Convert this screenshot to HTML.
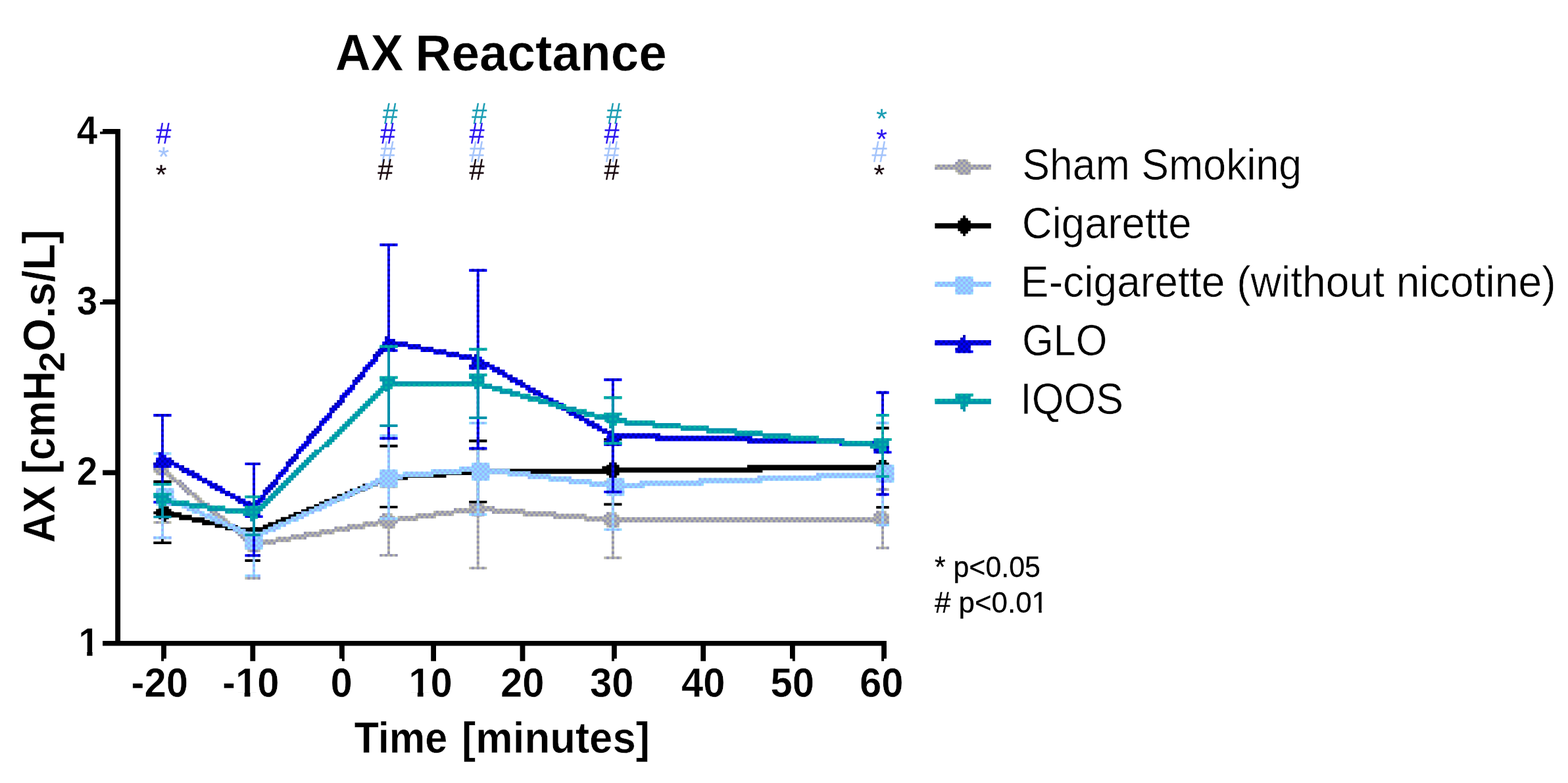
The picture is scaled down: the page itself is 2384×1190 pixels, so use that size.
<!DOCTYPE html>
<html lang="en">
<head>
<meta charset="utf-8">
<title>AX Reactance</title>
<style>
html,body{margin:0;padding:0;background:#fff;}
body{width:2384px;height:1190px;}
svg{display:block;}
text{white-space:pre;}
.r{stroke:#fff;stroke-width:0.6px;}
.b{stroke:#fff;stroke-width:0.5px;}
.p{stroke:#000;stroke-width:0.3px;}
</style>
</head>
<body>
<svg width="2384" height="1190" viewBox="0 0 2384 1190">
<rect width="2384" height="1190" fill="#fff"/>
<g id="plot">
<g>
<path fill="#b9b9a9" d="M248.89 709.61H252.78V713.8H248.89ZM245 713.5H256.67V717.69H245ZM248.89 717.39H260.56V721.58H248.89ZM252.78 721.28H264.45V725.47H252.78ZM256.67 725.17H268.34V729.36H256.67ZM260.56 729.06H276.12V733.25H260.56ZM268.34 732.95H280.01V737.14H268.34ZM272.23 736.84H283.9V741.03H272.23ZM276.12 740.73H287.79V744.92H276.12ZM280.01 744.62H291.68V748.81H280.01ZM283.9 748.51H299.46V752.7H283.9ZM291.68 752.4H303.35V756.59H291.68ZM295.57 756.29H307.24V760.48H295.57ZM299.46 760.18H311.13V764.37H299.46ZM303.35 764.07H318.91V768.26H303.35ZM311.13 767.96H322.8V772.15H311.13ZM315.02 771.85H326.69V776.04H315.02ZM318.91 775.74H330.58V779.93H318.91ZM322.8 779.63H334.47V783.82H322.8ZM326.69 783.52H342.25V787.71H326.69ZM334.47 787.41H346.14V791.6H334.47ZM338.36 791.3H350.03V795.49H338.36ZM342.25 795.19H353.92V799.38H342.25ZM346.14 799.08H361.7V803.27H346.14ZM353.92 802.97H365.59V807.16H353.92ZM357.81 806.86H369.48V811.05H357.81ZM361.7 810.75H373.37V814.94H361.7ZM365.59 814.64H377.26V818.83H365.59ZM369.48 818.53H385.04V822.72H369.48ZM377.26 822.42H385.04V826.61H377.26ZM381.15 826.31H385.04V830.2H381.15Z"/>
<path fill="#9292b3" d="M248.89 713.5h3.89v3.89h-3.89ZM252.78 717.39h3.89v3.89h-3.89ZM256.67 721.28h3.89v3.89h-3.89ZM260.56 725.17h3.89v3.89h-3.89ZM264.45 729.06h3.89v3.89h-3.89ZM272.23 729.06h3.89v3.89h-3.89ZM268.34 732.95h3.89v3.89h-3.89ZM276.12 732.95h3.89v3.89h-3.89ZM272.23 736.84h3.89v3.89h-3.89ZM280.01 736.84h3.89v3.89h-3.89ZM276.12 740.73h3.89v3.89h-3.89ZM283.9 740.73h3.89v3.89h-3.89ZM280.01 744.62h3.89v3.89h-3.89ZM287.79 744.62h3.89v3.89h-3.89ZM283.9 748.51h3.89v3.89h-3.89ZM291.68 748.51h3.89v3.89h-3.89ZM295.57 752.4h3.89v3.89h-3.89ZM299.46 756.29h3.89v3.89h-3.89ZM303.35 760.18h3.89v3.89h-3.89ZM307.24 764.07h3.89v3.89h-3.89ZM315.02 764.07h3.89v3.89h-3.89ZM311.13 767.96h3.89v3.89h-3.89ZM318.91 767.96h3.89v3.89h-3.89ZM315.02 771.85h3.89v3.89h-3.89ZM322.8 771.85h3.89v3.89h-3.89ZM318.91 775.74h3.89v3.89h-3.89ZM326.69 775.74h3.89v3.89h-3.89ZM322.8 779.63h3.89v3.89h-3.89ZM330.58 779.63h3.89v3.89h-3.89ZM326.69 783.52h3.89v3.89h-3.89ZM334.47 783.52h3.89v3.89h-3.89ZM338.36 787.41h3.89v3.89h-3.89ZM342.25 791.3h3.89v3.89h-3.89ZM346.14 795.19h3.89v3.89h-3.89ZM350.03 799.08h3.89v3.89h-3.89ZM357.81 799.08h3.89v3.89h-3.89ZM353.92 802.97h3.89v3.89h-3.89ZM361.7 802.97h3.89v3.89h-3.89ZM357.81 806.86h3.89v3.89h-3.89ZM365.59 806.86h3.89v3.89h-3.89ZM361.7 810.75h3.89v3.89h-3.89ZM369.48 810.75h3.89v3.89h-3.89ZM365.59 814.64h3.89v3.89h-3.89ZM373.37 814.64h3.89v3.89h-3.89ZM369.48 818.53h3.89v3.89h-3.89ZM377.26 818.53h3.89v3.89h-3.89ZM381.15 822.42h3.89v3.89h-3.89Z"/>
<path fill="#b9b9a9" d="M574.71 788.6H590.27V792.79H574.71ZM551.37 792.49H590.27V796.68H551.37ZM528.03 796.38H574.71V800.57H528.03ZM508.58 800.27H555.26V804.46H508.58ZM485.24 804.16H531.92V808.35H485.24ZM461.9 808.05H508.58V812.24H461.9ZM442.45 811.94H489.13V816.13H442.45ZM419.11 815.83H465.79V820.02H419.11ZM395.77 819.72H442.45V823.91H395.77ZM384.1 823.61H419.11V827.8H384.1ZM387.99 827.5H399.66V831.39H387.99Z"/>
<path fill="#9292b3" d="M574.71 788.6h3.89v3.89h-3.89ZM582.49 788.6h3.89v3.89h-3.89ZM555.26 792.49h3.89v3.89h-3.89ZM563.04 792.49h3.89v3.89h-3.89ZM570.82 792.49h3.89v3.89h-3.89ZM578.6 792.49h3.89v3.89h-3.89ZM586.38 792.49h3.89v3.89h-3.89ZM528.03 796.38h3.89v3.89h-3.89ZM535.81 796.38h3.89v3.89h-3.89ZM543.59 796.38h3.89v3.89h-3.89ZM551.37 796.38h3.89v3.89h-3.89ZM559.15 796.38h3.89v3.89h-3.89ZM566.93 796.38h3.89v3.89h-3.89ZM508.58 800.27h3.89v3.89h-3.89ZM516.36 800.27h3.89v3.89h-3.89ZM524.14 800.27h3.89v3.89h-3.89ZM531.92 800.27h3.89v3.89h-3.89ZM539.7 800.27h3.89v3.89h-3.89ZM547.48 800.27h3.89v3.89h-3.89ZM489.13 804.16h3.89v3.89h-3.89ZM496.91 804.16h3.89v3.89h-3.89ZM504.69 804.16h3.89v3.89h-3.89ZM512.47 804.16h3.89v3.89h-3.89ZM520.25 804.16h3.89v3.89h-3.89ZM528.03 804.16h3.89v3.89h-3.89ZM461.9 808.05h3.89v3.89h-3.89ZM469.68 808.05h3.89v3.89h-3.89ZM477.46 808.05h3.89v3.89h-3.89ZM485.24 808.05h3.89v3.89h-3.89ZM493.02 808.05h3.89v3.89h-3.89ZM500.8 808.05h3.89v3.89h-3.89ZM442.45 811.94h3.89v3.89h-3.89ZM450.23 811.94h3.89v3.89h-3.89ZM458.01 811.94h3.89v3.89h-3.89ZM465.79 811.94h3.89v3.89h-3.89ZM473.57 811.94h3.89v3.89h-3.89ZM481.35 811.94h3.89v3.89h-3.89ZM423 815.83h3.89v3.89h-3.89ZM430.78 815.83h3.89v3.89h-3.89ZM438.56 815.83h3.89v3.89h-3.89ZM446.34 815.83h3.89v3.89h-3.89ZM454.12 815.83h3.89v3.89h-3.89ZM461.9 815.83h3.89v3.89h-3.89ZM395.77 819.72h3.89v3.89h-3.89ZM403.55 819.72h3.89v3.89h-3.89ZM411.33 819.72h3.89v3.89h-3.89ZM419.11 819.72h3.89v3.89h-3.89ZM426.89 819.72h3.89v3.89h-3.89ZM434.67 819.72h3.89v3.89h-3.89ZM384.1 823.61h3.89v3.89h-3.89ZM391.88 823.61h3.89v3.89h-3.89ZM399.66 823.61h3.89v3.89h-3.89ZM407.44 823.61h3.89v3.89h-3.89ZM415.22 823.61h3.89v3.89h-3.89ZM387.99 827.5h3.89v3.89h-3.89ZM395.77 827.5h3.89v3.89h-3.89Z"/>
<path fill="#b9b9a9" d="M717.37 768.36H725.15V772.55H717.37ZM690.14 772.25H725.15V776.44H690.14ZM659.02 776.14H717.37V780.33H659.02ZM631.79 780.03H690.14V784.22H631.79ZM604.56 783.92H662.91V788.11H604.56ZM589 787.81H635.68V792H589ZM592.89 791.7H604.56V795.59H592.89Z"/>
<path fill="#9292b3" d="M717.37 768.36h3.89v3.89h-3.89ZM690.14 772.25h3.89v3.89h-3.89ZM697.92 772.25h3.89v3.89h-3.89ZM705.7 772.25h3.89v3.89h-3.89ZM713.48 772.25h3.89v3.89h-3.89ZM721.26 772.25h3.89v3.89h-3.89ZM662.91 776.14h3.89v3.89h-3.89ZM670.69 776.14h3.89v3.89h-3.89ZM678.47 776.14h3.89v3.89h-3.89ZM686.25 776.14h3.89v3.89h-3.89ZM694.03 776.14h3.89v3.89h-3.89ZM701.81 776.14h3.89v3.89h-3.89ZM709.59 776.14h3.89v3.89h-3.89ZM635.68 780.03h3.89v3.89h-3.89ZM643.46 780.03h3.89v3.89h-3.89ZM651.24 780.03h3.89v3.89h-3.89ZM659.02 780.03h3.89v3.89h-3.89ZM666.8 780.03h3.89v3.89h-3.89ZM674.58 780.03h3.89v3.89h-3.89ZM682.36 780.03h3.89v3.89h-3.89ZM608.45 783.92h3.89v3.89h-3.89ZM616.23 783.92h3.89v3.89h-3.89ZM624.01 783.92h3.89v3.89h-3.89ZM631.79 783.92h3.89v3.89h-3.89ZM639.57 783.92h3.89v3.89h-3.89ZM647.35 783.92h3.89v3.89h-3.89ZM655.13 783.92h3.89v3.89h-3.89ZM589 787.81h3.89v3.89h-3.89ZM596.78 787.81h3.89v3.89h-3.89ZM604.56 787.81h3.89v3.89h-3.89ZM612.34 787.81h3.89v3.89h-3.89ZM620.12 787.81h3.89v3.89h-3.89ZM627.9 787.81h3.89v3.89h-3.89ZM592.89 791.7h3.89v3.89h-3.89ZM600.67 791.7h3.89v3.89h-3.89Z"/>
<path fill="#b9b9a9" d="M728.69 769.11H752.03V773.3H728.69ZM724.8 773H798.71V777.19H724.8ZM748.14 776.89H845.39V781.08H748.14ZM794.82 780.78H892.07V784.97H794.82ZM841.5 784.67H930.97V788.86H841.5ZM888.18 788.56H930.97V792.45H888.18Z"/>
<path fill="#9292b3" d="M732.58 769.11h3.89v3.89h-3.89ZM740.36 769.11h3.89v3.89h-3.89ZM748.14 769.11h3.89v3.89h-3.89ZM728.69 773h3.89v3.89h-3.89ZM736.47 773h3.89v3.89h-3.89ZM744.25 773h3.89v3.89h-3.89ZM752.03 773h3.89v3.89h-3.89ZM759.81 773h3.89v3.89h-3.89ZM767.59 773h3.89v3.89h-3.89ZM775.37 773h3.89v3.89h-3.89ZM783.15 773h3.89v3.89h-3.89ZM790.93 773h3.89v3.89h-3.89ZM748.14 776.89h3.89v3.89h-3.89ZM755.92 776.89h3.89v3.89h-3.89ZM763.7 776.89h3.89v3.89h-3.89ZM771.48 776.89h3.89v3.89h-3.89ZM779.26 776.89h3.89v3.89h-3.89ZM787.04 776.89h3.89v3.89h-3.89ZM794.82 776.89h3.89v3.89h-3.89ZM802.6 776.89h3.89v3.89h-3.89ZM810.38 776.89h3.89v3.89h-3.89ZM818.16 776.89h3.89v3.89h-3.89ZM825.94 776.89h3.89v3.89h-3.89ZM833.72 776.89h3.89v3.89h-3.89ZM841.5 776.89h3.89v3.89h-3.89ZM798.71 780.78h3.89v3.89h-3.89ZM806.49 780.78h3.89v3.89h-3.89ZM814.27 780.78h3.89v3.89h-3.89ZM822.05 780.78h3.89v3.89h-3.89ZM829.83 780.78h3.89v3.89h-3.89ZM837.61 780.78h3.89v3.89h-3.89ZM845.39 780.78h3.89v3.89h-3.89ZM853.17 780.78h3.89v3.89h-3.89ZM860.95 780.78h3.89v3.89h-3.89ZM868.73 780.78h3.89v3.89h-3.89ZM876.51 780.78h3.89v3.89h-3.89ZM884.29 780.78h3.89v3.89h-3.89ZM841.5 784.67h3.89v3.89h-3.89ZM849.28 784.67h3.89v3.89h-3.89ZM857.06 784.67h3.89v3.89h-3.89ZM864.84 784.67h3.89v3.89h-3.89ZM872.62 784.67h3.89v3.89h-3.89ZM880.4 784.67h3.89v3.89h-3.89ZM888.18 784.67h3.89v3.89h-3.89ZM895.96 784.67h3.89v3.89h-3.89ZM903.74 784.67h3.89v3.89h-3.89ZM911.52 784.67h3.89v3.89h-3.89ZM919.3 784.67h3.89v3.89h-3.89ZM927.08 784.67h3.89v3.89h-3.89ZM892.07 788.56h3.89v3.89h-3.89ZM899.85 788.56h3.89v3.89h-3.89ZM907.63 788.56h3.89v3.89h-3.89ZM915.41 788.56h3.89v3.89h-3.89ZM923.19 788.56h3.89v3.89h-3.89Z"/>
<path fill="#b9b9a9" d="M929.9 786.11H1342.24V790.3H929.9ZM933.79 790H1342.24V793.89H933.79Z"/>
<path fill="#9292b3" d="M929.9 786.11h3.89v3.89h-3.89ZM937.68 786.11h3.89v3.89h-3.89ZM945.46 786.11h3.89v3.89h-3.89ZM953.24 786.11h3.89v3.89h-3.89ZM961.02 786.11h3.89v3.89h-3.89ZM968.8 786.11h3.89v3.89h-3.89ZM976.58 786.11h3.89v3.89h-3.89ZM984.36 786.11h3.89v3.89h-3.89ZM992.14 786.11h3.89v3.89h-3.89ZM999.92 786.11h3.89v3.89h-3.89ZM1007.7 786.11h3.89v3.89h-3.89ZM1015.48 786.11h3.89v3.89h-3.89ZM1023.26 786.11h3.89v3.89h-3.89ZM1031.04 786.11h3.89v3.89h-3.89ZM1038.82 786.11h3.89v3.89h-3.89ZM1046.6 786.11h3.89v3.89h-3.89ZM1054.38 786.11h3.89v3.89h-3.89ZM1062.16 786.11h3.89v3.89h-3.89ZM1069.94 786.11h3.89v3.89h-3.89ZM1077.72 786.11h3.89v3.89h-3.89ZM1085.5 786.11h3.89v3.89h-3.89ZM1093.28 786.11h3.89v3.89h-3.89ZM1101.06 786.11h3.89v3.89h-3.89ZM1108.84 786.11h3.89v3.89h-3.89ZM1116.62 786.11h3.89v3.89h-3.89ZM1124.4 786.11h3.89v3.89h-3.89ZM1132.18 786.11h3.89v3.89h-3.89ZM1139.96 786.11h3.89v3.89h-3.89ZM1147.74 786.11h3.89v3.89h-3.89ZM1155.52 786.11h3.89v3.89h-3.89ZM1163.3 786.11h3.89v3.89h-3.89ZM1171.08 786.11h3.89v3.89h-3.89ZM1178.86 786.11h3.89v3.89h-3.89ZM1186.64 786.11h3.89v3.89h-3.89ZM1194.42 786.11h3.89v3.89h-3.89ZM1202.2 786.11h3.89v3.89h-3.89ZM1209.98 786.11h3.89v3.89h-3.89ZM1217.76 786.11h3.89v3.89h-3.89ZM1225.54 786.11h3.89v3.89h-3.89ZM1233.32 786.11h3.89v3.89h-3.89ZM1241.1 786.11h3.89v3.89h-3.89ZM1248.88 786.11h3.89v3.89h-3.89ZM1256.66 786.11h3.89v3.89h-3.89ZM1264.44 786.11h3.89v3.89h-3.89ZM1272.22 786.11h3.89v3.89h-3.89ZM1280 786.11h3.89v3.89h-3.89ZM1287.78 786.11h3.89v3.89h-3.89ZM1295.56 786.11h3.89v3.89h-3.89ZM1303.34 786.11h3.89v3.89h-3.89ZM1311.12 786.11h3.89v3.89h-3.89ZM1318.9 786.11h3.89v3.89h-3.89ZM1326.68 786.11h3.89v3.89h-3.89ZM1334.46 786.11h3.89v3.89h-3.89ZM933.79 790h3.89v3.89h-3.89ZM941.57 790h3.89v3.89h-3.89ZM949.35 790h3.89v3.89h-3.89ZM957.13 790h3.89v3.89h-3.89ZM964.91 790h3.89v3.89h-3.89ZM972.69 790h3.89v3.89h-3.89ZM980.47 790h3.89v3.89h-3.89ZM988.25 790h3.89v3.89h-3.89ZM996.03 790h3.89v3.89h-3.89ZM1003.81 790h3.89v3.89h-3.89ZM1011.59 790h3.89v3.89h-3.89ZM1019.37 790h3.89v3.89h-3.89ZM1027.15 790h3.89v3.89h-3.89ZM1034.93 790h3.89v3.89h-3.89ZM1042.71 790h3.89v3.89h-3.89ZM1050.49 790h3.89v3.89h-3.89ZM1058.27 790h3.89v3.89h-3.89ZM1066.05 790h3.89v3.89h-3.89ZM1073.83 790h3.89v3.89h-3.89ZM1081.61 790h3.89v3.89h-3.89ZM1089.39 790h3.89v3.89h-3.89ZM1097.17 790h3.89v3.89h-3.89ZM1104.95 790h3.89v3.89h-3.89ZM1112.73 790h3.89v3.89h-3.89ZM1120.51 790h3.89v3.89h-3.89ZM1128.29 790h3.89v3.89h-3.89ZM1136.07 790h3.89v3.89h-3.89ZM1143.85 790h3.89v3.89h-3.89ZM1151.63 790h3.89v3.89h-3.89ZM1159.41 790h3.89v3.89h-3.89ZM1167.19 790h3.89v3.89h-3.89ZM1174.97 790h3.89v3.89h-3.89ZM1182.75 790h3.89v3.89h-3.89ZM1190.53 790h3.89v3.89h-3.89ZM1198.31 790h3.89v3.89h-3.89ZM1206.09 790h3.89v3.89h-3.89ZM1213.87 790h3.89v3.89h-3.89ZM1221.65 790h3.89v3.89h-3.89ZM1229.43 790h3.89v3.89h-3.89ZM1237.21 790h3.89v3.89h-3.89ZM1244.99 790h3.89v3.89h-3.89ZM1252.77 790h3.89v3.89h-3.89ZM1260.55 790h3.89v3.89h-3.89ZM1268.33 790h3.89v3.89h-3.89ZM1276.11 790h3.89v3.89h-3.89ZM1283.89 790h3.89v3.89h-3.89ZM1291.67 790h3.89v3.89h-3.89ZM1299.45 790h3.89v3.89h-3.89ZM1307.23 790h3.89v3.89h-3.89ZM1315.01 790h3.89v3.89h-3.89ZM1322.79 790h3.89v3.89h-3.89ZM1330.57 790h3.89v3.89h-3.89ZM1338.35 790h3.89v3.89h-3.89Z"/>
<path fill="#b9b9a9" d="M233.33 629.25H260.56V633.43H233.33ZM245 633.13H248.89V637.31H245ZM245 637.01H248.89V641.18H245ZM245 640.88H248.89V645.06H245ZM245 644.76H248.89V648.94H245ZM245 648.64H248.89V652.81H245ZM245 652.51H248.89V656.69H245ZM245 656.39H248.89V660.57H245ZM245 660.27H248.89V664.44H245ZM245 664.14H248.89V668.32H245ZM245 668.02H248.89V672.2H245ZM245 671.9H248.89V676.07H245ZM245 675.77H248.89V679.95H245ZM245 679.65H248.89V683.83H245ZM245 683.53H248.89V687.7H245ZM245 687.4H248.89V691.58H245ZM245 691.28H248.89V695.46H245ZM245 695.16H248.89V699.33H245ZM245 699.03H248.89V703.21H245ZM245 702.91H248.89V707.09H245ZM245 706.79H248.89V710.96H245ZM245 710.66H248.89V714.84H245ZM245 714.54H248.89V718.71H245ZM245 718.41H248.89V722.59H245ZM245 722.29H248.89V726.47H245ZM245 726.17H248.89V730.34H245ZM245 730.04H248.89V734.22H245ZM245 733.92H248.89V738.1H245ZM245 737.8H248.89V741.97H245ZM245 741.67H248.89V745.85H245ZM245 745.55H248.89V749.73H245ZM245 749.43H248.89V753.6H245ZM245 753.3H248.89V757.48H245ZM245 757.18H248.89V761.36H245ZM245 761.06H248.89V765.23H245ZM245 764.93H248.89V769.11H245ZM245 768.81H248.89V772.99H245ZM245 772.69H248.89V776.86H245ZM245 776.56H248.89V780.74H245ZM245 780.44H248.89V784.62H245ZM245 784.32H248.89V788.49H245ZM245 788.19H248.89V792.37H245ZM233.33 792.07H260.56V795.95H233.33Z"/>
<path fill="#9292b3" d="M237.22 629.25h3.89v3.88h-3.89ZM245 629.25h3.89v3.88h-3.89ZM252.78 629.25h3.89v3.88h-3.89ZM245 637.01h3.89v3.88h-3.89ZM245 644.76h3.89v3.88h-3.89ZM245 652.51h3.89v3.88h-3.89ZM245 660.27h3.89v3.88h-3.89ZM245 668.02h3.89v3.88h-3.89ZM245 675.77h3.89v3.88h-3.89ZM245 683.53h3.89v3.88h-3.89ZM245 691.28h3.89v3.88h-3.89ZM245 699.03h3.89v3.88h-3.89ZM245 706.79h3.89v3.88h-3.89ZM245 714.54h3.89v3.88h-3.89ZM245 722.29h3.89v3.88h-3.89ZM245 730.04h3.89v3.88h-3.89ZM245 737.8h3.89v3.88h-3.89ZM245 745.55h3.89v3.88h-3.89ZM245 753.3h3.89v3.88h-3.89ZM245 761.06h3.89v3.88h-3.89ZM245 768.81h3.89v3.88h-3.89ZM245 776.56h3.89v3.88h-3.89ZM245 784.32h3.89v3.88h-3.89ZM237.22 792.07h3.89v3.88h-3.89ZM245 792.07h3.89v3.88h-3.89ZM252.78 792.07h3.89v3.88h-3.89Z"/>
<path fill="#b9b9a9" d="M372.43 774.05H395.77V778.31H372.43ZM384.1 778.01H387.99V782.26H384.1ZM384.1 781.96H387.99V786.21H384.1ZM384.1 785.91H387.99V790.16H384.1ZM384.1 789.86H387.99V794.11H384.1ZM384.1 793.81H387.99V798.06H384.1ZM384.1 797.76H387.99V802.02H384.1ZM384.1 801.72H387.99V805.97H384.1ZM384.1 805.67H387.99V809.92H384.1ZM384.1 809.62H387.99V813.87H384.1ZM384.1 813.57H387.99V817.82H384.1ZM384.1 817.52H387.99V821.77H384.1ZM384.1 821.47H387.99V825.72H384.1ZM384.1 825.42H387.99V829.68H384.1ZM384.1 829.38H387.99V833.63H384.1ZM384.1 833.33H387.99V837.58H384.1ZM384.1 837.28H387.99V841.53H384.1ZM384.1 841.23H387.99V845.48H384.1ZM384.1 845.18H387.99V849.43H384.1ZM384.1 849.13H387.99V853.38H384.1ZM384.1 853.08H387.99V857.34H384.1ZM384.1 857.04H387.99V861.29H384.1ZM384.1 860.99H387.99V865.24H384.1ZM384.1 864.94H387.99V869.19H384.1ZM384.1 868.89H387.99V873.14H384.1ZM384.1 872.84H387.99V877.09H384.1ZM372.43 876.79H395.77V880.75H372.43Z"/>
<path fill="#9292b3" d="M376.32 774.05h3.89v3.95h-3.89ZM384.1 774.05h3.89v3.95h-3.89ZM391.88 774.05h3.89v3.95h-3.89ZM384.1 781.96h3.89v3.95h-3.89ZM384.1 789.86h3.89v3.95h-3.89ZM384.1 797.76h3.89v3.95h-3.89ZM384.1 805.67h3.89v3.95h-3.89ZM384.1 813.57h3.89v3.95h-3.89ZM384.1 821.47h3.89v3.95h-3.89ZM384.1 829.38h3.89v3.95h-3.89ZM384.1 837.28h3.89v3.95h-3.89ZM384.1 845.18h3.89v3.95h-3.89ZM384.1 853.08h3.89v3.95h-3.89ZM384.1 860.99h3.89v3.95h-3.89ZM384.1 868.89h3.89v3.95h-3.89ZM376.32 876.79h3.89v3.95h-3.89ZM384.1 876.79h3.89v3.95h-3.89ZM391.88 876.79h3.89v3.95h-3.89Z"/>
<path fill="#b9b9a9" d="M577.33 737.55H604.56V741.72H577.33ZM589 741.42H592.89V745.59H589ZM589 745.29H592.89V749.46H589ZM589 749.16H592.89V753.32H589ZM589 753.02H592.89V757.19H589ZM589 756.89H592.89V761.06H589ZM589 760.76H592.89V764.93H589ZM589 764.63H592.89V768.79H589ZM589 768.5H592.89V772.66H589ZM589 772.36H592.89V776.53H589ZM589 776.23H592.89V780.4H589ZM589 780.1H592.89V784.26H589ZM589 783.97H592.89V788.13H589ZM589 787.83H592.89V792H589ZM589 791.7H592.89V795.87H589ZM589 795.57H592.89V799.73H589ZM589 799.43H592.89V803.6H589ZM589 803.3H592.89V807.47H589ZM589 807.17H592.89V811.34H589ZM589 811.04H592.89V815.2H589ZM589 814.9H592.89V819.07H589ZM589 818.77H592.89V822.94H589ZM589 822.64H592.89V826.81H589ZM589 826.51H592.89V830.67H589ZM589 830.38H592.89V834.54H589ZM589 834.24H592.89V838.41H589ZM589 838.11H592.89V842.28H589ZM577.33 841.98H604.56V845.85H577.33Z"/>
<path fill="#9292b3" d="M581.22 737.55h3.89v3.87h-3.89ZM589 737.55h3.89v3.87h-3.89ZM596.78 737.55h3.89v3.87h-3.89ZM589 745.29h3.89v3.87h-3.89ZM589 753.02h3.89v3.87h-3.89ZM589 760.76h3.89v3.87h-3.89ZM589 768.5h3.89v3.87h-3.89ZM589 776.23h3.89v3.87h-3.89ZM589 783.97h3.89v3.87h-3.89ZM589 791.7h3.89v3.87h-3.89ZM589 799.43h3.89v3.87h-3.89ZM589 807.17h3.89v3.87h-3.89ZM589 814.9h3.89v3.87h-3.89ZM589 822.64h3.89v3.87h-3.89ZM589 830.38h3.89v3.87h-3.89ZM589 838.11h3.89v3.87h-3.89ZM577.33 841.98h3.89v3.87h-3.89ZM585.11 841.98h3.89v3.87h-3.89ZM592.89 841.98h3.89v3.87h-3.89ZM600.67 841.98h3.89v3.87h-3.89Z"/>
<path fill="#b9b9a9" d="M713.13 680.65H740.36V684.88H713.13ZM724.8 684.58H728.69V688.81H724.8ZM724.8 688.51H728.69V692.74H724.8ZM724.8 692.44H728.69V696.67H724.8ZM724.8 696.37H728.69V700.6H724.8ZM724.8 700.3H728.69V704.53H724.8ZM724.8 704.23H728.69V708.46H724.8ZM724.8 708.16H728.69V712.39H724.8ZM724.8 712.09H728.69V716.32H724.8ZM724.8 716.02H728.69V720.25H724.8ZM724.8 719.95H728.69V724.18H724.8ZM724.8 723.88H728.69V728.11H724.8ZM724.8 727.81H728.69V732.04H724.8ZM724.8 731.74H728.69V735.97H724.8ZM724.8 735.67H728.69V739.9H724.8ZM724.8 739.6H728.69V743.83H724.8ZM724.8 743.53H728.69V747.76H724.8ZM724.8 747.46H728.69V751.69H724.8ZM724.8 751.39H728.69V755.62H724.8ZM724.8 755.32H728.69V759.55H724.8ZM724.8 759.25H728.69V763.48H724.8ZM724.8 763.18H728.69V767.41H724.8ZM724.8 767.11H728.69V771.34H724.8ZM724.8 771.04H728.69V775.26H724.8ZM724.8 774.96H728.69V779.19H724.8ZM724.8 778.89H728.69V783.12H724.8ZM724.8 782.82H728.69V787.05H724.8ZM724.8 786.75H728.69V790.98H724.8ZM724.8 790.68H728.69V794.91H724.8ZM724.8 794.61H728.69V798.84H724.8ZM724.8 798.54H728.69V802.77H724.8ZM724.8 802.47H728.69V806.7H724.8ZM724.8 806.4H728.69V810.63H724.8ZM724.8 810.33H728.69V814.56H724.8ZM724.8 814.26H728.69V818.49H724.8ZM724.8 818.19H728.69V822.42H724.8ZM724.8 822.12H728.69V826.35H724.8ZM724.8 826.05H728.69V830.28H724.8ZM724.8 829.98H728.69V834.21H724.8ZM724.8 833.91H728.69V838.14H724.8ZM724.8 837.84H728.69V842.07H724.8ZM724.8 841.77H728.69V846H724.8ZM724.8 845.7H728.69V849.93H724.8ZM724.8 849.63H728.69V853.86H724.8ZM724.8 853.56H728.69V857.79H724.8ZM724.8 857.49H728.69V861.72H724.8ZM713.13 861.42H740.36V865.35H713.13Z"/>
<path fill="#9292b3" d="M717.02 680.65h3.89v3.93h-3.89ZM724.8 680.65h3.89v3.93h-3.89ZM732.58 680.65h3.89v3.93h-3.89ZM724.8 688.51h3.89v3.93h-3.89ZM724.8 696.37h3.89v3.93h-3.89ZM724.8 704.23h3.89v3.93h-3.89ZM724.8 712.09h3.89v3.93h-3.89ZM724.8 719.95h3.89v3.93h-3.89ZM724.8 727.81h3.89v3.93h-3.89ZM724.8 735.67h3.89v3.93h-3.89ZM724.8 743.53h3.89v3.93h-3.89ZM724.8 751.39h3.89v3.93h-3.89ZM724.8 759.25h3.89v3.93h-3.89ZM724.8 767.11h3.89v3.93h-3.89ZM724.8 774.96h3.89v3.93h-3.89ZM724.8 782.82h3.89v3.93h-3.89ZM724.8 790.68h3.89v3.93h-3.89ZM724.8 798.54h3.89v3.93h-3.89ZM724.8 806.4h3.89v3.93h-3.89ZM724.8 814.26h3.89v3.93h-3.89ZM724.8 822.12h3.89v3.93h-3.89ZM724.8 829.98h3.89v3.93h-3.89ZM724.8 837.84h3.89v3.93h-3.89ZM724.8 845.7h3.89v3.93h-3.89ZM724.8 853.56h3.89v3.93h-3.89ZM717.02 861.42h3.89v3.93h-3.89ZM724.8 861.42h3.89v3.93h-3.89ZM732.58 861.42h3.89v3.93h-3.89Z"/>
<path fill="#b9b9a9" d="M918.23 730.35H945.46V734.5H918.23ZM929.9 734.2H933.79V738.35H929.9ZM929.9 738.05H933.79V742.2H929.9ZM929.9 741.9H933.79V746.05H929.9ZM929.9 745.75H933.79V749.9H929.9ZM929.9 749.6H933.79V753.74H929.9ZM929.9 753.44H933.79V757.59H929.9ZM929.9 757.29H933.79V761.44H929.9ZM929.9 761.14H933.79V765.29H929.9ZM929.9 764.99H933.79V769.14H929.9ZM929.9 768.84H933.79V772.98H929.9ZM929.9 772.68H933.79V776.83H929.9ZM929.9 776.53H933.79V780.68H929.9ZM929.9 780.38H933.79V784.53H929.9ZM929.9 784.23H933.79V788.38H929.9ZM929.9 788.08H933.79V792.22H929.9ZM929.9 791.92H933.79V796.07H929.9ZM929.9 795.77H933.79V799.92H929.9ZM929.9 799.62H933.79V803.77H929.9ZM929.9 803.47H933.79V807.62H929.9ZM929.9 807.32H933.79V811.46H929.9ZM929.9 811.16H933.79V815.31H929.9ZM929.9 815.01H933.79V819.16H929.9ZM929.9 818.86H933.79V823.01H929.9ZM929.9 822.71H933.79V826.86H929.9ZM929.9 826.56H933.79V830.7H929.9ZM929.9 830.4H933.79V834.55H929.9ZM929.9 834.25H933.79V838.4H929.9ZM929.9 838.1H933.79V842.25H929.9ZM929.9 841.95H933.79V846.1H929.9ZM918.23 845.8H945.46V849.65H918.23Z"/>
<path fill="#9292b3" d="M922.12 730.35h3.89v3.85h-3.89ZM929.9 730.35h3.89v3.85h-3.89ZM937.68 730.35h3.89v3.85h-3.89ZM929.9 738.05h3.89v3.85h-3.89ZM929.9 745.75h3.89v3.85h-3.89ZM929.9 753.44h3.89v3.85h-3.89ZM929.9 761.14h3.89v3.85h-3.89ZM929.9 768.84h3.89v3.85h-3.89ZM929.9 776.53h3.89v3.85h-3.89ZM929.9 784.23h3.89v3.85h-3.89ZM929.9 791.92h3.89v3.85h-3.89ZM929.9 799.62h3.89v3.85h-3.89ZM929.9 807.32h3.89v3.85h-3.89ZM929.9 815.01h3.89v3.85h-3.89ZM929.9 822.71h3.89v3.85h-3.89ZM929.9 830.4h3.89v3.85h-3.89ZM929.9 838.1h3.89v3.85h-3.89ZM922.12 845.8h3.89v3.85h-3.89ZM929.9 845.8h3.89v3.85h-3.89ZM937.68 845.8h3.89v3.85h-3.89Z"/>
<path fill="#b9b9a9" d="M1332.22 741.75H1351.67V745.93H1332.22ZM1340 745.63H1343.89V749.8H1340ZM1340 749.5H1343.89V753.67H1340ZM1340 753.37H1343.89V757.54H1340ZM1340 757.24H1343.89V761.41H1340ZM1340 761.11H1343.89V765.28H1340ZM1340 764.98H1343.89V769.15H1340ZM1340 768.85H1343.89V773.02H1340ZM1340 772.72H1343.89V776.89H1340ZM1340 776.59H1343.89V780.76H1340ZM1340 780.46H1343.89V784.63H1340ZM1340 784.33H1343.89V788.5H1340ZM1340 788.2H1343.89V792.37H1340ZM1340 792.07H1343.89V796.24H1340ZM1340 795.94H1343.89V800.11H1340ZM1340 799.81H1343.89V803.98H1340ZM1340 803.68H1343.89V807.85H1340ZM1340 807.55H1343.89V811.72H1340ZM1340 811.42H1343.89V815.59H1340ZM1340 815.29H1343.89V819.46H1340ZM1340 819.16H1343.89V823.33H1340ZM1340 823.03H1343.89V827.2H1340ZM1340 826.9H1343.89V831.07H1340ZM1332.22 830.77H1351.67V834.65H1332.22Z"/>
<path fill="#9292b3" d="M1336.11 741.75h3.89v3.87h-3.89ZM1343.89 741.75h3.89v3.87h-3.89ZM1340 745.63h3.89v3.87h-3.89ZM1340 753.37h3.89v3.87h-3.89ZM1340 761.11h3.89v3.87h-3.89ZM1340 768.85h3.89v3.87h-3.89ZM1340 776.59h3.89v3.87h-3.89ZM1340 784.33h3.89v3.87h-3.89ZM1340 792.07h3.89v3.87h-3.89ZM1340 799.81h3.89v3.87h-3.89ZM1340 807.55h3.89v3.87h-3.89ZM1340 815.29h3.89v3.87h-3.89ZM1340 823.03h3.89v3.87h-3.89ZM1332.22 830.77h3.89v3.87h-3.89ZM1340 830.77h3.89v3.87h-3.89ZM1347.78 830.77h3.89v3.87h-3.89Z"/>
<path fill="#b9b9a9" d="M237.22 698.83H252.78V703.02H237.22ZM233.33 702.72H256.67V706.91H233.33ZM233.33 706.61H256.67V710.8H233.33ZM233.33 710.5H256.67V714.69H233.33ZM233.33 714.39H256.67V718.58H233.33ZM237.22 718.28H256.67V722.17H237.22Z"/>
<path fill="#9292b3" d="M237.22 698.83h3.89v3.89h-3.89ZM245 698.83h3.89v3.89h-3.89ZM233.33 702.72h3.89v3.89h-3.89ZM241.11 702.72h3.89v3.89h-3.89ZM248.89 702.72h3.89v3.89h-3.89ZM237.22 706.61h3.89v3.89h-3.89ZM245 706.61h3.89v3.89h-3.89ZM252.78 706.61h3.89v3.89h-3.89ZM233.33 710.5h3.89v3.89h-3.89ZM241.11 710.5h3.89v3.89h-3.89ZM248.89 710.5h3.89v3.89h-3.89ZM237.22 714.39h3.89v3.89h-3.89ZM245 714.39h3.89v3.89h-3.89ZM252.78 714.39h3.89v3.89h-3.89ZM241.11 718.28h3.89v3.89h-3.89ZM248.89 718.28h3.89v3.89h-3.89Z"/>
<path fill="#b9b9a9" d="M376.32 815.83H391.88V820.02H376.32ZM372.43 819.72H395.77V823.91H372.43ZM372.43 823.61H395.77V827.8H372.43ZM372.43 827.5H395.77V831.69H372.43ZM372.43 831.39H395.77V835.58H372.43ZM376.32 835.28H395.77V839.17H376.32Z"/>
<path fill="#9292b3" d="M376.32 815.83h3.89v3.89h-3.89ZM384.1 815.83h3.89v3.89h-3.89ZM372.43 819.72h3.89v3.89h-3.89ZM380.21 819.72h3.89v3.89h-3.89ZM387.99 819.72h3.89v3.89h-3.89ZM376.32 823.61h3.89v3.89h-3.89ZM384.1 823.61h3.89v3.89h-3.89ZM391.88 823.61h3.89v3.89h-3.89ZM372.43 827.5h3.89v3.89h-3.89ZM380.21 827.5h3.89v3.89h-3.89ZM387.99 827.5h3.89v3.89h-3.89ZM376.32 831.39h3.89v3.89h-3.89ZM384.1 831.39h3.89v3.89h-3.89ZM391.88 831.39h3.89v3.89h-3.89ZM380.21 835.28h3.89v3.89h-3.89ZM387.99 835.28h3.89v3.89h-3.89Z"/>
<path fill="#b9b9a9" d="M581.22 780.03H596.78V784.22H581.22ZM577.33 783.92H600.67V788.11H577.33ZM577.33 787.81H600.67V792H577.33ZM577.33 791.7H600.67V795.89H577.33ZM577.33 795.59H600.67V799.78H577.33ZM581.22 799.48H600.67V803.37H581.22Z"/>
<path fill="#9292b3" d="M581.22 780.03h3.89v3.89h-3.89ZM589 780.03h3.89v3.89h-3.89ZM577.33 783.92h3.89v3.89h-3.89ZM585.11 783.92h3.89v3.89h-3.89ZM592.89 783.92h3.89v3.89h-3.89ZM581.22 787.81h3.89v3.89h-3.89ZM589 787.81h3.89v3.89h-3.89ZM596.78 787.81h3.89v3.89h-3.89ZM577.33 791.7h3.89v3.89h-3.89ZM585.11 791.7h3.89v3.89h-3.89ZM592.89 791.7h3.89v3.89h-3.89ZM581.22 795.59h3.89v3.89h-3.89ZM589 795.59h3.89v3.89h-3.89ZM596.78 795.59h3.89v3.89h-3.89ZM585.11 799.48h3.89v3.89h-3.89ZM592.89 799.48h3.89v3.89h-3.89Z"/>
<path fill="#b9b9a9" d="M717.02 761.33H732.58V765.52H717.02ZM713.13 765.22H736.47V769.41H713.13ZM713.13 769.11H736.47V773.3H713.13ZM713.13 773H736.47V777.19H713.13ZM713.13 776.89H736.47V781.08H713.13ZM717.02 780.78H736.47V784.67H717.02Z"/>
<path fill="#9292b3" d="M717.02 761.33h3.89v3.89h-3.89ZM724.8 761.33h3.89v3.89h-3.89ZM713.13 765.22h3.89v3.89h-3.89ZM720.91 765.22h3.89v3.89h-3.89ZM728.69 765.22h3.89v3.89h-3.89ZM717.02 769.11h3.89v3.89h-3.89ZM724.8 769.11h3.89v3.89h-3.89ZM732.58 769.11h3.89v3.89h-3.89ZM713.13 773h3.89v3.89h-3.89ZM720.91 773h3.89v3.89h-3.89ZM728.69 773h3.89v3.89h-3.89ZM717.02 776.89h3.89v3.89h-3.89ZM724.8 776.89h3.89v3.89h-3.89ZM732.58 776.89h3.89v3.89h-3.89ZM720.91 780.78h3.89v3.89h-3.89ZM728.69 780.78h3.89v3.89h-3.89Z"/>
<path fill="#b9b9a9" d="M922.12 778.33H937.68V782.52H922.12ZM918.23 782.22H941.57V786.41H918.23ZM918.23 786.11H941.57V790.3H918.23ZM918.23 790H941.57V794.19H918.23ZM918.23 793.89H941.57V798.08H918.23ZM922.12 797.78H941.57V801.67H922.12Z"/>
<path fill="#9292b3" d="M922.12 778.33h3.89v3.89h-3.89ZM929.9 778.33h3.89v3.89h-3.89ZM918.23 782.22h3.89v3.89h-3.89ZM926.01 782.22h3.89v3.89h-3.89ZM933.79 782.22h3.89v3.89h-3.89ZM922.12 786.11h3.89v3.89h-3.89ZM929.9 786.11h3.89v3.89h-3.89ZM937.68 786.11h3.89v3.89h-3.89ZM918.23 790h3.89v3.89h-3.89ZM926.01 790h3.89v3.89h-3.89ZM933.79 790h3.89v3.89h-3.89ZM922.12 793.89h3.89v3.89h-3.89ZM929.9 793.89h3.89v3.89h-3.89ZM937.68 793.89h3.89v3.89h-3.89ZM926.01 797.78h3.89v3.89h-3.89ZM933.79 797.78h3.89v3.89h-3.89Z"/>
<path fill="#b9b9a9" d="M1332.22 776.53H1347.78V780.72H1332.22ZM1328.33 780.42H1351.67V784.61H1328.33ZM1328.33 784.31H1351.67V788.5H1328.33ZM1328.33 788.2H1351.67V792.39H1328.33ZM1328.33 792.09H1351.67V796.28H1328.33ZM1332.22 795.98H1351.67V799.87H1332.22Z"/>
<path fill="#9292b3" d="M1332.22 776.53h3.89v3.89h-3.89ZM1340 776.53h3.89v3.89h-3.89ZM1328.33 780.42h3.89v3.89h-3.89ZM1336.11 780.42h3.89v3.89h-3.89ZM1343.89 780.42h3.89v3.89h-3.89ZM1332.22 784.31h3.89v3.89h-3.89ZM1340 784.31h3.89v3.89h-3.89ZM1347.78 784.31h3.89v3.89h-3.89ZM1328.33 788.2h3.89v3.89h-3.89ZM1336.11 788.2h3.89v3.89h-3.89ZM1343.89 788.2h3.89v3.89h-3.89ZM1332.22 792.09h3.89v3.89h-3.89ZM1340 792.09h3.89v3.89h-3.89ZM1347.78 792.09h3.89v3.89h-3.89ZM1336.11 795.98h3.89v3.89h-3.89ZM1343.89 795.98h3.89v3.89h-3.89Z"/>
</g>
<g>
<path fill="#000000" d="M248.89 774.61H256.67V778.8H248.89ZM245 778.5H276.12V782.69H245ZM256.67 782.39H291.68V786.58H256.67ZM272.23 786.28H311.13V790.47H272.23ZM291.68 790.17H326.69V794.36H291.68ZM307.24 794.06H346.14V798.25H307.24ZM326.69 797.95H361.7V802.14H326.69ZM342.25 801.84H381.15V806.03H342.25ZM361.7 805.73H385.04V809.92H361.7ZM377.26 809.62H385.04V813.51H377.26Z"/>
<path fill="#000000" d="M582.49 723.42H590.27V727.61H582.49ZM570.82 727.31H590.27V731.5H570.82ZM563.04 731.2H582.49V735.39H563.04ZM551.37 735.09H574.71V739.28H551.37ZM543.59 738.98H563.04V743.17H543.59ZM531.92 742.87H555.26V747.06H531.92ZM524.14 746.76H543.59V750.95H524.14ZM512.47 750.65H535.81V754.84H512.47ZM504.69 754.54H524.14V758.73H504.69ZM493.02 758.43H516.36V762.62H493.02ZM485.24 762.32H504.69V766.51H485.24ZM477.46 766.21H496.91V770.4H477.46ZM465.79 770.1H489.13V774.29H465.79ZM458.01 773.99H477.46V778.18H458.01ZM446.34 777.88H469.68V782.07H446.34ZM438.56 781.77H458.01V785.96H438.56ZM426.89 785.66H450.23V789.85H426.89ZM419.11 789.55H438.56V793.74H419.11ZM407.44 793.44H430.78V797.63H407.44ZM399.66 797.33H419.11V801.52H399.66ZM387.99 801.22H411.33V805.41H387.99ZM384.1 805.11H399.66V809.3H384.1ZM387.99 809H391.88V812.89H387.99Z"/>
<path fill="#000000" d="M674.58 713.93H725.15V718.12H674.58ZM616.23 717.82H725.15V722.01H616.23ZM589 721.71H678.47V725.9H589ZM592.89 725.6H620.12V729.49H592.89Z"/>
<path fill="#000000" d="M915.41 708.62H930.97V712.81H915.41ZM724.8 712.51H930.97V716.7H724.8ZM728.69 716.4H930.97V720.29H728.69Z"/>
<path fill="#000000" d="M1136.07 706.62H1342.24V710.81H1136.07ZM929.9 710.51H1342.24V714.7H929.9ZM933.79 714.4H1159.41V718.29H933.79Z"/>
<path fill="#000000" d="M233.33 730.05H260.56V734.23H233.33ZM245 733.93H248.89V738.11H245ZM245 737.81H248.89V741.98H245ZM245 741.68H248.89V745.86H245ZM245 745.56H248.89V749.73H245ZM245 749.43H248.89V753.61H245ZM245 753.31H248.89V757.48H245ZM245 757.18H248.89V761.36H245ZM245 761.06H248.89V765.24H245ZM245 764.94H248.89V769.11H245ZM245 768.81H248.89V772.99H245ZM245 772.69H248.89V776.86H245ZM245 776.56H248.89V780.74H245ZM245 780.44H248.89V784.61H245ZM245 784.31H248.89V788.49H245ZM245 788.19H248.89V792.36H245ZM245 792.06H248.89V796.24H245ZM245 795.94H248.89V800.12H245ZM245 799.82H248.89V803.99H245ZM245 803.69H248.89V807.87H245ZM245 807.57H248.89V811.74H245ZM245 811.44H248.89V815.62H245ZM245 815.32H248.89V819.49H245ZM245 819.19H248.89V823.37H245ZM233.33 823.07H260.56V826.95H233.33Z"/>
<path fill="#000000" d="M372.43 769.05H395.77V773.21H372.43ZM384.1 772.91H387.99V777.07H384.1ZM384.1 776.77H387.99V780.93H384.1ZM384.1 780.63H387.99V784.79H384.1ZM384.1 784.49H387.99V788.65H384.1ZM384.1 788.35H387.99V792.51H384.1ZM384.1 792.21H387.99V796.37H384.1ZM384.1 796.07H387.99V800.22H384.1ZM384.1 799.92H387.99V804.08H384.1ZM384.1 803.78H387.99V807.94H384.1ZM384.1 807.64H387.99V811.8H384.1ZM384.1 811.5H387.99V815.66H384.1ZM384.1 815.36H387.99V819.52H384.1ZM384.1 819.22H387.99V823.38H384.1ZM384.1 823.08H387.99V827.23H384.1ZM384.1 826.93H387.99V831.09H384.1ZM384.1 830.79H387.99V834.95H384.1ZM384.1 834.65H387.99V838.81H384.1ZM384.1 838.51H387.99V842.67H384.1ZM384.1 842.37H387.99V846.53H384.1ZM384.1 846.23H387.99V850.39H384.1ZM372.43 850.09H395.77V853.95H372.43Z"/>
<path fill="#000000" d="M577.33 675.85H604.56V680.02H577.33ZM589 679.72H592.89V683.89H589ZM589 683.59H592.89V687.76H589ZM589 687.46H592.89V691.63H589ZM589 691.33H592.89V695.49H589ZM589 695.19H592.89V699.36H589ZM589 699.06H592.89V703.23H589ZM589 702.93H592.89V707.1H589ZM589 706.8H592.89V710.96H589ZM589 710.66H592.89V714.83H589ZM589 714.53H592.89V718.7H589ZM589 718.4H592.89V722.57H589ZM589 722.27H592.89V726.43H589ZM589 726.13H592.89V730.3H589ZM589 730H592.89V734.17H589ZM589 733.87H592.89V738.04H589ZM589 737.74H592.89V741.9H589ZM589 741.6H592.89V745.77H589ZM589 745.47H592.89V749.64H589ZM589 749.34H592.89V753.51H589ZM589 753.21H592.89V757.37H589ZM589 757.07H592.89V761.24H589ZM589 760.94H592.89V765.11H589ZM589 764.81H592.89V768.98H589ZM577.33 768.68H604.56V772.55H577.33Z"/>
<path fill="#000000" d="M713.13 667.95H740.36V672.13H713.13ZM724.8 671.83H728.69V676.01H724.8ZM724.8 675.71H728.69V679.88H724.8ZM724.8 679.58H728.69V683.76H724.8ZM724.8 683.46H728.69V687.63H724.8ZM724.8 687.33H728.69V691.51H724.8ZM724.8 691.21H728.69V695.38H724.8ZM724.8 695.08H728.69V699.26H724.8ZM724.8 698.96H728.69V703.14H724.8ZM724.8 702.84H728.69V707.01H724.8ZM724.8 706.71H728.69V710.89H724.8ZM724.8 710.59H728.69V714.76H724.8ZM724.8 714.46H728.69V718.64H724.8ZM724.8 718.34H728.69V722.51H724.8ZM724.8 722.21H728.69V726.39H724.8ZM724.8 726.09H728.69V730.26H724.8ZM724.8 729.96H728.69V734.14H724.8ZM724.8 733.84H728.69V738.02H724.8ZM724.8 737.72H728.69V741.89H724.8ZM724.8 741.59H728.69V745.77H724.8ZM724.8 745.47H728.69V749.64H724.8ZM724.8 749.34H728.69V753.52H724.8ZM724.8 753.22H728.69V757.39H724.8ZM724.8 757.09H728.69V761.27H724.8ZM713.13 760.97H740.36V764.85H713.13Z"/>
<path fill="#000000" d="M918.23 666.05H945.46V670.29H918.23ZM929.9 669.99H933.79V674.23H929.9ZM929.9 673.93H933.79V678.17H929.9ZM929.9 677.87H933.79V682.11H929.9ZM929.9 681.81H933.79V686.05H929.9ZM929.9 685.75H933.79V689.98H929.9ZM929.9 689.68H933.79V693.92H929.9ZM929.9 693.62H933.79V697.86H929.9ZM929.9 697.56H933.79V701.8H929.9ZM929.9 701.5H933.79V705.74H929.9ZM929.9 705.44H933.79V709.67H929.9ZM929.9 709.37H933.79V713.61H929.9ZM929.9 713.31H933.79V717.55H929.9ZM929.9 717.25H933.79V721.49H929.9ZM929.9 721.19H933.79V725.43H929.9ZM929.9 725.13H933.79V729.36H929.9ZM929.9 729.06H933.79V733.3H929.9ZM929.9 733H933.79V737.24H929.9ZM929.9 736.94H933.79V741.18H929.9ZM929.9 740.88H933.79V745.12H929.9ZM929.9 744.82H933.79V749.05H929.9ZM929.9 748.75H933.79V752.99H929.9ZM929.9 752.69H933.79V756.93H929.9ZM929.9 756.63H933.79V760.87H929.9ZM929.9 760.57H933.79V764.81H929.9ZM918.23 764.51H945.46V768.45H918.23Z"/>
<path fill="#000000" d="M1332.22 648.55H1351.67V652.74H1332.22ZM1340 652.44H1343.89V656.63H1340ZM1340 656.33H1343.89V660.52H1340ZM1340 660.22H1343.89V664.4H1340ZM1340 664.1H1343.89V668.29H1340ZM1340 667.99H1343.89V672.18H1340ZM1340 671.88H1343.89V676.07H1340ZM1340 675.77H1343.89V679.95H1340ZM1340 679.65H1343.89V683.84H1340ZM1340 683.54H1343.89V687.73H1340ZM1340 687.43H1343.89V691.61H1340ZM1340 691.31H1343.89V695.5H1340ZM1340 695.2H1343.89V699.39H1340ZM1340 699.09H1343.89V703.28H1340ZM1340 702.98H1343.89V707.16H1340ZM1340 706.86H1343.89V711.05H1340ZM1340 710.75H1343.89V714.94H1340ZM1340 714.64H1343.89V718.82H1340ZM1340 718.52H1343.89V722.71H1340ZM1340 722.41H1343.89V726.6H1340ZM1340 726.3H1343.89V730.49H1340ZM1340 730.19H1343.89V734.37H1340ZM1340 734.07H1343.89V738.26H1340ZM1340 737.96H1343.89V742.15H1340ZM1340 741.85H1343.89V746.03H1340ZM1340 745.73H1343.89V749.92H1340ZM1340 749.62H1343.89V753.81H1340ZM1340 753.51H1343.89V757.7H1340ZM1340 757.4H1343.89V761.58H1340ZM1340 761.28H1343.89V765.47H1340ZM1340 765.17H1343.89V769.36H1340ZM1332.22 769.06H1351.67V772.95H1332.22Z"/>
<path fill="#000000" d="M241.11 769.55H256.67V773.74H241.11ZM237.22 773.44H260.56V777.63H237.22ZM233.33 777.33H264.45V781.52H233.33ZM237.22 781.22H260.56V785.41H237.22ZM241.11 785.11H256.67V789.3H241.11ZM245 789H252.78V792.89H245Z"/>
<path fill="#000000" d="M384.1 797.33H387.99V801.52H384.1ZM380.21 801.22H391.88V805.41H380.21ZM376.32 805.11H395.77V809.3H376.32ZM376.32 809H395.77V813.19H376.32ZM380.21 812.89H391.88V817.08H380.21ZM384.1 816.78H387.99V820.67H384.1Z"/>
<path fill="#000000" d="M589 713.93H592.89V718.12H589ZM585.11 717.82H596.78V722.01H585.11ZM581.22 721.71H600.67V725.9H581.22ZM581.22 725.6H600.67V729.79H581.22ZM585.11 729.49H596.78V733.68H585.11ZM589 733.38H592.89V737.27H589Z"/>
<path fill="#000000" d="M724.8 704.73H728.69V708.92H724.8ZM720.91 708.62H732.58V712.81H720.91ZM717.02 712.51H736.47V716.7H717.02ZM717.02 716.4H736.47V720.59H717.02ZM720.91 720.29H732.58V724.48H720.91ZM724.8 724.18H728.69V728.07H724.8Z"/>
<path fill="#000000" d="M929.9 698.84H933.79V703.03H929.9ZM926.01 702.73H937.68V706.92H926.01ZM922.12 706.62H941.57V710.81H922.12ZM922.12 710.51H941.57V714.7H922.12ZM922.12 714.4H941.57V718.59H922.12ZM922.12 718.29H941.57V722.48H922.12ZM926.01 722.18H937.68V726.37H926.01ZM929.9 726.07H933.79V729.96H929.9Z"/>
<path fill="#000000" d="M1340 695.14H1343.89V699.33H1340ZM1336.11 699.03H1347.78V703.22H1336.11ZM1332.22 702.92H1351.67V707.11H1332.22ZM1332.22 706.81H1351.67V711H1332.22ZM1332.22 710.7H1351.67V714.89H1332.22ZM1332.22 714.59H1351.67V718.78H1332.22ZM1336.11 718.48H1347.78V722.67H1336.11ZM1340 722.37H1343.89V726.26H1340Z"/>
</g>
<g>
<path fill="#93dcff" d="M248.89 749.41H252.78V753.6H248.89ZM245 753.3H260.56V757.49H245ZM248.89 757.19H268.34V761.38H248.89ZM260.56 761.08H280.01V765.27H260.56ZM268.34 764.97H287.79V769.16H268.34ZM276.12 768.86H295.57V773.05H276.12ZM283.9 772.75H303.35V776.94H283.9ZM291.68 776.64H311.13V780.83H291.68ZM303.35 780.53H322.8V784.72H303.35ZM311.13 784.42H330.58V788.61H311.13ZM318.91 788.31H338.36V792.5H318.91ZM326.69 792.2H346.14V796.39H326.69ZM338.36 796.09H357.81V800.28H338.36ZM346.14 799.98H365.59V804.17H346.14ZM353.92 803.87H373.37V808.06H353.92ZM361.7 807.76H381.15V811.95H361.7ZM369.48 811.65H385.04V815.84H369.48ZM381.15 815.54H385.04V819.43H381.15Z"/>
<path fill="#95b3ff" d="M248.89 753.3h3.89v3.89h-3.89ZM256.67 753.3h3.89v3.89h-3.89ZM252.78 757.19h3.89v3.89h-3.89ZM260.56 757.19h3.89v3.89h-3.89ZM264.45 761.08h3.89v3.89h-3.89ZM272.23 761.08h3.89v3.89h-3.89ZM268.34 764.97h3.89v3.89h-3.89ZM276.12 764.97h3.89v3.89h-3.89ZM283.9 764.97h3.89v3.89h-3.89ZM280.01 768.86h3.89v3.89h-3.89ZM287.79 768.86h3.89v3.89h-3.89ZM283.9 772.75h3.89v3.89h-3.89ZM291.68 772.75h3.89v3.89h-3.89ZM299.46 772.75h3.89v3.89h-3.89ZM295.57 776.64h3.89v3.89h-3.89ZM303.35 776.64h3.89v3.89h-3.89ZM307.24 780.53h3.89v3.89h-3.89ZM315.02 780.53h3.89v3.89h-3.89ZM311.13 784.42h3.89v3.89h-3.89ZM318.91 784.42h3.89v3.89h-3.89ZM326.69 784.42h3.89v3.89h-3.89ZM322.8 788.31h3.89v3.89h-3.89ZM330.58 788.31h3.89v3.89h-3.89ZM326.69 792.2h3.89v3.89h-3.89ZM334.47 792.2h3.89v3.89h-3.89ZM342.25 792.2h3.89v3.89h-3.89ZM338.36 796.09h3.89v3.89h-3.89ZM346.14 796.09h3.89v3.89h-3.89ZM353.92 796.09h3.89v3.89h-3.89ZM350.03 799.98h3.89v3.89h-3.89ZM357.81 799.98h3.89v3.89h-3.89ZM353.92 803.87h3.89v3.89h-3.89ZM361.7 803.87h3.89v3.89h-3.89ZM369.48 803.87h3.89v3.89h-3.89ZM365.59 807.76h3.89v3.89h-3.89ZM373.37 807.76h3.89v3.89h-3.89ZM369.48 811.65h3.89v3.89h-3.89ZM377.26 811.65h3.89v3.89h-3.89ZM381.15 815.54h3.89v3.89h-3.89Z"/>
<path fill="#93dcff" d="M582.49 722.64H590.27V726.83H582.49ZM570.82 726.53H590.27V730.72H570.82ZM563.04 730.42H582.49V734.61H563.04ZM555.26 734.31H574.71V738.5H555.26ZM547.48 738.2H566.93V742.39H547.48ZM535.81 742.09H559.15V746.28H535.81ZM528.03 745.98H547.48V750.17H528.03ZM520.25 749.87H539.7V754.06H520.25ZM512.47 753.76H531.92V757.95H512.47ZM500.8 757.65H524.14V761.84H500.8ZM493.02 761.54H512.47V765.73H493.02ZM485.24 765.43H504.69V769.62H485.24ZM477.46 769.32H496.91V773.51H477.46ZM469.68 773.21H489.13V777.4H469.68ZM458.01 777.1H477.46V781.29H458.01ZM450.23 780.99H469.68V785.18H450.23ZM442.45 784.88H461.9V789.07H442.45ZM434.67 788.77H454.12V792.96H434.67ZM423 792.66H442.45V796.85H423ZM415.22 796.55H434.67V800.74H415.22ZM407.44 800.44H426.89V804.63H407.44ZM399.66 804.33H419.11V808.52H399.66ZM387.99 808.22H407.44V812.41H387.99ZM384.1 812.11H399.66V816.3H384.1ZM387.99 816H391.88V819.89H387.99Z"/>
<path fill="#95b3ff" d="M582.49 722.64h3.89v3.89h-3.89ZM570.82 726.53h3.89v3.89h-3.89ZM578.6 726.53h3.89v3.89h-3.89ZM586.38 726.53h3.89v3.89h-3.89ZM566.93 730.42h3.89v3.89h-3.89ZM574.71 730.42h3.89v3.89h-3.89ZM555.26 734.31h3.89v3.89h-3.89ZM563.04 734.31h3.89v3.89h-3.89ZM570.82 734.31h3.89v3.89h-3.89ZM551.37 738.2h3.89v3.89h-3.89ZM559.15 738.2h3.89v3.89h-3.89ZM539.7 742.09h3.89v3.89h-3.89ZM547.48 742.09h3.89v3.89h-3.89ZM555.26 742.09h3.89v3.89h-3.89ZM528.03 745.98h3.89v3.89h-3.89ZM535.81 745.98h3.89v3.89h-3.89ZM543.59 745.98h3.89v3.89h-3.89ZM524.14 749.87h3.89v3.89h-3.89ZM531.92 749.87h3.89v3.89h-3.89ZM512.47 753.76h3.89v3.89h-3.89ZM520.25 753.76h3.89v3.89h-3.89ZM528.03 753.76h3.89v3.89h-3.89ZM500.8 757.65h3.89v3.89h-3.89ZM508.58 757.65h3.89v3.89h-3.89ZM516.36 757.65h3.89v3.89h-3.89ZM496.91 761.54h3.89v3.89h-3.89ZM504.69 761.54h3.89v3.89h-3.89ZM485.24 765.43h3.89v3.89h-3.89ZM493.02 765.43h3.89v3.89h-3.89ZM500.8 765.43h3.89v3.89h-3.89ZM481.35 769.32h3.89v3.89h-3.89ZM489.13 769.32h3.89v3.89h-3.89ZM469.68 773.21h3.89v3.89h-3.89ZM477.46 773.21h3.89v3.89h-3.89ZM485.24 773.21h3.89v3.89h-3.89ZM458.01 777.1h3.89v3.89h-3.89ZM465.79 777.1h3.89v3.89h-3.89ZM473.57 777.1h3.89v3.89h-3.89ZM454.12 780.99h3.89v3.89h-3.89ZM461.9 780.99h3.89v3.89h-3.89ZM442.45 784.88h3.89v3.89h-3.89ZM450.23 784.88h3.89v3.89h-3.89ZM458.01 784.88h3.89v3.89h-3.89ZM438.56 788.77h3.89v3.89h-3.89ZM446.34 788.77h3.89v3.89h-3.89ZM426.89 792.66h3.89v3.89h-3.89ZM434.67 792.66h3.89v3.89h-3.89ZM415.22 796.55h3.89v3.89h-3.89ZM423 796.55h3.89v3.89h-3.89ZM430.78 796.55h3.89v3.89h-3.89ZM411.33 800.44h3.89v3.89h-3.89ZM419.11 800.44h3.89v3.89h-3.89ZM399.66 804.33h3.89v3.89h-3.89ZM407.44 804.33h3.89v3.89h-3.89ZM415.22 804.33h3.89v3.89h-3.89ZM387.99 808.22h3.89v3.89h-3.89ZM395.77 808.22h3.89v3.89h-3.89ZM403.55 808.22h3.89v3.89h-3.89ZM384.1 812.11h3.89v3.89h-3.89ZM391.88 812.11h3.89v3.89h-3.89ZM387.99 816h3.89v3.89h-3.89Z"/>
<path fill="#93dcff" d="M697.92 709.04H725.15V713.23H697.92ZM655.13 712.93H725.15V717.12H655.13ZM612.34 716.82H701.81V721.01H612.34ZM589 720.71H659.02V724.9H589ZM592.89 724.6H612.34V728.49H592.89Z"/>
<path fill="#95b3ff" d="M701.81 709.04h3.89v3.89h-3.89ZM709.59 709.04h3.89v3.89h-3.89ZM717.37 709.04h3.89v3.89h-3.89ZM659.02 712.93h3.89v3.89h-3.89ZM666.8 712.93h3.89v3.89h-3.89ZM674.58 712.93h3.89v3.89h-3.89ZM682.36 712.93h3.89v3.89h-3.89ZM690.14 712.93h3.89v3.89h-3.89ZM697.92 712.93h3.89v3.89h-3.89ZM705.7 712.93h3.89v3.89h-3.89ZM713.48 712.93h3.89v3.89h-3.89ZM721.26 712.93h3.89v3.89h-3.89ZM616.23 716.82h3.89v3.89h-3.89ZM624.01 716.82h3.89v3.89h-3.89ZM631.79 716.82h3.89v3.89h-3.89ZM639.57 716.82h3.89v3.89h-3.89ZM647.35 716.82h3.89v3.89h-3.89ZM655.13 716.82h3.89v3.89h-3.89ZM662.91 716.82h3.89v3.89h-3.89ZM670.69 716.82h3.89v3.89h-3.89ZM678.47 716.82h3.89v3.89h-3.89ZM686.25 716.82h3.89v3.89h-3.89ZM694.03 716.82h3.89v3.89h-3.89ZM589 720.71h3.89v3.89h-3.89ZM596.78 720.71h3.89v3.89h-3.89ZM604.56 720.71h3.89v3.89h-3.89ZM612.34 720.71h3.89v3.89h-3.89ZM620.12 720.71h3.89v3.89h-3.89ZM627.9 720.71h3.89v3.89h-3.89ZM635.68 720.71h3.89v3.89h-3.89ZM643.46 720.71h3.89v3.89h-3.89ZM651.24 720.71h3.89v3.89h-3.89ZM592.89 724.6h3.89v3.89h-3.89ZM600.67 724.6h3.89v3.89h-3.89ZM608.45 724.6h3.89v3.89h-3.89Z"/>
<path fill="#93dcff" d="M728.69 708.51H744.25V712.7H728.69ZM724.8 712.4H775.37V716.59H724.8ZM740.36 716.29H806.49V720.48H740.36ZM771.48 720.18H837.61V724.37H771.48ZM802.6 724.07H868.73V728.26H802.6ZM833.72 727.96H899.85V732.15H833.72ZM864.84 731.85H927.08V736.04H864.84ZM895.96 735.74H930.97V739.93H895.96ZM927.08 739.63H930.97V743.52H927.08Z"/>
<path fill="#95b3ff" d="M732.58 708.51h3.89v3.89h-3.89ZM740.36 708.51h3.89v3.89h-3.89ZM728.69 712.4h3.89v3.89h-3.89ZM736.47 712.4h3.89v3.89h-3.89ZM744.25 712.4h3.89v3.89h-3.89ZM752.03 712.4h3.89v3.89h-3.89ZM759.81 712.4h3.89v3.89h-3.89ZM767.59 712.4h3.89v3.89h-3.89ZM740.36 716.29h3.89v3.89h-3.89ZM748.14 716.29h3.89v3.89h-3.89ZM755.92 716.29h3.89v3.89h-3.89ZM763.7 716.29h3.89v3.89h-3.89ZM771.48 716.29h3.89v3.89h-3.89ZM779.26 716.29h3.89v3.89h-3.89ZM787.04 716.29h3.89v3.89h-3.89ZM794.82 716.29h3.89v3.89h-3.89ZM802.6 716.29h3.89v3.89h-3.89ZM775.37 720.18h3.89v3.89h-3.89ZM783.15 720.18h3.89v3.89h-3.89ZM790.93 720.18h3.89v3.89h-3.89ZM798.71 720.18h3.89v3.89h-3.89ZM806.49 720.18h3.89v3.89h-3.89ZM814.27 720.18h3.89v3.89h-3.89ZM822.05 720.18h3.89v3.89h-3.89ZM829.83 720.18h3.89v3.89h-3.89ZM802.6 724.07h3.89v3.89h-3.89ZM810.38 724.07h3.89v3.89h-3.89ZM818.16 724.07h3.89v3.89h-3.89ZM825.94 724.07h3.89v3.89h-3.89ZM833.72 724.07h3.89v3.89h-3.89ZM841.5 724.07h3.89v3.89h-3.89ZM849.28 724.07h3.89v3.89h-3.89ZM857.06 724.07h3.89v3.89h-3.89ZM864.84 724.07h3.89v3.89h-3.89ZM837.61 727.96h3.89v3.89h-3.89ZM845.39 727.96h3.89v3.89h-3.89ZM853.17 727.96h3.89v3.89h-3.89ZM860.95 727.96h3.89v3.89h-3.89ZM868.73 727.96h3.89v3.89h-3.89ZM876.51 727.96h3.89v3.89h-3.89ZM884.29 727.96h3.89v3.89h-3.89ZM892.07 727.96h3.89v3.89h-3.89ZM864.84 731.85h3.89v3.89h-3.89ZM872.62 731.85h3.89v3.89h-3.89ZM880.4 731.85h3.89v3.89h-3.89ZM888.18 731.85h3.89v3.89h-3.89ZM895.96 731.85h3.89v3.89h-3.89ZM903.74 731.85h3.89v3.89h-3.89ZM911.52 731.85h3.89v3.89h-3.89ZM919.3 731.85h3.89v3.89h-3.89ZM899.85 735.74h3.89v3.89h-3.89ZM907.63 735.74h3.89v3.89h-3.89ZM915.41 735.74h3.89v3.89h-3.89ZM923.19 735.74h3.89v3.89h-3.89ZM927.08 739.63h3.89v3.89h-3.89Z"/>
<path fill="#93dcff" d="M1330.57 714.86H1342.24V719.05H1330.57ZM1241.1 718.75H1342.24V722.94H1241.1ZM1151.63 722.64H1338.35V726.83H1151.63ZM1062.16 726.53H1248.88V730.72H1062.16ZM972.69 730.42H1159.41V734.61H972.69ZM929.9 734.31H1069.94V738.5H929.9ZM933.79 738.2H980.47V742.09H933.79Z"/>
<path fill="#95b3ff" d="M1330.57 714.86h3.89v3.89h-3.89ZM1338.35 714.86h3.89v3.89h-3.89ZM1241.1 718.75h3.89v3.89h-3.89ZM1248.88 718.75h3.89v3.89h-3.89ZM1256.66 718.75h3.89v3.89h-3.89ZM1264.44 718.75h3.89v3.89h-3.89ZM1272.22 718.75h3.89v3.89h-3.89ZM1280 718.75h3.89v3.89h-3.89ZM1287.78 718.75h3.89v3.89h-3.89ZM1295.56 718.75h3.89v3.89h-3.89ZM1303.34 718.75h3.89v3.89h-3.89ZM1311.12 718.75h3.89v3.89h-3.89ZM1318.9 718.75h3.89v3.89h-3.89ZM1326.68 718.75h3.89v3.89h-3.89ZM1334.46 718.75h3.89v3.89h-3.89ZM1151.63 722.64h3.89v3.89h-3.89ZM1159.41 722.64h3.89v3.89h-3.89ZM1167.19 722.64h3.89v3.89h-3.89ZM1174.97 722.64h3.89v3.89h-3.89ZM1182.75 722.64h3.89v3.89h-3.89ZM1190.53 722.64h3.89v3.89h-3.89ZM1198.31 722.64h3.89v3.89h-3.89ZM1206.09 722.64h3.89v3.89h-3.89ZM1213.87 722.64h3.89v3.89h-3.89ZM1221.65 722.64h3.89v3.89h-3.89ZM1229.43 722.64h3.89v3.89h-3.89ZM1237.21 722.64h3.89v3.89h-3.89ZM1244.99 722.64h3.89v3.89h-3.89ZM1252.77 722.64h3.89v3.89h-3.89ZM1260.55 722.64h3.89v3.89h-3.89ZM1268.33 722.64h3.89v3.89h-3.89ZM1276.11 722.64h3.89v3.89h-3.89ZM1283.89 722.64h3.89v3.89h-3.89ZM1291.67 722.64h3.89v3.89h-3.89ZM1299.45 722.64h3.89v3.89h-3.89ZM1307.23 722.64h3.89v3.89h-3.89ZM1315.01 722.64h3.89v3.89h-3.89ZM1322.79 722.64h3.89v3.89h-3.89ZM1330.57 722.64h3.89v3.89h-3.89ZM1062.16 726.53h3.89v3.89h-3.89ZM1069.94 726.53h3.89v3.89h-3.89ZM1077.72 726.53h3.89v3.89h-3.89ZM1085.5 726.53h3.89v3.89h-3.89ZM1093.28 726.53h3.89v3.89h-3.89ZM1101.06 726.53h3.89v3.89h-3.89ZM1108.84 726.53h3.89v3.89h-3.89ZM1116.62 726.53h3.89v3.89h-3.89ZM1124.4 726.53h3.89v3.89h-3.89ZM1132.18 726.53h3.89v3.89h-3.89ZM1139.96 726.53h3.89v3.89h-3.89ZM1147.74 726.53h3.89v3.89h-3.89ZM1155.52 726.53h3.89v3.89h-3.89ZM1163.3 726.53h3.89v3.89h-3.89ZM1171.08 726.53h3.89v3.89h-3.89ZM1178.86 726.53h3.89v3.89h-3.89ZM1186.64 726.53h3.89v3.89h-3.89ZM1194.42 726.53h3.89v3.89h-3.89ZM1202.2 726.53h3.89v3.89h-3.89ZM1209.98 726.53h3.89v3.89h-3.89ZM1217.76 726.53h3.89v3.89h-3.89ZM1225.54 726.53h3.89v3.89h-3.89ZM1233.32 726.53h3.89v3.89h-3.89ZM1241.1 726.53h3.89v3.89h-3.89ZM972.69 730.42h3.89v3.89h-3.89ZM980.47 730.42h3.89v3.89h-3.89ZM988.25 730.42h3.89v3.89h-3.89ZM996.03 730.42h3.89v3.89h-3.89ZM1003.81 730.42h3.89v3.89h-3.89ZM1011.59 730.42h3.89v3.89h-3.89ZM1019.37 730.42h3.89v3.89h-3.89ZM1027.15 730.42h3.89v3.89h-3.89ZM1034.93 730.42h3.89v3.89h-3.89ZM1042.71 730.42h3.89v3.89h-3.89ZM1050.49 730.42h3.89v3.89h-3.89ZM1058.27 730.42h3.89v3.89h-3.89ZM1066.05 730.42h3.89v3.89h-3.89ZM1073.83 730.42h3.89v3.89h-3.89ZM1081.61 730.42h3.89v3.89h-3.89ZM1089.39 730.42h3.89v3.89h-3.89ZM1097.17 730.42h3.89v3.89h-3.89ZM1104.95 730.42h3.89v3.89h-3.89ZM1112.73 730.42h3.89v3.89h-3.89ZM1120.51 730.42h3.89v3.89h-3.89ZM1128.29 730.42h3.89v3.89h-3.89ZM1136.07 730.42h3.89v3.89h-3.89ZM1143.85 730.42h3.89v3.89h-3.89ZM1151.63 730.42h3.89v3.89h-3.89ZM929.9 734.31h3.89v3.89h-3.89ZM937.68 734.31h3.89v3.89h-3.89ZM945.46 734.31h3.89v3.89h-3.89ZM953.24 734.31h3.89v3.89h-3.89ZM961.02 734.31h3.89v3.89h-3.89ZM968.8 734.31h3.89v3.89h-3.89ZM976.58 734.31h3.89v3.89h-3.89ZM984.36 734.31h3.89v3.89h-3.89ZM992.14 734.31h3.89v3.89h-3.89ZM999.92 734.31h3.89v3.89h-3.89ZM1007.7 734.31h3.89v3.89h-3.89ZM1015.48 734.31h3.89v3.89h-3.89ZM1023.26 734.31h3.89v3.89h-3.89ZM1031.04 734.31h3.89v3.89h-3.89ZM1038.82 734.31h3.89v3.89h-3.89ZM1046.6 734.31h3.89v3.89h-3.89ZM1054.38 734.31h3.89v3.89h-3.89ZM1062.16 734.31h3.89v3.89h-3.89ZM933.79 738.2h3.89v3.89h-3.89ZM941.57 738.2h3.89v3.89h-3.89ZM949.35 738.2h3.89v3.89h-3.89ZM957.13 738.2h3.89v3.89h-3.89ZM964.91 738.2h3.89v3.89h-3.89ZM972.69 738.2h3.89v3.89h-3.89Z"/>
<path fill="#93dcff" d="M233.33 687.35H260.56V691.53H233.33ZM245 691.23H248.89V695.41H245ZM245 695.11H248.89V699.29H245ZM245 698.99H248.89V703.17H245ZM245 702.87H248.89V707.05H245ZM245 706.75H248.89V710.93H245ZM245 710.63H248.89V714.81H245ZM245 714.51H248.89V718.69H245ZM245 718.39H248.89V722.57H245ZM245 722.27H248.89V726.45H245ZM245 726.15H248.89V730.33H245ZM245 730.03H248.89V734.2H245ZM245 733.9H248.89V738.08H245ZM245 737.78H248.89V741.96H245ZM245 741.66H248.89V745.84H245ZM245 745.54H248.89V749.72H245ZM245 749.42H248.89V753.6H245ZM245 753.3H248.89V757.48H245ZM245 757.18H248.89V761.36H245ZM245 761.06H248.89V765.24H245ZM245 764.94H248.89V769.12H245ZM245 768.82H248.89V773H245ZM245 772.7H248.89V776.87H245ZM245 776.57H248.89V780.75H245ZM245 780.45H248.89V784.63H245ZM245 784.33H248.89V788.51H245ZM245 788.21H248.89V792.39H245ZM245 792.09H248.89V796.27H245ZM245 795.97H248.89V800.15H245ZM245 799.85H248.89V804.03H245ZM245 803.73H248.89V807.91H245ZM245 807.61H248.89V811.79H245ZM245 811.49H248.89V815.67H245ZM233.33 815.37H260.56V819.25H233.33Z"/>
<path fill="#95b3ff" d="M237.22 687.35h3.89v3.88h-3.89ZM245 687.35h3.89v3.88h-3.89ZM252.78 687.35h3.89v3.88h-3.89ZM245 695.11h3.89v3.88h-3.89ZM245 702.87h3.89v3.88h-3.89ZM245 710.63h3.89v3.88h-3.89ZM245 718.39h3.89v3.88h-3.89ZM245 726.15h3.89v3.88h-3.89ZM245 733.9h3.89v3.88h-3.89ZM245 741.66h3.89v3.88h-3.89ZM245 749.42h3.89v3.88h-3.89ZM245 757.18h3.89v3.88h-3.89ZM245 764.94h3.89v3.88h-3.89ZM245 772.7h3.89v3.88h-3.89ZM245 780.45h3.89v3.88h-3.89ZM245 788.21h3.89v3.88h-3.89ZM245 795.97h3.89v3.88h-3.89ZM245 803.73h3.89v3.88h-3.89ZM245 811.49h3.89v3.88h-3.89ZM233.33 815.37h3.89v3.88h-3.89ZM241.11 815.37h3.89v3.88h-3.89ZM248.89 815.37h3.89v3.88h-3.89ZM256.67 815.37h3.89v3.88h-3.89Z"/>
<path fill="#93dcff" d="M372.43 764.05H395.77V768.25H372.43ZM384.1 767.95H387.99V772.14H384.1ZM384.1 771.84H387.99V776.03H384.1ZM384.1 775.73H387.99V779.93H384.1ZM384.1 779.63H387.99V783.82H384.1ZM384.1 783.52H387.99V787.71H384.1ZM384.1 787.41H387.99V791.6H384.1ZM384.1 791.3H387.99V795.5H384.1ZM384.1 795.2H387.99V799.39H384.1ZM384.1 799.09H387.99V803.28H384.1ZM384.1 802.98H387.99V807.18H384.1ZM384.1 806.88H387.99V811.07H384.1ZM384.1 810.77H387.99V814.96H384.1ZM384.1 814.66H387.99V818.85H384.1ZM384.1 818.55H387.99V822.75H384.1ZM384.1 822.45H387.99V826.64H384.1ZM384.1 826.34H387.99V830.53H384.1ZM384.1 830.23H387.99V834.42H384.1ZM384.1 834.12H387.99V838.32H384.1ZM384.1 838.02H387.99V842.21H384.1ZM384.1 841.91H387.99V846.1H384.1ZM384.1 845.8H387.99V850H384.1ZM384.1 849.7H387.99V853.89H384.1ZM384.1 853.59H387.99V857.78H384.1ZM384.1 857.48H387.99V861.67H384.1ZM384.1 861.37H387.99V865.57H384.1ZM384.1 865.27H387.99V869.46H384.1ZM384.1 869.16H387.99V873.35H384.1ZM372.43 873.05H395.77V876.95H372.43Z"/>
<path fill="#95b3ff" d="M376.32 764.05h3.89v3.89h-3.89ZM384.1 764.05h3.89v3.89h-3.89ZM391.88 764.05h3.89v3.89h-3.89ZM384.1 771.84h3.89v3.89h-3.89ZM384.1 779.63h3.89v3.89h-3.89ZM384.1 787.41h3.89v3.89h-3.89ZM384.1 795.2h3.89v3.89h-3.89ZM384.1 802.98h3.89v3.89h-3.89ZM384.1 810.77h3.89v3.89h-3.89ZM384.1 818.55h3.89v3.89h-3.89ZM384.1 826.34h3.89v3.89h-3.89ZM384.1 834.12h3.89v3.89h-3.89ZM384.1 841.91h3.89v3.89h-3.89ZM384.1 849.7h3.89v3.89h-3.89ZM384.1 857.48h3.89v3.89h-3.89ZM384.1 865.27h3.89v3.89h-3.89ZM376.32 873.05h3.89v3.89h-3.89ZM384.1 873.05h3.89v3.89h-3.89ZM391.88 873.05h3.89v3.89h-3.89Z"/>
<path fill="#93dcff" d="M577.33 660.05H604.56V664.3H577.33ZM589 664H592.89V668.25H589ZM589 667.95H592.89V672.19H589ZM589 671.89H592.89V676.14H589ZM589 675.84H592.89V680.08H589ZM589 679.78H592.89V684.03H589ZM589 683.73H592.89V687.97H589ZM589 687.67H592.89V691.92H589ZM589 691.62H592.89V695.86H589ZM589 695.56H592.89V699.81H589ZM589 699.51H592.89V703.75H589ZM589 703.45H592.89V707.7H589ZM589 707.4H592.89V711.64H589ZM589 711.34H592.89V715.59H589ZM589 715.29H592.89V719.53H589ZM589 719.23H592.89V723.48H589ZM589 723.18H592.89V727.42H589ZM589 727.12H592.89V731.37H589ZM589 731.07H592.89V735.31H589ZM589 735.01H592.89V739.26H589ZM589 738.96H592.89V743.2H589ZM589 742.9H592.89V747.15H589ZM589 746.85H592.89V751.09H589ZM589 750.79H592.89V755.04H589ZM589 754.74H592.89V758.98H589ZM589 758.68H592.89V762.93H589ZM589 762.63H592.89V766.87H589ZM589 766.57H592.89V770.82H589ZM589 770.52H592.89V774.76H589ZM589 774.46H592.89V778.71H589ZM589 778.41H592.89V782.65H589ZM589 782.35H592.89V786.6H589ZM577.33 786.3H604.56V790.25H577.33Z"/>
<path fill="#95b3ff" d="M581.22 660.05h3.89v3.95h-3.89ZM589 660.05h3.89v3.95h-3.89ZM596.78 660.05h3.89v3.95h-3.89ZM589 667.95h3.89v3.95h-3.89ZM589 675.84h3.89v3.95h-3.89ZM589 683.73h3.89v3.95h-3.89ZM589 691.62h3.89v3.95h-3.89ZM589 699.51h3.89v3.95h-3.89ZM589 707.4h3.89v3.95h-3.89ZM589 715.29h3.89v3.95h-3.89ZM589 723.18h3.89v3.95h-3.89ZM589 731.07h3.89v3.95h-3.89ZM589 738.96h3.89v3.95h-3.89ZM589 746.85h3.89v3.95h-3.89ZM589 754.74h3.89v3.95h-3.89ZM589 762.63h3.89v3.95h-3.89ZM589 770.52h3.89v3.95h-3.89ZM589 778.41h3.89v3.95h-3.89ZM581.22 786.3h3.89v3.95h-3.89ZM589 786.3h3.89v3.95h-3.89ZM596.78 786.3h3.89v3.95h-3.89Z"/>
<path fill="#93dcff" d="M713.13 640.95H740.36V645.12H713.13ZM724.8 644.82H728.69V648.98H724.8ZM724.8 648.68H728.69V652.85H724.8ZM724.8 652.55H728.69V656.71H724.8ZM724.8 656.41H728.69V660.58H724.8ZM724.8 660.28H728.69V664.44H724.8ZM724.8 664.14H728.69V668.31H724.8ZM724.8 668.01H728.69V672.17H724.8ZM724.8 671.87H728.69V676.04H724.8ZM724.8 675.74H728.69V679.9H724.8ZM724.8 679.6H728.69V683.77H724.8ZM724.8 683.47H728.69V687.63H724.8ZM724.8 687.33H728.69V691.49H724.8ZM724.8 691.19H728.69V695.36H724.8ZM724.8 695.06H728.69V699.22H724.8ZM724.8 698.92H728.69V703.09H724.8ZM724.8 702.79H728.69V706.95H724.8ZM724.8 706.65H728.69V710.82H724.8ZM724.8 710.52H728.69V714.68H724.8ZM724.8 714.38H728.69V718.55H724.8ZM724.8 718.25H728.69V722.41H724.8ZM724.8 722.11H728.69V726.28H724.8ZM724.8 725.98H728.69V730.14H724.8ZM724.8 729.84H728.69V734.01H724.8ZM724.8 733.71H728.69V737.87H724.8ZM724.8 737.57H728.69V741.73H724.8ZM724.8 741.43H728.69V745.6H724.8ZM724.8 745.3H728.69V749.46H724.8ZM724.8 749.16H728.69V753.33H724.8ZM724.8 753.03H728.69V757.19H724.8ZM724.8 756.89H728.69V761.06H724.8ZM724.8 760.76H728.69V764.92H724.8ZM724.8 764.62H728.69V768.79H724.8ZM724.8 768.49H728.69V772.65H724.8ZM724.8 772.35H728.69V776.52H724.8ZM724.8 776.22H728.69V780.38H724.8ZM713.13 780.08H740.36V783.95H713.13Z"/>
<path fill="#95b3ff" d="M717.02 640.95h3.89v3.86h-3.89ZM724.8 640.95h3.89v3.86h-3.89ZM732.58 640.95h3.89v3.86h-3.89ZM724.8 648.68h3.89v3.86h-3.89ZM724.8 656.41h3.89v3.86h-3.89ZM724.8 664.14h3.89v3.86h-3.89ZM724.8 671.87h3.89v3.86h-3.89ZM724.8 679.6h3.89v3.86h-3.89ZM724.8 687.33h3.89v3.86h-3.89ZM724.8 695.06h3.89v3.86h-3.89ZM724.8 702.79h3.89v3.86h-3.89ZM724.8 710.52h3.89v3.86h-3.89ZM724.8 718.25h3.89v3.86h-3.89ZM724.8 725.98h3.89v3.86h-3.89ZM724.8 733.71h3.89v3.86h-3.89ZM724.8 741.43h3.89v3.86h-3.89ZM724.8 749.16h3.89v3.86h-3.89ZM724.8 756.89h3.89v3.86h-3.89ZM724.8 764.62h3.89v3.86h-3.89ZM724.8 772.35h3.89v3.86h-3.89ZM717.02 780.08h3.89v3.86h-3.89ZM724.8 780.08h3.89v3.86h-3.89ZM732.58 780.08h3.89v3.86h-3.89Z"/>
<path fill="#93dcff" d="M918.23 669.55H945.46V673.78H918.23ZM929.9 673.48H933.79V677.7H929.9ZM929.9 677.4H933.79V681.62H929.9ZM929.9 681.32H933.79V685.55H929.9ZM929.9 685.25H933.79V689.47H929.9ZM929.9 689.17H933.79V693.39H929.9ZM929.9 693.09H933.79V697.31H929.9ZM929.9 697.01H933.79V701.24H929.9ZM929.9 700.94H933.79V705.16H929.9ZM929.9 704.86H933.79V709.08H929.9ZM929.9 708.78H933.79V713H929.9ZM929.9 712.7H933.79V716.93H929.9ZM929.9 716.63H933.79V720.85H929.9ZM929.9 720.55H933.79V724.77H929.9ZM929.9 724.47H933.79V728.69H929.9ZM929.9 728.39H933.79V732.62H929.9ZM929.9 732.32H933.79V736.54H929.9ZM929.9 736.24H933.79V740.46H929.9ZM929.9 740.16H933.79V744.38H929.9ZM929.9 744.08H933.79V748.31H929.9ZM929.9 748.01H933.79V752.23H929.9ZM929.9 751.93H933.79V756.15H929.9ZM929.9 755.85H933.79V760.07H929.9ZM929.9 759.77H933.79V764H929.9ZM929.9 763.7H933.79V767.92H929.9ZM929.9 767.62H933.79V771.84H929.9ZM929.9 771.54H933.79V775.76H929.9ZM929.9 775.46H933.79V779.69H929.9ZM929.9 779.39H933.79V783.61H929.9ZM929.9 783.31H933.79V787.53H929.9ZM929.9 787.23H933.79V791.45H929.9ZM929.9 791.15H933.79V795.38H929.9ZM929.9 795.08H933.79V799.3H929.9ZM929.9 799H933.79V803.22H929.9ZM918.23 802.92H945.46V806.85H918.23Z"/>
<path fill="#95b3ff" d="M922.12 669.55h3.89v3.92h-3.89ZM929.9 669.55h3.89v3.92h-3.89ZM937.68 669.55h3.89v3.92h-3.89ZM929.9 677.4h3.89v3.92h-3.89ZM929.9 685.25h3.89v3.92h-3.89ZM929.9 693.09h3.89v3.92h-3.89ZM929.9 700.94h3.89v3.92h-3.89ZM929.9 708.78h3.89v3.92h-3.89ZM929.9 716.63h3.89v3.92h-3.89ZM929.9 724.47h3.89v3.92h-3.89ZM929.9 732.32h3.89v3.92h-3.89ZM929.9 740.16h3.89v3.92h-3.89ZM929.9 748.01h3.89v3.92h-3.89ZM929.9 755.85h3.89v3.92h-3.89ZM929.9 763.7h3.89v3.92h-3.89ZM929.9 771.54h3.89v3.92h-3.89ZM929.9 779.39h3.89v3.92h-3.89ZM929.9 787.23h3.89v3.92h-3.89ZM929.9 795.08h3.89v3.92h-3.89ZM922.12 802.92h3.89v3.92h-3.89ZM929.9 802.92h3.89v3.92h-3.89ZM937.68 802.92h3.89v3.92h-3.89Z"/>
<path fill="#93dcff" d="M1332.22 640.75H1351.67V644.94H1332.22ZM1340 644.64H1343.89V648.82H1340ZM1340 648.52H1343.89V652.7H1340ZM1340 652.4H1343.89V656.59H1340ZM1340 656.29H1343.89V660.47H1340ZM1340 660.17H1343.89V664.35H1340ZM1340 664.05H1343.89V668.23H1340ZM1340 667.93H1343.89V672.12H1340ZM1340 671.82H1343.89V676H1340ZM1340 675.7H1343.89V679.88H1340ZM1340 679.58H1343.89V683.76H1340ZM1340 683.46H1343.89V687.65H1340ZM1340 687.35H1343.89V691.53H1340ZM1340 691.23H1343.89V695.41H1340ZM1340 695.11H1343.89V699.3H1340ZM1340 699H1343.89V703.18H1340ZM1340 702.88H1343.89V707.06H1340ZM1340 706.76H1343.89V710.94H1340ZM1340 710.64H1343.89V714.83H1340ZM1340 714.53H1343.89V718.71H1340ZM1340 718.41H1343.89V722.59H1340ZM1340 722.29H1343.89V726.47H1340ZM1340 726.17H1343.89V730.36H1340ZM1340 730.06H1343.89V734.24H1340ZM1340 733.94H1343.89V738.12H1340ZM1340 737.82H1343.89V742H1340ZM1340 741.7H1343.89V745.89H1340ZM1340 745.59H1343.89V749.77H1340ZM1340 749.47H1343.89V753.65H1340ZM1340 753.35H1343.89V757.54H1340ZM1340 757.24H1343.89V761.42H1340ZM1340 761.12H1343.89V765.3H1340ZM1340 765H1343.89V769.18H1340ZM1340 768.88H1343.89V773.07H1340ZM1340 772.77H1343.89V776.95H1340ZM1340 776.65H1343.89V780.83H1340ZM1340 780.53H1343.89V784.71H1340ZM1340 784.41H1343.89V788.6H1340ZM1340 788.3H1343.89V792.48H1340ZM1340 792.18H1343.89V796.36H1340ZM1332.22 796.06H1351.67V799.95H1332.22Z"/>
<path fill="#95b3ff" d="M1336.11 640.75h3.89v3.88h-3.89ZM1343.89 640.75h3.89v3.88h-3.89ZM1340 644.64h3.89v3.88h-3.89ZM1340 652.4h3.89v3.88h-3.89ZM1340 660.17h3.89v3.88h-3.89ZM1340 667.93h3.89v3.88h-3.89ZM1340 675.7h3.89v3.88h-3.89ZM1340 683.46h3.89v3.88h-3.89ZM1340 691.23h3.89v3.88h-3.89ZM1340 699h3.89v3.88h-3.89ZM1340 706.76h3.89v3.88h-3.89ZM1340 714.53h3.89v3.88h-3.89ZM1340 722.29h3.89v3.88h-3.89ZM1340 730.06h3.89v3.88h-3.89ZM1340 737.82h3.89v3.88h-3.89ZM1340 745.59h3.89v3.88h-3.89ZM1340 753.35h3.89v3.88h-3.89ZM1340 761.12h3.89v3.88h-3.89ZM1340 768.88h3.89v3.88h-3.89ZM1340 776.65h3.89v3.88h-3.89ZM1340 784.41h3.89v3.88h-3.89ZM1340 792.18h3.89v3.88h-3.89ZM1336.11 796.06h3.89v3.88h-3.89ZM1343.89 796.06h3.89v3.88h-3.89Z"/>
<path fill="#93dcff" d="M237.22 741.63H264.45V745.82H237.22ZM237.22 745.52H264.45V749.71H237.22ZM237.22 749.41H264.45V753.6H237.22ZM237.22 753.3H264.45V757.49H237.22ZM237.22 757.19H264.45V761.38H237.22ZM237.22 761.08H264.45V765.27H237.22ZM237.22 764.97H264.45V768.86H237.22Z"/>
<path fill="#95b3ff" d="M241.11 741.63h3.89v3.89h-3.89ZM248.89 741.63h3.89v3.89h-3.89ZM256.67 741.63h3.89v3.89h-3.89ZM237.22 745.52h3.89v3.89h-3.89ZM245 745.52h3.89v3.89h-3.89ZM252.78 745.52h3.89v3.89h-3.89ZM260.56 745.52h3.89v3.89h-3.89ZM241.11 749.41h3.89v3.89h-3.89ZM248.89 749.41h3.89v3.89h-3.89ZM256.67 749.41h3.89v3.89h-3.89ZM237.22 753.3h3.89v3.89h-3.89ZM245 753.3h3.89v3.89h-3.89ZM252.78 753.3h3.89v3.89h-3.89ZM260.56 753.3h3.89v3.89h-3.89ZM241.11 757.19h3.89v3.89h-3.89ZM248.89 757.19h3.89v3.89h-3.89ZM256.67 757.19h3.89v3.89h-3.89ZM237.22 761.08h3.89v3.89h-3.89ZM245 761.08h3.89v3.89h-3.89ZM252.78 761.08h3.89v3.89h-3.89ZM260.56 761.08h3.89v3.89h-3.89ZM241.11 764.97h3.89v3.89h-3.89ZM248.89 764.97h3.89v3.89h-3.89ZM256.67 764.97h3.89v3.89h-3.89Z"/>
<path fill="#93dcff" d="M372.43 807.93H399.66V812.12H372.43ZM372.43 811.82H399.66V816.01H372.43ZM372.43 815.71H399.66V819.9H372.43ZM372.43 819.6H399.66V823.79H372.43ZM372.43 823.49H399.66V827.68H372.43ZM372.43 827.38H399.66V831.57H372.43ZM372.43 831.27H399.66V835.16H372.43Z"/>
<path fill="#95b3ff" d="M376.32 807.93h3.89v3.89h-3.89ZM384.1 807.93h3.89v3.89h-3.89ZM391.88 807.93h3.89v3.89h-3.89ZM372.43 811.82h3.89v3.89h-3.89ZM380.21 811.82h3.89v3.89h-3.89ZM387.99 811.82h3.89v3.89h-3.89ZM395.77 811.82h3.89v3.89h-3.89ZM376.32 815.71h3.89v3.89h-3.89ZM384.1 815.71h3.89v3.89h-3.89ZM391.88 815.71h3.89v3.89h-3.89ZM372.43 819.6h3.89v3.89h-3.89ZM380.21 819.6h3.89v3.89h-3.89ZM387.99 819.6h3.89v3.89h-3.89ZM395.77 819.6h3.89v3.89h-3.89ZM376.32 823.49h3.89v3.89h-3.89ZM384.1 823.49h3.89v3.89h-3.89ZM391.88 823.49h3.89v3.89h-3.89ZM372.43 827.38h3.89v3.89h-3.89ZM380.21 827.38h3.89v3.89h-3.89ZM387.99 827.38h3.89v3.89h-3.89ZM395.77 827.38h3.89v3.89h-3.89ZM376.32 831.27h3.89v3.89h-3.89ZM384.1 831.27h3.89v3.89h-3.89ZM391.88 831.27h3.89v3.89h-3.89Z"/>
<path fill="#93dcff" d="M577.33 713.53H604.56V717.72H577.33ZM577.33 717.42H604.56V721.61H577.33ZM577.33 721.31H604.56V725.5H577.33ZM577.33 725.2H604.56V729.39H577.33ZM577.33 729.09H604.56V733.28H577.33ZM577.33 732.98H604.56V737.17H577.33ZM577.33 736.87H604.56V740.76H577.33Z"/>
<path fill="#95b3ff" d="M581.22 713.53h3.89v3.89h-3.89ZM589 713.53h3.89v3.89h-3.89ZM596.78 713.53h3.89v3.89h-3.89ZM577.33 717.42h3.89v3.89h-3.89ZM585.11 717.42h3.89v3.89h-3.89ZM592.89 717.42h3.89v3.89h-3.89ZM600.67 717.42h3.89v3.89h-3.89ZM581.22 721.31h3.89v3.89h-3.89ZM589 721.31h3.89v3.89h-3.89ZM596.78 721.31h3.89v3.89h-3.89ZM577.33 725.2h3.89v3.89h-3.89ZM585.11 725.2h3.89v3.89h-3.89ZM592.89 725.2h3.89v3.89h-3.89ZM600.67 725.2h3.89v3.89h-3.89ZM581.22 729.09h3.89v3.89h-3.89ZM589 729.09h3.89v3.89h-3.89ZM596.78 729.09h3.89v3.89h-3.89ZM577.33 732.98h3.89v3.89h-3.89ZM585.11 732.98h3.89v3.89h-3.89ZM592.89 732.98h3.89v3.89h-3.89ZM600.67 732.98h3.89v3.89h-3.89ZM581.22 736.87h3.89v3.89h-3.89ZM589 736.87h3.89v3.89h-3.89ZM596.78 736.87h3.89v3.89h-3.89Z"/>
<path fill="#93dcff" d="M717.02 703.23H744.25V707.42H717.02ZM717.02 707.12H744.25V711.31H717.02ZM717.02 711.01H744.25V715.2H717.02ZM717.02 714.9H744.25V719.09H717.02ZM717.02 718.79H744.25V722.98H717.02ZM717.02 722.68H744.25V726.87H717.02ZM717.02 726.57H744.25V730.46H717.02Z"/>
<path fill="#95b3ff" d="M720.91 703.23h3.89v3.89h-3.89ZM728.69 703.23h3.89v3.89h-3.89ZM736.47 703.23h3.89v3.89h-3.89ZM717.02 707.12h3.89v3.89h-3.89ZM724.8 707.12h3.89v3.89h-3.89ZM732.58 707.12h3.89v3.89h-3.89ZM740.36 707.12h3.89v3.89h-3.89ZM720.91 711.01h3.89v3.89h-3.89ZM728.69 711.01h3.89v3.89h-3.89ZM736.47 711.01h3.89v3.89h-3.89ZM717.02 714.9h3.89v3.89h-3.89ZM724.8 714.9h3.89v3.89h-3.89ZM732.58 714.9h3.89v3.89h-3.89ZM740.36 714.9h3.89v3.89h-3.89ZM720.91 718.79h3.89v3.89h-3.89ZM728.69 718.79h3.89v3.89h-3.89ZM736.47 718.79h3.89v3.89h-3.89ZM717.02 722.68h3.89v3.89h-3.89ZM724.8 722.68h3.89v3.89h-3.89ZM732.58 722.68h3.89v3.89h-3.89ZM740.36 722.68h3.89v3.89h-3.89ZM720.91 726.57h3.89v3.89h-3.89ZM728.69 726.57h3.89v3.89h-3.89ZM736.47 726.57h3.89v3.89h-3.89Z"/>
<path fill="#93dcff" d="M922.12 726.53H949.35V730.72H922.12ZM922.12 730.42H949.35V734.61H922.12ZM922.12 734.31H949.35V738.5H922.12ZM922.12 738.2H949.35V742.39H922.12ZM922.12 742.09H949.35V746.28H922.12ZM922.12 745.98H949.35V750.17H922.12ZM922.12 749.87H949.35V753.76H922.12Z"/>
<path fill="#95b3ff" d="M926.01 726.53h3.89v3.89h-3.89ZM933.79 726.53h3.89v3.89h-3.89ZM941.57 726.53h3.89v3.89h-3.89ZM922.12 730.42h3.89v3.89h-3.89ZM929.9 730.42h3.89v3.89h-3.89ZM937.68 730.42h3.89v3.89h-3.89ZM945.46 730.42h3.89v3.89h-3.89ZM926.01 734.31h3.89v3.89h-3.89ZM933.79 734.31h3.89v3.89h-3.89ZM941.57 734.31h3.89v3.89h-3.89ZM922.12 738.2h3.89v3.89h-3.89ZM929.9 738.2h3.89v3.89h-3.89ZM937.68 738.2h3.89v3.89h-3.89ZM945.46 738.2h3.89v3.89h-3.89ZM926.01 742.09h3.89v3.89h-3.89ZM933.79 742.09h3.89v3.89h-3.89ZM941.57 742.09h3.89v3.89h-3.89ZM922.12 745.98h3.89v3.89h-3.89ZM929.9 745.98h3.89v3.89h-3.89ZM937.68 745.98h3.89v3.89h-3.89ZM945.46 745.98h3.89v3.89h-3.89ZM926.01 749.87h3.89v3.89h-3.89ZM933.79 749.87h3.89v3.89h-3.89ZM941.57 749.87h3.89v3.89h-3.89Z"/>
<path fill="#93dcff" d="M1332.22 706.33H1359.45V710.52H1332.22ZM1332.22 710.22H1359.45V714.41H1332.22ZM1332.22 714.11H1359.45V718.3H1332.22ZM1332.22 718H1359.45V722.19H1332.22ZM1332.22 721.89H1359.45V726.08H1332.22ZM1332.22 725.78H1359.45V729.97H1332.22ZM1332.22 729.67H1359.45V733.56H1332.22Z"/>
<path fill="#95b3ff" d="M1336.11 706.33h3.89v3.89h-3.89ZM1343.89 706.33h3.89v3.89h-3.89ZM1351.67 706.33h3.89v3.89h-3.89ZM1332.22 710.22h3.89v3.89h-3.89ZM1340 710.22h3.89v3.89h-3.89ZM1347.78 710.22h3.89v3.89h-3.89ZM1355.56 710.22h3.89v3.89h-3.89ZM1336.11 714.11h3.89v3.89h-3.89ZM1343.89 714.11h3.89v3.89h-3.89ZM1351.67 714.11h3.89v3.89h-3.89ZM1332.22 718h3.89v3.89h-3.89ZM1340 718h3.89v3.89h-3.89ZM1347.78 718h3.89v3.89h-3.89ZM1355.56 718h3.89v3.89h-3.89ZM1336.11 721.89h3.89v3.89h-3.89ZM1343.89 721.89h3.89v3.89h-3.89ZM1351.67 721.89h3.89v3.89h-3.89ZM1332.22 725.78h3.89v3.89h-3.89ZM1340 725.78h3.89v3.89h-3.89ZM1347.78 725.78h3.89v3.89h-3.89ZM1355.56 725.78h3.89v3.89h-3.89ZM1336.11 729.67h3.89v3.89h-3.89ZM1343.89 729.67h3.89v3.89h-3.89ZM1351.67 729.67h3.89v3.89h-3.89Z"/>
</g>
<g>
<path fill="#0000fe" d="M248.89 691.51H252.78V695.7H248.89ZM245 695.4H260.56V699.59H245ZM248.89 699.29H264.45V703.48H248.89ZM256.67 703.18H272.23V707.37H256.67ZM264.45 707.07H280.01V711.26H264.45ZM272.23 710.96H287.79V715.15H272.23ZM276.12 714.85H295.57V719.04H276.12ZM283.9 718.74H303.35V722.93H283.9ZM291.68 722.63H307.24V726.82H291.68ZM299.46 726.52H315.02V730.71H299.46ZM307.24 730.41H322.8V734.6H307.24ZM315.02 734.3H330.58V738.49H315.02ZM318.91 738.19H338.36V742.38H318.91ZM326.69 742.08H342.25V746.27H326.69ZM334.47 745.97H350.03V750.16H334.47ZM342.25 749.86H357.81V754.05H342.25ZM350.03 753.75H365.59V757.94H350.03ZM357.81 757.64H373.37V761.83H357.81ZM361.7 761.53H381.15V765.72H361.7ZM369.48 765.42H385.04V769.61H369.48ZM377.26 769.31H385.04V773.2H377.26Z"/>
<path fill="#0000ae" d="M248.89 695.4h3.89v3.89h-3.89ZM256.67 695.4h3.89v3.89h-3.89ZM252.78 699.29h3.89v3.89h-3.89ZM260.56 699.29h3.89v3.89h-3.89ZM256.67 703.18h3.89v3.89h-3.89ZM264.45 703.18h3.89v3.89h-3.89ZM268.34 707.07h3.89v3.89h-3.89ZM276.12 707.07h3.89v3.89h-3.89ZM272.23 710.96h3.89v3.89h-3.89ZM280.01 710.96h3.89v3.89h-3.89ZM276.12 714.85h3.89v3.89h-3.89ZM283.9 714.85h3.89v3.89h-3.89ZM291.68 714.85h3.89v3.89h-3.89ZM287.79 718.74h3.89v3.89h-3.89ZM295.57 718.74h3.89v3.89h-3.89ZM291.68 722.63h3.89v3.89h-3.89ZM299.46 722.63h3.89v3.89h-3.89ZM303.35 726.52h3.89v3.89h-3.89ZM311.13 726.52h3.89v3.89h-3.89ZM307.24 730.41h3.89v3.89h-3.89ZM315.02 730.41h3.89v3.89h-3.89ZM318.91 734.3h3.89v3.89h-3.89ZM326.69 734.3h3.89v3.89h-3.89ZM322.8 738.19h3.89v3.89h-3.89ZM330.58 738.19h3.89v3.89h-3.89ZM326.69 742.08h3.89v3.89h-3.89ZM334.47 742.08h3.89v3.89h-3.89ZM338.36 745.97h3.89v3.89h-3.89ZM346.14 745.97h3.89v3.89h-3.89ZM342.25 749.86h3.89v3.89h-3.89ZM350.03 749.86h3.89v3.89h-3.89ZM353.92 753.75h3.89v3.89h-3.89ZM361.7 753.75h3.89v3.89h-3.89ZM357.81 757.64h3.89v3.89h-3.89ZM365.59 757.64h3.89v3.89h-3.89ZM361.7 761.53h3.89v3.89h-3.89ZM369.48 761.53h3.89v3.89h-3.89ZM377.26 761.53h3.89v3.89h-3.89ZM373.37 765.42h3.89v3.89h-3.89ZM381.15 765.42h3.89v3.89h-3.89ZM377.26 769.31h3.89v3.89h-3.89Z"/>
<path fill="#0000fe" d="M586.38 518.65H594.16V522.84H586.38ZM582.49 522.54H590.27V526.73H582.49ZM578.6 526.43H590.27V530.62H578.6ZM574.71 530.32H586.38V534.51H574.71ZM570.82 534.21H582.49V538.4H570.82ZM566.93 538.1H578.6V542.29H566.93ZM566.93 541.99H574.71V546.18H566.93ZM563.04 545.88H574.71V550.07H563.04ZM559.15 549.77H570.82V553.96H559.15ZM555.26 553.66H566.93V557.85H555.26ZM551.37 557.55H563.04V561.74H551.37ZM551.37 561.44H559.15V565.63H551.37ZM547.48 565.33H555.26V569.52H547.48ZM543.59 569.22H555.26V573.41H543.59ZM539.7 573.11H551.37V577.3H539.7ZM535.81 577H547.48V581.19H535.81ZM535.81 580.89H543.59V585.08H535.81ZM531.92 584.78H539.7V588.97H531.92ZM528.03 588.67H539.7V592.86H528.03ZM524.14 592.56H535.81V596.75H524.14ZM520.25 596.45H531.92V600.64H520.25ZM516.36 600.34H528.03V604.53H516.36ZM516.36 604.23H524.14V608.42H516.36ZM512.47 608.12H524.14V612.31H512.47ZM508.58 612.01H520.25V616.2H508.58ZM504.69 615.9H516.36V620.09H504.69ZM500.8 619.79H512.47V623.98H500.8ZM500.8 623.68H508.58V627.87H500.8ZM496.91 627.57H504.69V631.76H496.91ZM493.02 631.46H504.69V635.65H493.02ZM489.13 635.35H500.8V639.54H489.13ZM485.24 639.24H496.91V643.43H485.24ZM485.24 643.13H493.02V647.32H485.24ZM481.35 647.02H489.13V651.21H481.35ZM477.46 650.91H489.13V655.1H477.46ZM473.57 654.8H485.24V658.99H473.57ZM469.68 658.69H481.35V662.88H469.68ZM465.79 662.58H477.46V666.77H465.79ZM465.79 666.47H473.57V670.66H465.79ZM461.9 670.36H473.57V674.55H461.9ZM458.01 674.25H469.68V678.44H458.01ZM454.12 678.14H465.79V682.33H454.12ZM450.23 682.03H461.9V686.22H450.23ZM450.23 685.92H458.01V690.11H450.23ZM446.34 689.81H454.12V694H446.34ZM442.45 693.7H454.12V697.89H442.45ZM438.56 697.59H450.23V701.78H438.56ZM434.67 701.48H446.34V705.67H434.67ZM434.67 705.37H442.45V709.56H434.67ZM430.78 709.26H438.56V713.45H430.78ZM426.89 713.15H438.56V717.34H426.89ZM423 717.04H434.67V721.23H423ZM419.11 720.93H430.78V725.12H419.11ZM419.11 724.82H426.89V729.01H419.11ZM415.22 728.71H423V732.9H415.22ZM411.33 732.6H423V736.79H411.33ZM407.44 736.49H419.11V740.68H407.44ZM403.55 740.38H415.22V744.57H403.55ZM399.66 744.27H411.33V748.46H399.66ZM399.66 748.16H407.44V752.35H399.66ZM395.77 752.05H403.55V756.24H395.77ZM391.88 755.94H403.55V760.13H391.88ZM387.99 759.83H399.66V764.02H387.99ZM384.1 763.72H395.77V767.91H384.1ZM384.1 767.61H391.88V771.5H384.1Z"/>
<path fill="#0000ae" d="M586.38 518.65h3.89v3.89h-3.89ZM582.49 522.54h3.89v3.89h-3.89ZM578.6 526.43h3.89v3.89h-3.89ZM586.38 526.43h3.89v3.89h-3.89ZM574.71 530.32h3.89v3.89h-3.89ZM582.49 530.32h3.89v3.89h-3.89ZM570.82 534.21h3.89v3.89h-3.89ZM578.6 534.21h3.89v3.89h-3.89ZM566.93 538.1h3.89v3.89h-3.89ZM574.71 538.1h3.89v3.89h-3.89ZM570.82 541.99h3.89v3.89h-3.89ZM566.93 545.88h3.89v3.89h-3.89ZM563.04 549.77h3.89v3.89h-3.89ZM559.15 553.66h3.89v3.89h-3.89ZM555.26 557.55h3.89v3.89h-3.89ZM551.37 561.44h3.89v3.89h-3.89ZM547.48 565.33h3.89v3.89h-3.89ZM543.59 569.22h3.89v3.89h-3.89ZM551.37 569.22h3.89v3.89h-3.89ZM539.7 573.11h3.89v3.89h-3.89ZM547.48 573.11h3.89v3.89h-3.89ZM535.81 577h3.89v3.89h-3.89ZM543.59 577h3.89v3.89h-3.89ZM539.7 580.89h3.89v3.89h-3.89ZM535.81 584.78h3.89v3.89h-3.89ZM531.92 588.67h3.89v3.89h-3.89ZM528.03 592.56h3.89v3.89h-3.89ZM524.14 596.45h3.89v3.89h-3.89ZM520.25 600.34h3.89v3.89h-3.89ZM516.36 604.23h3.89v3.89h-3.89ZM512.47 608.12h3.89v3.89h-3.89ZM520.25 608.12h3.89v3.89h-3.89ZM508.58 612.01h3.89v3.89h-3.89ZM516.36 612.01h3.89v3.89h-3.89ZM504.69 615.9h3.89v3.89h-3.89ZM512.47 615.9h3.89v3.89h-3.89ZM500.8 619.79h3.89v3.89h-3.89ZM508.58 619.79h3.89v3.89h-3.89ZM504.69 623.68h3.89v3.89h-3.89ZM500.8 627.57h3.89v3.89h-3.89ZM496.91 631.46h3.89v3.89h-3.89ZM493.02 635.35h3.89v3.89h-3.89ZM489.13 639.24h3.89v3.89h-3.89ZM485.24 643.13h3.89v3.89h-3.89ZM481.35 647.02h3.89v3.89h-3.89ZM477.46 650.91h3.89v3.89h-3.89ZM485.24 650.91h3.89v3.89h-3.89ZM473.57 654.8h3.89v3.89h-3.89ZM481.35 654.8h3.89v3.89h-3.89ZM469.68 658.69h3.89v3.89h-3.89ZM477.46 658.69h3.89v3.89h-3.89ZM465.79 662.58h3.89v3.89h-3.89ZM473.57 662.58h3.89v3.89h-3.89ZM469.68 666.47h3.89v3.89h-3.89ZM465.79 670.36h3.89v3.89h-3.89ZM461.9 674.25h3.89v3.89h-3.89ZM458.01 678.14h3.89v3.89h-3.89ZM454.12 682.03h3.89v3.89h-3.89ZM450.23 685.92h3.89v3.89h-3.89ZM446.34 689.81h3.89v3.89h-3.89ZM442.45 693.7h3.89v3.89h-3.89ZM450.23 693.7h3.89v3.89h-3.89ZM438.56 697.59h3.89v3.89h-3.89ZM446.34 697.59h3.89v3.89h-3.89ZM434.67 701.48h3.89v3.89h-3.89ZM442.45 701.48h3.89v3.89h-3.89ZM438.56 705.37h3.89v3.89h-3.89ZM434.67 709.26h3.89v3.89h-3.89ZM430.78 713.15h3.89v3.89h-3.89ZM426.89 717.04h3.89v3.89h-3.89ZM423 720.93h3.89v3.89h-3.89ZM419.11 724.82h3.89v3.89h-3.89ZM415.22 728.71h3.89v3.89h-3.89ZM411.33 732.6h3.89v3.89h-3.89ZM419.11 732.6h3.89v3.89h-3.89ZM407.44 736.49h3.89v3.89h-3.89ZM415.22 736.49h3.89v3.89h-3.89ZM403.55 740.38h3.89v3.89h-3.89ZM411.33 740.38h3.89v3.89h-3.89ZM399.66 744.27h3.89v3.89h-3.89ZM407.44 744.27h3.89v3.89h-3.89ZM403.55 748.16h3.89v3.89h-3.89ZM399.66 752.05h3.89v3.89h-3.89ZM395.77 755.94h3.89v3.89h-3.89ZM391.88 759.83h3.89v3.89h-3.89ZM387.99 763.72h3.89v3.89h-3.89ZM384.1 767.61h3.89v3.89h-3.89Z"/>
<path fill="#0000fe" d="M592.89 515.21H600.67V519.4H592.89ZM589 519.1H620.12V523.29H589ZM600.67 522.99H639.57V527.18H600.67ZM620.12 526.88H659.02V531.07H620.12ZM639.57 530.77H678.47V534.96H639.57ZM659.02 534.66H697.92V538.85H659.02ZM678.47 538.55H717.37V542.74H678.47ZM697.92 542.44H725.15V546.63H697.92ZM717.37 546.33H725.15V550.22H717.37Z"/>
<path fill="#0000ae" d="M596.78 515.21h3.89v3.89h-3.89ZM592.89 519.1h3.89v3.89h-3.89ZM600.67 519.1h3.89v3.89h-3.89ZM608.45 519.1h3.89v3.89h-3.89ZM616.23 519.1h3.89v3.89h-3.89ZM604.56 522.99h3.89v3.89h-3.89ZM612.34 522.99h3.89v3.89h-3.89ZM620.12 522.99h3.89v3.89h-3.89ZM627.9 522.99h3.89v3.89h-3.89ZM635.68 522.99h3.89v3.89h-3.89ZM624.01 526.88h3.89v3.89h-3.89ZM631.79 526.88h3.89v3.89h-3.89ZM639.57 526.88h3.89v3.89h-3.89ZM647.35 526.88h3.89v3.89h-3.89ZM655.13 526.88h3.89v3.89h-3.89ZM643.46 530.77h3.89v3.89h-3.89ZM651.24 530.77h3.89v3.89h-3.89ZM659.02 530.77h3.89v3.89h-3.89ZM666.8 530.77h3.89v3.89h-3.89ZM674.58 530.77h3.89v3.89h-3.89ZM662.91 534.66h3.89v3.89h-3.89ZM670.69 534.66h3.89v3.89h-3.89ZM678.47 534.66h3.89v3.89h-3.89ZM686.25 534.66h3.89v3.89h-3.89ZM694.03 534.66h3.89v3.89h-3.89ZM682.36 538.55h3.89v3.89h-3.89ZM690.14 538.55h3.89v3.89h-3.89ZM697.92 538.55h3.89v3.89h-3.89ZM705.7 538.55h3.89v3.89h-3.89ZM713.48 538.55h3.89v3.89h-3.89ZM701.81 542.44h3.89v3.89h-3.89ZM709.59 542.44h3.89v3.89h-3.89ZM717.37 542.44h3.89v3.89h-3.89ZM721.26 546.33h3.89v3.89h-3.89Z"/>
<path fill="#0000fe" d="M728.69 542.31H732.58V546.5H728.69ZM724.8 546.2H736.47V550.39H724.8ZM728.69 550.09H744.25V554.28H728.69ZM736.47 553.98H752.03V558.17H736.47ZM744.25 557.87H759.81V562.06H744.25ZM748.14 561.76H767.59V565.95H748.14ZM755.92 565.65H771.48V569.84H755.92ZM763.7 569.54H779.26V573.73H763.7ZM771.48 573.43H787.04V577.62H771.48ZM775.37 577.32H794.82V581.51H775.37ZM783.15 581.21H798.71V585.4H783.15ZM790.93 585.1H806.49V589.29H790.93ZM798.71 588.99H814.27V593.18H798.71ZM802.6 592.88H822.05V597.07H802.6ZM810.38 596.77H825.94V600.96H810.38ZM818.16 600.66H833.72V604.85H818.16ZM825.94 604.55H841.5V608.74H825.94ZM833.72 608.44H849.28V612.63H833.72ZM837.61 612.33H857.06V616.52H837.61ZM845.39 616.22H860.95V620.41H845.39ZM853.17 620.11H868.73V624.3H853.17ZM860.95 624H876.51V628.19H860.95ZM864.84 627.89H884.29V632.08H864.84ZM872.62 631.78H888.18V635.97H872.62ZM880.4 635.67H895.96V639.86H880.4ZM888.18 639.56H903.74V643.75H888.18ZM892.07 643.45H911.52V647.64H892.07ZM899.85 647.34H915.41V651.53H899.85ZM907.63 651.23H923.19V655.42H907.63ZM915.41 655.12H930.97V659.31H915.41ZM923.19 659.01H930.97V663.2H923.19ZM927.08 662.9H930.97V666.79H927.08Z"/>
<path fill="#0000ae" d="M728.69 546.2h3.89v3.89h-3.89ZM732.58 550.09h3.89v3.89h-3.89ZM740.36 550.09h3.89v3.89h-3.89ZM736.47 553.98h3.89v3.89h-3.89ZM744.25 553.98h3.89v3.89h-3.89ZM748.14 557.87h3.89v3.89h-3.89ZM755.92 557.87h3.89v3.89h-3.89ZM752.03 561.76h3.89v3.89h-3.89ZM759.81 561.76h3.89v3.89h-3.89ZM755.92 565.65h3.89v3.89h-3.89ZM763.7 565.65h3.89v3.89h-3.89ZM767.59 569.54h3.89v3.89h-3.89ZM775.37 569.54h3.89v3.89h-3.89ZM771.48 573.43h3.89v3.89h-3.89ZM779.26 573.43h3.89v3.89h-3.89ZM775.37 577.32h3.89v3.89h-3.89ZM783.15 577.32h3.89v3.89h-3.89ZM790.93 577.32h3.89v3.89h-3.89ZM787.04 581.21h3.89v3.89h-3.89ZM794.82 581.21h3.89v3.89h-3.89ZM790.93 585.1h3.89v3.89h-3.89ZM798.71 585.1h3.89v3.89h-3.89ZM802.6 588.99h3.89v3.89h-3.89ZM810.38 588.99h3.89v3.89h-3.89ZM806.49 592.88h3.89v3.89h-3.89ZM814.27 592.88h3.89v3.89h-3.89ZM810.38 596.77h3.89v3.89h-3.89ZM818.16 596.77h3.89v3.89h-3.89ZM822.05 600.66h3.89v3.89h-3.89ZM829.83 600.66h3.89v3.89h-3.89ZM825.94 604.55h3.89v3.89h-3.89ZM833.72 604.55h3.89v3.89h-3.89ZM837.61 608.44h3.89v3.89h-3.89ZM845.39 608.44h3.89v3.89h-3.89ZM841.5 612.33h3.89v3.89h-3.89ZM849.28 612.33h3.89v3.89h-3.89ZM845.39 616.22h3.89v3.89h-3.89ZM853.17 616.22h3.89v3.89h-3.89ZM857.06 620.11h3.89v3.89h-3.89ZM864.84 620.11h3.89v3.89h-3.89ZM860.95 624h3.89v3.89h-3.89ZM868.73 624h3.89v3.89h-3.89ZM864.84 627.89h3.89v3.89h-3.89ZM872.62 627.89h3.89v3.89h-3.89ZM880.4 627.89h3.89v3.89h-3.89ZM876.51 631.78h3.89v3.89h-3.89ZM884.29 631.78h3.89v3.89h-3.89ZM880.4 635.67h3.89v3.89h-3.89ZM888.18 635.67h3.89v3.89h-3.89ZM892.07 639.56h3.89v3.89h-3.89ZM899.85 639.56h3.89v3.89h-3.89ZM895.96 643.45h3.89v3.89h-3.89ZM903.74 643.45h3.89v3.89h-3.89ZM899.85 647.34h3.89v3.89h-3.89ZM907.63 647.34h3.89v3.89h-3.89ZM911.52 651.23h3.89v3.89h-3.89ZM919.3 651.23h3.89v3.89h-3.89ZM915.41 655.12h3.89v3.89h-3.89ZM923.19 655.12h3.89v3.89h-3.89ZM927.08 659.01h3.89v3.89h-3.89Z"/>
<path fill="#0000fe" d="M933.79 658.41H1003.81V662.6H933.79ZM929.9 662.3H1143.85V666.49H929.9ZM996.03 666.19H1283.89V670.38H996.03ZM1136.07 670.08H1342.24V674.27H1136.07ZM1276.11 673.97H1342.24V677.86H1276.11Z"/>
<path fill="#0000ae" d="M937.68 658.41h3.89v3.89h-3.89ZM945.46 658.41h3.89v3.89h-3.89ZM953.24 658.41h3.89v3.89h-3.89ZM961.02 658.41h3.89v3.89h-3.89ZM968.8 658.41h3.89v3.89h-3.89ZM976.58 658.41h3.89v3.89h-3.89ZM984.36 658.41h3.89v3.89h-3.89ZM992.14 658.41h3.89v3.89h-3.89ZM999.92 658.41h3.89v3.89h-3.89ZM933.79 662.3h3.89v3.89h-3.89ZM941.57 662.3h3.89v3.89h-3.89ZM949.35 662.3h3.89v3.89h-3.89ZM957.13 662.3h3.89v3.89h-3.89ZM964.91 662.3h3.89v3.89h-3.89ZM972.69 662.3h3.89v3.89h-3.89ZM980.47 662.3h3.89v3.89h-3.89ZM988.25 662.3h3.89v3.89h-3.89ZM996.03 662.3h3.89v3.89h-3.89ZM1003.81 662.3h3.89v3.89h-3.89ZM1011.59 662.3h3.89v3.89h-3.89ZM1019.37 662.3h3.89v3.89h-3.89ZM1027.15 662.3h3.89v3.89h-3.89ZM1034.93 662.3h3.89v3.89h-3.89ZM1042.71 662.3h3.89v3.89h-3.89ZM1050.49 662.3h3.89v3.89h-3.89ZM1058.27 662.3h3.89v3.89h-3.89ZM1066.05 662.3h3.89v3.89h-3.89ZM1073.83 662.3h3.89v3.89h-3.89ZM1081.61 662.3h3.89v3.89h-3.89ZM1089.39 662.3h3.89v3.89h-3.89ZM1097.17 662.3h3.89v3.89h-3.89ZM1104.95 662.3h3.89v3.89h-3.89ZM1112.73 662.3h3.89v3.89h-3.89ZM1120.51 662.3h3.89v3.89h-3.89ZM1128.29 662.3h3.89v3.89h-3.89ZM1136.07 662.3h3.89v3.89h-3.89ZM999.92 666.19h3.89v3.89h-3.89ZM1007.7 666.19h3.89v3.89h-3.89ZM1015.48 666.19h3.89v3.89h-3.89ZM1023.26 666.19h3.89v3.89h-3.89ZM1031.04 666.19h3.89v3.89h-3.89ZM1038.82 666.19h3.89v3.89h-3.89ZM1046.6 666.19h3.89v3.89h-3.89ZM1054.38 666.19h3.89v3.89h-3.89ZM1062.16 666.19h3.89v3.89h-3.89ZM1069.94 666.19h3.89v3.89h-3.89ZM1077.72 666.19h3.89v3.89h-3.89ZM1085.5 666.19h3.89v3.89h-3.89ZM1093.28 666.19h3.89v3.89h-3.89ZM1101.06 666.19h3.89v3.89h-3.89ZM1108.84 666.19h3.89v3.89h-3.89ZM1116.62 666.19h3.89v3.89h-3.89ZM1124.4 666.19h3.89v3.89h-3.89ZM1132.18 666.19h3.89v3.89h-3.89ZM1139.96 666.19h3.89v3.89h-3.89ZM1147.74 666.19h3.89v3.89h-3.89ZM1155.52 666.19h3.89v3.89h-3.89ZM1163.3 666.19h3.89v3.89h-3.89ZM1171.08 666.19h3.89v3.89h-3.89ZM1178.86 666.19h3.89v3.89h-3.89ZM1186.64 666.19h3.89v3.89h-3.89ZM1194.42 666.19h3.89v3.89h-3.89ZM1202.2 666.19h3.89v3.89h-3.89ZM1209.98 666.19h3.89v3.89h-3.89ZM1217.76 666.19h3.89v3.89h-3.89ZM1225.54 666.19h3.89v3.89h-3.89ZM1233.32 666.19h3.89v3.89h-3.89ZM1241.1 666.19h3.89v3.89h-3.89ZM1248.88 666.19h3.89v3.89h-3.89ZM1256.66 666.19h3.89v3.89h-3.89ZM1264.44 666.19h3.89v3.89h-3.89ZM1272.22 666.19h3.89v3.89h-3.89ZM1280 666.19h3.89v3.89h-3.89ZM1136.07 670.08h3.89v3.89h-3.89ZM1143.85 670.08h3.89v3.89h-3.89ZM1151.63 670.08h3.89v3.89h-3.89ZM1159.41 670.08h3.89v3.89h-3.89ZM1167.19 670.08h3.89v3.89h-3.89ZM1174.97 670.08h3.89v3.89h-3.89ZM1182.75 670.08h3.89v3.89h-3.89ZM1190.53 670.08h3.89v3.89h-3.89ZM1198.31 670.08h3.89v3.89h-3.89ZM1206.09 670.08h3.89v3.89h-3.89ZM1213.87 670.08h3.89v3.89h-3.89ZM1221.65 670.08h3.89v3.89h-3.89ZM1229.43 670.08h3.89v3.89h-3.89ZM1237.21 670.08h3.89v3.89h-3.89ZM1244.99 670.08h3.89v3.89h-3.89ZM1252.77 670.08h3.89v3.89h-3.89ZM1260.55 670.08h3.89v3.89h-3.89ZM1268.33 670.08h3.89v3.89h-3.89ZM1276.11 670.08h3.89v3.89h-3.89ZM1283.89 670.08h3.89v3.89h-3.89ZM1291.67 670.08h3.89v3.89h-3.89ZM1299.45 670.08h3.89v3.89h-3.89ZM1307.23 670.08h3.89v3.89h-3.89ZM1315.01 670.08h3.89v3.89h-3.89ZM1322.79 670.08h3.89v3.89h-3.89ZM1330.57 670.08h3.89v3.89h-3.89ZM1338.35 670.08h3.89v3.89h-3.89ZM1280 673.97h3.89v3.89h-3.89ZM1287.78 673.97h3.89v3.89h-3.89ZM1295.56 673.97h3.89v3.89h-3.89ZM1303.34 673.97h3.89v3.89h-3.89ZM1311.12 673.97h3.89v3.89h-3.89ZM1318.9 673.97h3.89v3.89h-3.89ZM1326.68 673.97h3.89v3.89h-3.89ZM1334.46 673.97h3.89v3.89h-3.89Z"/>
<path fill="#0000fe" d="M233.33 629.1H260.56V633.29H233.33ZM245 632.99H248.89V637.18H245ZM245 636.88H248.89V641.07H245ZM245 640.77H248.89V644.95H245ZM245 644.65H248.89V648.84H245ZM245 648.54H248.89V652.73H245ZM245 652.43H248.89V656.61H245ZM245 656.31H248.89V660.5H245ZM245 660.2H248.89V664.39H245ZM245 664.09H248.89V668.27H245ZM245 667.97H248.89V672.16H245ZM245 671.86H248.89V676.05H245ZM245 675.75H248.89V679.93H245ZM245 679.63H248.89V683.82H245ZM245 683.52H248.89V687.71H245ZM245 687.41H248.89V691.59H245ZM245 691.29H248.89V695.48H245ZM245 695.18H248.89V699.37H245ZM245 699.07H248.89V703.26H245ZM245 702.96H248.89V707.14H245ZM245 706.84H248.89V711.03H245ZM245 710.73H248.89V714.92H245ZM245 714.62H248.89V718.8H245ZM245 718.5H248.89V722.69H245ZM245 722.39H248.89V726.58H245ZM245 726.28H248.89V730.46H245ZM245 730.16H248.89V734.35H245ZM245 734.05H248.89V738.24H245ZM245 737.94H248.89V742.12H245ZM245 741.82H248.89V746.01H245ZM245 745.71H248.89V749.9H245ZM245 749.6H248.89V753.78H245ZM245 753.48H248.89V757.67H245ZM245 757.37H248.89V761.56H245ZM233.33 761.26H260.56V765.15H233.33Z"/>
<path fill="#0000ae" d="M237.22 629.1h3.89v3.89h-3.89ZM245 629.1h3.89v3.89h-3.89ZM252.78 629.1h3.89v3.89h-3.89ZM245 636.88h3.89v3.89h-3.89ZM245 644.65h3.89v3.89h-3.89ZM245 652.43h3.89v3.89h-3.89ZM245 660.2h3.89v3.89h-3.89ZM245 667.97h3.89v3.89h-3.89ZM245 675.75h3.89v3.89h-3.89ZM245 683.52h3.89v3.89h-3.89ZM245 691.29h3.89v3.89h-3.89ZM245 699.07h3.89v3.89h-3.89ZM245 706.84h3.89v3.89h-3.89ZM245 714.62h3.89v3.89h-3.89ZM245 722.39h3.89v3.89h-3.89ZM245 730.16h3.89v3.89h-3.89ZM245 737.94h3.89v3.89h-3.89ZM245 745.71h3.89v3.89h-3.89ZM245 753.48h3.89v3.89h-3.89ZM237.22 761.26h3.89v3.89h-3.89ZM245 761.26h3.89v3.89h-3.89ZM252.78 761.26h3.89v3.89h-3.89Z"/>
<path fill="#0000fe" d="M372.43 702.95H395.77V707.12H372.43ZM384.1 706.82H387.99V710.99H384.1ZM384.1 710.69H387.99V714.86H384.1ZM384.1 714.56H387.99V718.73H384.1ZM384.1 718.43H387.99V722.6H384.1ZM384.1 722.3H387.99V726.47H384.1ZM384.1 726.17H387.99V730.34H384.1ZM384.1 730.04H387.99V734.21H384.1ZM384.1 733.91H387.99V738.08H384.1ZM384.1 737.78H387.99V741.95H384.1ZM384.1 741.65H387.99V745.82H384.1ZM384.1 745.52H387.99V749.69H384.1ZM384.1 749.39H387.99V753.56H384.1ZM384.1 753.26H387.99V757.43H384.1ZM384.1 757.13H387.99V761.3H384.1ZM384.1 761H387.99V765.17H384.1ZM384.1 764.88H387.99V769.04H384.1ZM384.1 768.75H387.99V772.91H384.1ZM384.1 772.62H387.99V776.78H384.1ZM384.1 776.49H387.99V780.65H384.1ZM384.1 780.36H387.99V784.52H384.1ZM384.1 784.23H387.99V788.39H384.1ZM384.1 788.1H387.99V792.26H384.1ZM384.1 791.97H387.99V796.13H384.1ZM384.1 795.84H387.99V800H384.1ZM384.1 799.71H387.99V803.88H384.1ZM384.1 803.58H387.99V807.75H384.1ZM384.1 807.45H387.99V811.62H384.1ZM384.1 811.32H387.99V815.49H384.1ZM384.1 815.19H387.99V819.36H384.1ZM384.1 819.06H387.99V823.23H384.1ZM384.1 822.93H387.99V827.1H384.1ZM384.1 826.8H387.99V830.97H384.1ZM384.1 830.67H387.99V834.84H384.1ZM384.1 834.54H387.99V838.71H384.1ZM384.1 838.41H387.99V842.58H384.1ZM372.43 842.28H395.77V846.15H372.43Z"/>
<path fill="#0000ae" d="M376.32 702.95h3.89v3.87h-3.89ZM384.1 702.95h3.89v3.87h-3.89ZM391.88 702.95h3.89v3.87h-3.89ZM384.1 710.69h3.89v3.87h-3.89ZM384.1 718.43h3.89v3.87h-3.89ZM384.1 726.17h3.89v3.87h-3.89ZM384.1 733.91h3.89v3.87h-3.89ZM384.1 741.65h3.89v3.87h-3.89ZM384.1 749.39h3.89v3.87h-3.89ZM384.1 757.13h3.89v3.87h-3.89ZM384.1 764.88h3.89v3.87h-3.89ZM384.1 772.62h3.89v3.87h-3.89ZM384.1 780.36h3.89v3.87h-3.89ZM384.1 788.1h3.89v3.87h-3.89ZM384.1 795.84h3.89v3.87h-3.89ZM384.1 803.58h3.89v3.87h-3.89ZM384.1 811.32h3.89v3.87h-3.89ZM384.1 819.06h3.89v3.87h-3.89ZM384.1 826.8h3.89v3.87h-3.89ZM384.1 834.54h3.89v3.87h-3.89ZM376.32 842.28h3.89v3.87h-3.89ZM384.1 842.28h3.89v3.87h-3.89ZM391.88 842.28h3.89v3.87h-3.89Z"/>
<path fill="#0000fe" d="M577.33 369.95H604.56V374.13H577.33ZM589 373.83H592.89V378H589ZM589 377.7H592.89V381.87H589ZM589 381.57H592.89V385.75H589ZM589 385.45H592.89V389.62H589ZM589 389.32H592.89V393.49H589ZM589 393.19H592.89V397.36H589ZM589 397.06H592.89V401.24H589ZM589 400.94H592.89V405.11H589ZM589 404.81H592.89V408.98H589ZM589 408.68H592.89V412.85H589ZM589 412.55H592.89V416.73H589ZM589 416.43H592.89V420.6H589ZM589 420.3H592.89V424.47H589ZM589 424.17H592.89V428.34H589ZM589 428.04H592.89V432.22H589ZM589 431.92H592.89V436.09H589ZM589 435.79H592.89V439.96H589ZM589 439.66H592.89V443.83H589ZM589 443.53H592.89V447.71H589ZM589 447.41H592.89V451.58H589ZM589 451.28H592.89V455.45H589ZM589 455.15H592.89V459.32H589ZM589 459.02H592.89V463.2H589ZM589 462.9H592.89V467.07H589ZM589 466.77H592.89V470.94H589ZM589 470.64H592.89V474.82H589ZM589 474.52H592.89V478.69H589ZM589 478.39H592.89V482.56H589ZM589 482.26H592.89V486.43H589ZM589 486.13H592.89V490.31H589ZM589 490.01H592.89V494.18H589ZM589 493.88H592.89V498.05H589ZM589 497.75H592.89V501.92H589ZM589 501.62H592.89V505.8H589ZM589 505.5H592.89V509.67H589ZM589 509.37H592.89V513.54H589ZM589 513.24H592.89V517.41H589ZM589 517.11H592.89V521.29H589ZM589 520.99H592.89V525.16H589ZM589 524.86H592.89V529.03H589ZM589 528.73H592.89V532.9H589ZM589 532.6H592.89V536.78H589ZM589 536.48H592.89V540.65H589ZM589 540.35H592.89V544.52H589ZM589 544.22H592.89V548.39H589ZM589 548.09H592.89V552.27H589ZM589 551.97H592.89V556.14H589ZM589 555.84H592.89V560.01H589ZM589 559.71H592.89V563.88H589ZM589 563.58H592.89V567.76H589ZM589 567.46H592.89V571.63H589ZM589 571.33H592.89V575.5H589ZM589 575.2H592.89V579.38H589ZM589 579.08H592.89V583.25H589ZM589 582.95H592.89V587.12H589ZM589 586.82H592.89V590.99H589ZM589 590.69H592.89V594.87H589ZM589 594.57H592.89V598.74H589ZM589 598.44H592.89V602.61H589ZM589 602.31H592.89V606.48H589ZM589 606.18H592.89V610.36H589ZM589 610.06H592.89V614.23H589ZM589 613.93H592.89V618.1H589ZM589 617.8H592.89V621.97H589ZM589 621.67H592.89V625.85H589ZM589 625.55H592.89V629.72H589ZM589 629.42H592.89V633.59H589ZM589 633.29H592.89V637.46H589ZM589 637.16H592.89V641.34H589ZM589 641.04H592.89V645.21H589ZM589 644.91H592.89V649.08H589ZM589 648.78H592.89V652.95H589ZM589 652.65H592.89V656.83H589ZM589 656.53H592.89V660.7H589ZM589 660.4H592.89V664.57H589ZM577.33 664.27H604.56V668.15H577.33Z"/>
<path fill="#0000ae" d="M581.22 369.95h3.89v3.87h-3.89ZM589 369.95h3.89v3.87h-3.89ZM596.78 369.95h3.89v3.87h-3.89ZM589 377.7h3.89v3.87h-3.89ZM589 385.45h3.89v3.87h-3.89ZM589 393.19h3.89v3.87h-3.89ZM589 400.94h3.89v3.87h-3.89ZM589 408.68h3.89v3.87h-3.89ZM589 416.43h3.89v3.87h-3.89ZM589 424.17h3.89v3.87h-3.89ZM589 431.92h3.89v3.87h-3.89ZM589 439.66h3.89v3.87h-3.89ZM589 447.41h3.89v3.87h-3.89ZM589 455.15h3.89v3.87h-3.89ZM589 462.9h3.89v3.87h-3.89ZM589 470.64h3.89v3.87h-3.89ZM589 478.39h3.89v3.87h-3.89ZM589 486.13h3.89v3.87h-3.89ZM589 493.88h3.89v3.87h-3.89ZM589 501.62h3.89v3.87h-3.89ZM589 509.37h3.89v3.87h-3.89ZM589 517.11h3.89v3.87h-3.89ZM589 524.86h3.89v3.87h-3.89ZM589 532.6h3.89v3.87h-3.89ZM589 540.35h3.89v3.87h-3.89ZM589 548.09h3.89v3.87h-3.89ZM589 555.84h3.89v3.87h-3.89ZM589 563.58h3.89v3.87h-3.89ZM589 571.33h3.89v3.87h-3.89ZM589 579.08h3.89v3.87h-3.89ZM589 586.82h3.89v3.87h-3.89ZM589 594.57h3.89v3.87h-3.89ZM589 602.31h3.89v3.87h-3.89ZM589 610.06h3.89v3.87h-3.89ZM589 617.8h3.89v3.87h-3.89ZM589 625.55h3.89v3.87h-3.89ZM589 633.29h3.89v3.87h-3.89ZM589 641.04h3.89v3.87h-3.89ZM589 648.78h3.89v3.87h-3.89ZM589 656.53h3.89v3.87h-3.89ZM581.22 664.27h3.89v3.87h-3.89ZM589 664.27h3.89v3.87h-3.89ZM596.78 664.27h3.89v3.87h-3.89Z"/>
<path fill="#0000fe" d="M713.13 408.81H740.36V412.97H713.13ZM724.8 412.67H728.69V416.84H724.8ZM724.8 416.54H728.69V420.71H724.8ZM724.8 420.41H728.69V424.58H724.8ZM724.8 424.28H728.69V428.45H724.8ZM724.8 428.15H728.69V432.31H724.8ZM724.8 432.01H728.69V436.18H724.8ZM724.8 435.88H728.69V440.05H724.8ZM724.8 439.75H728.69V443.92H724.8ZM724.8 443.62H728.69V447.79H724.8ZM724.8 447.49H728.69V451.65H724.8ZM724.8 451.35H728.69V455.52H724.8ZM724.8 455.22H728.69V459.39H724.8ZM724.8 459.09H728.69V463.26H724.8ZM724.8 462.96H728.69V467.13H724.8ZM724.8 466.83H728.69V471H724.8ZM724.8 470.7H728.69V474.86H724.8ZM724.8 474.56H728.69V478.73H724.8ZM724.8 478.43H728.69V482.6H724.8ZM724.8 482.3H728.69V486.47H724.8ZM724.8 486.17H728.69V490.34H724.8ZM724.8 490.04H728.69V494.2H724.8ZM724.8 493.9H728.69V498.07H724.8ZM724.8 497.77H728.69V501.94H724.8ZM724.8 501.64H728.69V505.81H724.8ZM724.8 505.51H728.69V509.68H724.8ZM724.8 509.38H728.69V513.55H724.8ZM724.8 513.25H728.69V517.41H724.8ZM724.8 517.11H728.69V521.28H724.8ZM724.8 520.98H728.69V525.15H724.8ZM724.8 524.85H728.69V529.02H724.8ZM724.8 528.72H728.69V532.89H724.8ZM724.8 532.59H728.69V536.75H724.8ZM724.8 536.45H728.69V540.62H724.8ZM724.8 540.32H728.69V544.49H724.8ZM724.8 544.19H728.69V548.36H724.8ZM724.8 548.06H728.69V552.23H724.8ZM724.8 551.93H728.69V556.1H724.8ZM724.8 555.8H728.69V559.96H724.8ZM724.8 559.66H728.69V563.83H724.8ZM724.8 563.53H728.69V567.7H724.8ZM724.8 567.4H728.69V571.57H724.8ZM724.8 571.27H728.69V575.44H724.8ZM724.8 575.14H728.69V579.3H724.8ZM724.8 579H728.69V583.17H724.8ZM724.8 582.87H728.69V587.04H724.8ZM724.8 586.74H728.69V590.91H724.8ZM724.8 590.61H728.69V594.78H724.8ZM724.8 594.48H728.69V598.65H724.8ZM724.8 598.35H728.69V602.51H724.8ZM724.8 602.21H728.69V606.38H724.8ZM724.8 606.08H728.69V610.25H724.8ZM724.8 609.95H728.69V614.12H724.8ZM724.8 613.82H728.69V617.99H724.8ZM724.8 617.69H728.69V621.85H724.8ZM724.8 621.55H728.69V625.72H724.8ZM724.8 625.42H728.69V629.59H724.8ZM724.8 629.29H728.69V633.46H724.8ZM724.8 633.16H728.69V637.33H724.8ZM724.8 637.03H728.69V641.2H724.8ZM724.8 640.9H728.69V645.06H724.8ZM724.8 644.76H728.69V648.93H724.8ZM724.8 648.63H728.69V652.8H724.8ZM724.8 652.5H728.69V656.67H724.8ZM724.8 656.37H728.69V660.54H724.8ZM724.8 660.24H728.69V664.4H724.8ZM724.8 664.1H728.69V668.27H724.8ZM724.8 667.97H728.69V672.14H724.8ZM724.8 671.84H728.69V676.01H724.8ZM724.8 675.71H728.69V679.88H724.8ZM713.13 679.58H740.36V683.45H713.13Z"/>
<path fill="#0000ae" d="M717.02 408.81h3.89v3.87h-3.89ZM724.8 408.81h3.89v3.87h-3.89ZM732.58 408.81h3.89v3.87h-3.89ZM724.8 416.54h3.89v3.87h-3.89ZM724.8 424.28h3.89v3.87h-3.89ZM724.8 432.01h3.89v3.87h-3.89ZM724.8 439.75h3.89v3.87h-3.89ZM724.8 447.49h3.89v3.87h-3.89ZM724.8 455.22h3.89v3.87h-3.89ZM724.8 462.96h3.89v3.87h-3.89ZM724.8 470.7h3.89v3.87h-3.89ZM724.8 478.43h3.89v3.87h-3.89ZM724.8 486.17h3.89v3.87h-3.89ZM724.8 493.9h3.89v3.87h-3.89ZM724.8 501.64h3.89v3.87h-3.89ZM724.8 509.38h3.89v3.87h-3.89ZM724.8 517.11h3.89v3.87h-3.89ZM724.8 524.85h3.89v3.87h-3.89ZM724.8 532.59h3.89v3.87h-3.89ZM724.8 540.32h3.89v3.87h-3.89ZM724.8 548.06h3.89v3.87h-3.89ZM724.8 555.8h3.89v3.87h-3.89ZM724.8 563.53h3.89v3.87h-3.89ZM724.8 571.27h3.89v3.87h-3.89ZM724.8 579h3.89v3.87h-3.89ZM724.8 586.74h3.89v3.87h-3.89ZM724.8 594.48h3.89v3.87h-3.89ZM724.8 602.21h3.89v3.87h-3.89ZM724.8 609.95h3.89v3.87h-3.89ZM724.8 617.69h3.89v3.87h-3.89ZM724.8 625.42h3.89v3.87h-3.89ZM724.8 633.16h3.89v3.87h-3.89ZM724.8 640.9h3.89v3.87h-3.89ZM724.8 648.63h3.89v3.87h-3.89ZM724.8 656.37h3.89v3.87h-3.89ZM724.8 664.1h3.89v3.87h-3.89ZM724.8 671.84h3.89v3.87h-3.89ZM717.02 679.58h3.89v3.87h-3.89ZM724.8 679.58h3.89v3.87h-3.89ZM732.58 679.58h3.89v3.87h-3.89Z"/>
<path fill="#0000fe" d="M918.23 574.95H945.46V579.13H918.23ZM929.9 578.83H933.79V583.01H929.9ZM929.9 582.71H933.79V586.89H929.9ZM929.9 586.59H933.79V590.77H929.9ZM929.9 590.47H933.79V594.65H929.9ZM929.9 594.35H933.79V598.53H929.9ZM929.9 598.23H933.79V602.41H929.9ZM929.9 602.11H933.79V606.29H929.9ZM929.9 605.99H933.79V610.17H929.9ZM929.9 609.87H933.79V614.05H929.9ZM929.9 613.75H933.79V617.93H929.9ZM929.9 617.63H933.79V621.81H929.9ZM929.9 621.51H933.79V625.69H929.9ZM929.9 625.39H933.79V629.57H929.9ZM929.9 629.27H933.79V633.45H929.9ZM929.9 633.15H933.79V637.33H929.9ZM929.9 637.03H933.79V641.21H929.9ZM929.9 640.91H933.79V645.09H929.9ZM929.9 644.79H933.79V648.97H929.9ZM929.9 648.67H933.79V652.85H929.9ZM929.9 652.55H933.79V656.73H929.9ZM929.9 656.43H933.79V660.61H929.9ZM929.9 660.31H933.79V664.49H929.9ZM929.9 664.19H933.79V668.37H929.9ZM929.9 668.07H933.79V672.25H929.9ZM929.9 671.95H933.79V676.13H929.9ZM929.9 675.83H933.79V680.01H929.9ZM929.9 679.71H933.79V683.89H929.9ZM929.9 683.59H933.79V687.77H929.9ZM929.9 687.47H933.79V691.65H929.9ZM929.9 691.35H933.79V695.53H929.9ZM929.9 695.23H933.79V699.41H929.9ZM929.9 699.11H933.79V703.29H929.9ZM929.9 702.99H933.79V707.17H929.9ZM929.9 706.87H933.79V711.05H929.9ZM929.9 710.75H933.79V714.93H929.9ZM929.9 714.63H933.79V718.81H929.9ZM929.9 718.51H933.79V722.69H929.9ZM929.9 722.39H933.79V726.57H929.9ZM929.9 726.27H933.79V730.45H929.9ZM929.9 730.15H933.79V734.33H929.9ZM929.9 734.03H933.79V738.21H929.9ZM929.9 737.91H933.79V742.09H929.9ZM929.9 741.79H933.79V745.97H929.9ZM918.23 745.67H945.46V749.55H918.23Z"/>
<path fill="#0000ae" d="M922.12 574.95h3.89v3.88h-3.89ZM929.9 574.95h3.89v3.88h-3.89ZM937.68 574.95h3.89v3.88h-3.89ZM929.9 582.71h3.89v3.88h-3.89ZM929.9 590.47h3.89v3.88h-3.89ZM929.9 598.23h3.89v3.88h-3.89ZM929.9 605.99h3.89v3.88h-3.89ZM929.9 613.75h3.89v3.88h-3.89ZM929.9 621.51h3.89v3.88h-3.89ZM929.9 629.27h3.89v3.88h-3.89ZM929.9 637.03h3.89v3.88h-3.89ZM929.9 644.79h3.89v3.88h-3.89ZM929.9 652.55h3.89v3.88h-3.89ZM929.9 660.31h3.89v3.88h-3.89ZM929.9 668.07h3.89v3.88h-3.89ZM929.9 675.83h3.89v3.88h-3.89ZM929.9 683.59h3.89v3.88h-3.89ZM929.9 691.35h3.89v3.88h-3.89ZM929.9 699.11h3.89v3.88h-3.89ZM929.9 706.87h3.89v3.88h-3.89ZM929.9 714.63h3.89v3.88h-3.89ZM929.9 722.39h3.89v3.88h-3.89ZM929.9 730.15h3.89v3.88h-3.89ZM929.9 737.91h3.89v3.88h-3.89ZM922.12 745.67h3.89v3.88h-3.89ZM929.9 745.67h3.89v3.88h-3.89ZM937.68 745.67h3.89v3.88h-3.89Z"/>
<path fill="#0000fe" d="M1332.22 594.45H1351.67V598.63H1332.22ZM1340 598.33H1343.89V602.51H1340ZM1340 602.21H1343.89V606.39H1340ZM1340 606.09H1343.89V610.27H1340ZM1340 609.97H1343.89V614.14H1340ZM1340 613.84H1343.89V618.02H1340ZM1340 617.72H1343.89V621.9H1340ZM1340 621.6H1343.89V625.78H1340ZM1340 625.48H1343.89V629.66H1340ZM1340 629.36H1343.89V633.53H1340ZM1340 633.23H1343.89V637.41H1340ZM1340 637.11H1343.89V641.29H1340ZM1340 640.99H1343.89V645.17H1340ZM1340 644.87H1343.89V649.04H1340ZM1340 648.74H1343.89V652.92H1340ZM1340 652.62H1343.89V656.8H1340ZM1340 656.5H1343.89V660.68H1340ZM1340 660.38H1343.89V664.56H1340ZM1340 664.26H1343.89V668.43H1340ZM1340 668.13H1343.89V672.31H1340ZM1340 672.01H1343.89V676.19H1340ZM1340 675.89H1343.89V680.07H1340ZM1340 679.77H1343.89V683.94H1340ZM1340 683.64H1343.89V687.82H1340ZM1340 687.52H1343.89V691.7H1340ZM1340 691.4H1343.89V695.58H1340ZM1340 695.28H1343.89V699.46H1340ZM1340 699.16H1343.89V703.33H1340ZM1340 703.03H1343.89V707.21H1340ZM1340 706.91H1343.89V711.09H1340ZM1340 710.79H1343.89V714.97H1340ZM1340 714.67H1343.89V718.84H1340ZM1340 718.54H1343.89V722.72H1340ZM1340 722.42H1343.89V726.6H1340ZM1340 726.3H1343.89V730.48H1340ZM1340 730.18H1343.89V734.36H1340ZM1340 734.06H1343.89V738.23H1340ZM1340 737.93H1343.89V742.11H1340ZM1340 741.81H1343.89V745.99H1340ZM1340 745.69H1343.89V749.87H1340ZM1332.22 749.57H1351.67V753.45H1332.22Z"/>
<path fill="#0000ae" d="M1336.11 594.45h3.89v3.88h-3.89ZM1343.89 594.45h3.89v3.88h-3.89ZM1340 598.33h3.89v3.88h-3.89ZM1340 606.09h3.89v3.88h-3.89ZM1340 613.84h3.89v3.88h-3.89ZM1340 621.6h3.89v3.88h-3.89ZM1340 629.36h3.89v3.88h-3.89ZM1340 637.11h3.89v3.88h-3.89ZM1340 644.87h3.89v3.88h-3.89ZM1340 652.62h3.89v3.88h-3.89ZM1340 660.38h3.89v3.88h-3.89ZM1340 668.13h3.89v3.88h-3.89ZM1340 675.89h3.89v3.88h-3.89ZM1340 683.64h3.89v3.88h-3.89ZM1340 691.4h3.89v3.88h-3.89ZM1340 699.16h3.89v3.88h-3.89ZM1340 706.91h3.89v3.88h-3.89ZM1340 714.67h3.89v3.88h-3.89ZM1340 722.42h3.89v3.88h-3.89ZM1340 730.18h3.89v3.88h-3.89ZM1340 737.93h3.89v3.88h-3.89ZM1340 745.69h3.89v3.88h-3.89ZM1336.11 749.57h3.89v3.88h-3.89ZM1343.89 749.57h3.89v3.88h-3.89Z"/>
<path fill="#0000fe" d="M245 683.73H248.89V687.92H245ZM241.11 687.62H248.89V691.81H241.11ZM241.11 691.51H252.78V695.7H241.11ZM237.22 695.4H252.78V699.59H237.22ZM237.22 699.29H256.67V703.48H237.22ZM233.33 703.18H256.67V707.37H233.33ZM233.33 707.07H260.56V710.96H233.33Z"/>
<path fill="#0000ae" d="M245 683.73h3.89v3.89h-3.89ZM241.11 687.62h3.89v3.89h-3.89ZM245 691.51h3.89v3.89h-3.89ZM241.11 695.4h3.89v3.89h-3.89ZM248.89 695.4h3.89v3.89h-3.89ZM237.22 699.29h3.89v3.89h-3.89ZM245 699.29h3.89v3.89h-3.89ZM252.78 699.29h3.89v3.89h-3.89ZM233.33 703.18h3.89v3.89h-3.89ZM241.11 703.18h3.89v3.89h-3.89ZM248.89 703.18h3.89v3.89h-3.89ZM237.22 707.07h3.89v3.89h-3.89ZM245 707.07h3.89v3.89h-3.89ZM252.78 707.07h3.89v3.89h-3.89Z"/>
<path fill="#0000fe" d="M384.1 759.83H387.99V764.02H384.1ZM380.21 763.72H387.99V767.91H380.21ZM380.21 767.61H391.88V771.8H380.21ZM376.32 771.5H391.88V775.69H376.32ZM376.32 775.39H395.77V779.58H376.32ZM372.43 779.28H395.77V783.47H372.43ZM372.43 783.17H399.66V787.06H372.43Z"/>
<path fill="#0000ae" d="M384.1 759.83h3.89v3.89h-3.89ZM380.21 763.72h3.89v3.89h-3.89ZM384.1 767.61h3.89v3.89h-3.89ZM380.21 771.5h3.89v3.89h-3.89ZM387.99 771.5h3.89v3.89h-3.89ZM376.32 775.39h3.89v3.89h-3.89ZM384.1 775.39h3.89v3.89h-3.89ZM391.88 775.39h3.89v3.89h-3.89ZM372.43 779.28h3.89v3.89h-3.89ZM380.21 779.28h3.89v3.89h-3.89ZM387.99 779.28h3.89v3.89h-3.89ZM376.32 783.17h3.89v3.89h-3.89ZM384.1 783.17h3.89v3.89h-3.89ZM391.88 783.17h3.89v3.89h-3.89Z"/>
<path fill="#0000fe" d="M589 507.43H592.89V511.62H589ZM585.11 511.32H592.89V515.51H585.11ZM585.11 515.21H596.78V519.4H585.11ZM581.22 519.1H596.78V523.29H581.22ZM581.22 522.99H600.67V527.18H581.22ZM577.33 526.88H600.67V531.07H577.33ZM577.33 530.77H604.56V534.66H577.33Z"/>
<path fill="#0000ae" d="M589 507.43h3.89v3.89h-3.89ZM585.11 511.32h3.89v3.89h-3.89ZM589 515.21h3.89v3.89h-3.89ZM585.11 519.1h3.89v3.89h-3.89ZM592.89 519.1h3.89v3.89h-3.89ZM581.22 522.99h3.89v3.89h-3.89ZM589 522.99h3.89v3.89h-3.89ZM596.78 522.99h3.89v3.89h-3.89ZM577.33 526.88h3.89v3.89h-3.89ZM585.11 526.88h3.89v3.89h-3.89ZM592.89 526.88h3.89v3.89h-3.89ZM581.22 530.77h3.89v3.89h-3.89ZM589 530.77h3.89v3.89h-3.89ZM596.78 530.77h3.89v3.89h-3.89Z"/>
<path fill="#0000fe" d="M724.8 534.53H728.69V538.72H724.8ZM720.91 538.42H728.69V542.61H720.91ZM720.91 542.31H732.58V546.5H720.91ZM717.02 546.2H732.58V550.39H717.02ZM717.02 550.09H736.47V554.28H717.02ZM713.13 553.98H736.47V558.17H713.13ZM713.13 557.87H740.36V561.76H713.13Z"/>
<path fill="#0000ae" d="M724.8 534.53h3.89v3.89h-3.89ZM720.91 538.42h3.89v3.89h-3.89ZM724.8 542.31h3.89v3.89h-3.89ZM720.91 546.2h3.89v3.89h-3.89ZM728.69 546.2h3.89v3.89h-3.89ZM717.02 550.09h3.89v3.89h-3.89ZM724.8 550.09h3.89v3.89h-3.89ZM732.58 550.09h3.89v3.89h-3.89ZM713.13 553.98h3.89v3.89h-3.89ZM720.91 553.98h3.89v3.89h-3.89ZM728.69 553.98h3.89v3.89h-3.89ZM717.02 557.87h3.89v3.89h-3.89ZM724.8 557.87h3.89v3.89h-3.89ZM732.58 557.87h3.89v3.89h-3.89Z"/>
<path fill="#0000fe" d="M929.9 650.63H933.79V654.82H929.9ZM926.01 654.52H933.79V658.71H926.01ZM926.01 658.41H937.68V662.6H926.01ZM922.12 662.3H937.68V666.49H922.12ZM922.12 666.19H941.57V670.38H922.12ZM918.23 670.08H941.57V674.27H918.23ZM918.23 673.97H945.46V677.86H918.23Z"/>
<path fill="#0000ae" d="M929.9 650.63h3.89v3.89h-3.89ZM926.01 654.52h3.89v3.89h-3.89ZM929.9 658.41h3.89v3.89h-3.89ZM926.01 662.3h3.89v3.89h-3.89ZM933.79 662.3h3.89v3.89h-3.89ZM922.12 666.19h3.89v3.89h-3.89ZM929.9 666.19h3.89v3.89h-3.89ZM937.68 666.19h3.89v3.89h-3.89ZM918.23 670.08h3.89v3.89h-3.89ZM926.01 670.08h3.89v3.89h-3.89ZM933.79 670.08h3.89v3.89h-3.89ZM922.12 673.97h3.89v3.89h-3.89ZM929.9 673.97h3.89v3.89h-3.89ZM937.68 673.97h3.89v3.89h-3.89Z"/>
<path fill="#0000fe" d="M1340 662.13H1343.89V666.32H1340ZM1336.11 666.02H1343.89V670.21H1336.11ZM1336.11 669.91H1347.78V674.1H1336.11ZM1332.22 673.8H1347.78V677.99H1332.22ZM1332.22 677.69H1351.67V681.88H1332.22ZM1328.33 681.58H1351.67V685.77H1328.33ZM1328.33 685.47H1355.56V689.36H1328.33Z"/>
<path fill="#0000ae" d="M1340 662.13h3.89v3.89h-3.89ZM1336.11 666.02h3.89v3.89h-3.89ZM1340 669.91h3.89v3.89h-3.89ZM1336.11 673.8h3.89v3.89h-3.89ZM1343.89 673.8h3.89v3.89h-3.89ZM1332.22 677.69h3.89v3.89h-3.89ZM1340 677.69h3.89v3.89h-3.89ZM1347.78 677.69h3.89v3.89h-3.89ZM1328.33 681.58h3.89v3.89h-3.89ZM1336.11 681.58h3.89v3.89h-3.89ZM1343.89 681.58h3.89v3.89h-3.89ZM1332.22 685.47h3.89v3.89h-3.89ZM1340 685.47h3.89v3.89h-3.89ZM1347.78 685.47h3.89v3.89h-3.89Z"/>
</g>
<g>
<path fill="#0094ab" d="M248.89 756.91H260.56V761.1H248.89ZM245 760.8H287.79V764.99H245ZM260.56 764.69H315.02V768.88H260.56ZM287.79 768.58H342.25V772.77H287.79ZM315.02 772.47H373.37V776.66H315.02ZM342.25 776.36H385.04V780.55H342.25ZM369.48 780.25H385.04V784.14H369.48Z"/>
<path fill="#00b4a5" d="M245 760.8h3.89v3.89h-3.89ZM252.78 760.8h3.89v3.89h-3.89ZM260.56 760.8h3.89v3.89h-3.89ZM268.34 760.8h3.89v3.89h-3.89ZM276.12 760.8h3.89v3.89h-3.89ZM283.9 760.8h3.89v3.89h-3.89ZM291.68 768.58h3.89v3.89h-3.89ZM299.46 768.58h3.89v3.89h-3.89ZM307.24 768.58h3.89v3.89h-3.89ZM315.02 768.58h3.89v3.89h-3.89ZM322.8 768.58h3.89v3.89h-3.89ZM330.58 768.58h3.89v3.89h-3.89ZM338.36 768.58h3.89v3.89h-3.89ZM346.14 776.36h3.89v3.89h-3.89ZM353.92 776.36h3.89v3.89h-3.89ZM361.7 776.36h3.89v3.89h-3.89ZM369.48 776.36h3.89v3.89h-3.89ZM377.26 776.36h3.89v3.89h-3.89Z"/>
<path fill="#0094ab" d="M582.49 582.11H590.27V586.3H582.49ZM578.6 586H590.27V590.19H578.6ZM574.71 589.89H586.38V594.08H574.71ZM570.82 593.78H582.49V597.97H570.82ZM566.93 597.67H578.6V601.86H566.93ZM563.04 601.56H574.71V605.75H563.04ZM559.15 605.45H570.82V609.64H559.15ZM555.26 609.34H566.93V613.53H555.26ZM551.37 613.23H563.04V617.42H551.37ZM547.48 617.12H559.15V621.31H547.48ZM543.59 621.01H555.26V625.2H543.59ZM539.7 624.9H551.37V629.09H539.7ZM535.81 628.79H547.48V632.98H535.81ZM531.92 632.68H543.59V636.87H531.92ZM528.03 636.57H539.7V640.76H528.03ZM524.14 640.46H535.81V644.65H524.14ZM520.25 644.35H531.92V648.54H520.25ZM516.36 648.24H528.03V652.43H516.36ZM512.47 652.13H524.14V656.32H512.47ZM508.58 656.02H520.25V660.21H508.58ZM504.69 659.91H516.36V664.1H504.69ZM500.8 663.8H512.47V667.99H500.8ZM496.91 667.69H508.58V671.88H496.91ZM493.02 671.58H504.69V675.77H493.02ZM489.13 675.47H500.8V679.66H489.13ZM485.24 679.36H493.02V683.55H485.24ZM477.46 683.25H489.13V687.44H477.46ZM473.57 687.14H485.24V691.33H473.57ZM469.68 691.03H481.35V695.22H469.68ZM465.79 694.92H477.46V699.11H465.79ZM461.9 698.81H473.57V703H461.9ZM458.01 702.7H469.68V706.89H458.01ZM454.12 706.59H465.79V710.78H454.12ZM450.23 710.48H461.9V714.67H450.23ZM446.34 714.37H458.01V718.56H446.34ZM442.45 718.26H454.12V722.45H442.45ZM438.56 722.15H450.23V726.34H438.56ZM434.67 726.04H446.34V730.23H434.67ZM430.78 729.93H442.45V734.12H430.78ZM426.89 733.82H438.56V738.01H426.89ZM423 737.71H434.67V741.9H423ZM419.11 741.6H430.78V745.79H419.11ZM415.22 745.49H426.89V749.68H415.22ZM411.33 749.38H423V753.57H411.33ZM407.44 753.27H419.11V757.46H407.44ZM403.55 757.16H415.22V761.35H403.55ZM399.66 761.05H411.33V765.24H399.66ZM395.77 764.94H407.44V769.13H395.77ZM391.88 768.83H403.55V773.02H391.88ZM387.99 772.72H399.66V776.91H387.99ZM384.1 776.61H395.77V780.5H384.1Z"/>
<path fill="#00b4a5" d="M578.6 586h3.89v3.89h-3.89ZM586.38 586h3.89v3.89h-3.89ZM570.82 593.78h3.89v3.89h-3.89ZM578.6 593.78h3.89v3.89h-3.89ZM563.04 601.56h3.89v3.89h-3.89ZM570.82 601.56h3.89v3.89h-3.89ZM555.26 609.34h3.89v3.89h-3.89ZM563.04 609.34h3.89v3.89h-3.89ZM547.48 617.12h3.89v3.89h-3.89ZM555.26 617.12h3.89v3.89h-3.89ZM539.7 624.9h3.89v3.89h-3.89ZM547.48 624.9h3.89v3.89h-3.89ZM531.92 632.68h3.89v3.89h-3.89ZM539.7 632.68h3.89v3.89h-3.89ZM524.14 640.46h3.89v3.89h-3.89ZM531.92 640.46h3.89v3.89h-3.89ZM516.36 648.24h3.89v3.89h-3.89ZM524.14 648.24h3.89v3.89h-3.89ZM508.58 656.02h3.89v3.89h-3.89ZM516.36 656.02h3.89v3.89h-3.89ZM500.8 663.8h3.89v3.89h-3.89ZM508.58 663.8h3.89v3.89h-3.89ZM493.02 671.58h3.89v3.89h-3.89ZM500.8 671.58h3.89v3.89h-3.89ZM485.24 679.36h3.89v3.89h-3.89ZM477.46 687.14h3.89v3.89h-3.89ZM469.68 694.92h3.89v3.89h-3.89ZM461.9 702.7h3.89v3.89h-3.89ZM454.12 710.48h3.89v3.89h-3.89ZM446.34 718.26h3.89v3.89h-3.89ZM438.56 726.04h3.89v3.89h-3.89ZM430.78 733.82h3.89v3.89h-3.89ZM423 741.6h3.89v3.89h-3.89ZM415.22 749.38h3.89v3.89h-3.89ZM407.44 757.16h3.89v3.89h-3.89ZM399.66 764.94h3.89v3.89h-3.89ZM391.88 772.72h3.89v3.89h-3.89Z"/>
<path fill="#0094ab" d="M589 579.41H725.15V583.6H589ZM592.89 583.3H725.15V587.19H592.89Z"/>
<path fill="#00b4a5" d="M596.78 583.3h3.89v3.89h-3.89ZM604.56 583.3h3.89v3.89h-3.89ZM612.34 583.3h3.89v3.89h-3.89ZM620.12 583.3h3.89v3.89h-3.89ZM627.9 583.3h3.89v3.89h-3.89ZM635.68 583.3h3.89v3.89h-3.89ZM643.46 583.3h3.89v3.89h-3.89ZM651.24 583.3h3.89v3.89h-3.89ZM659.02 583.3h3.89v3.89h-3.89ZM666.8 583.3h3.89v3.89h-3.89ZM674.58 583.3h3.89v3.89h-3.89ZM682.36 583.3h3.89v3.89h-3.89ZM690.14 583.3h3.89v3.89h-3.89ZM697.92 583.3h3.89v3.89h-3.89ZM705.7 583.3h3.89v3.89h-3.89ZM713.48 583.3h3.89v3.89h-3.89ZM721.26 583.3h3.89v3.89h-3.89Z"/>
<path fill="#0094ab" d="M728.69 579.01H736.47V583.2H728.69ZM724.8 582.9H748.14V587.09H724.8ZM732.58 586.79H763.7V590.98H732.58ZM748.14 590.68H779.26V594.87H748.14ZM759.81 594.57H790.93V598.76H759.81ZM775.37 598.46H806.49V602.65H775.37ZM790.93 602.35H822.05V606.54H790.93ZM802.6 606.24H833.72V610.43H802.6ZM818.16 610.13H849.28V614.32H818.16ZM833.72 614.02H860.95V618.21H833.72ZM845.39 617.91H876.51V622.1H845.39ZM860.95 621.8H892.07V625.99H860.95ZM876.51 625.69H903.74V629.88H876.51ZM888.18 629.58H919.3V633.77H888.18ZM903.74 633.47H930.97V637.66H903.74ZM919.3 637.36H930.97V641.25H919.3Z"/>
<path fill="#00b4a5" d="M724.8 582.9h3.89v3.89h-3.89ZM732.58 582.9h3.89v3.89h-3.89ZM740.36 582.9h3.89v3.89h-3.89ZM748.14 590.68h3.89v3.89h-3.89ZM755.92 590.68h3.89v3.89h-3.89ZM763.7 590.68h3.89v3.89h-3.89ZM771.48 590.68h3.89v3.89h-3.89ZM779.26 598.46h3.89v3.89h-3.89ZM787.04 598.46h3.89v3.89h-3.89ZM794.82 598.46h3.89v3.89h-3.89ZM802.6 598.46h3.89v3.89h-3.89ZM802.6 606.24h3.89v3.89h-3.89ZM810.38 606.24h3.89v3.89h-3.89ZM818.16 606.24h3.89v3.89h-3.89ZM825.94 606.24h3.89v3.89h-3.89ZM833.72 614.02h3.89v3.89h-3.89ZM841.5 614.02h3.89v3.89h-3.89ZM849.28 614.02h3.89v3.89h-3.89ZM857.06 614.02h3.89v3.89h-3.89ZM864.84 621.8h3.89v3.89h-3.89ZM872.62 621.8h3.89v3.89h-3.89ZM880.4 621.8h3.89v3.89h-3.89ZM888.18 621.8h3.89v3.89h-3.89ZM888.18 629.58h3.89v3.89h-3.89ZM895.96 629.58h3.89v3.89h-3.89ZM903.74 629.58h3.89v3.89h-3.89ZM911.52 629.58h3.89v3.89h-3.89ZM919.3 637.36h3.89v3.89h-3.89ZM927.08 637.36h3.89v3.89h-3.89Z"/>
<path fill="#0094ab" d="M933.79 635.11H953.24V639.3H933.79ZM929.9 639H996.03V643.19H929.9ZM949.35 642.89H1034.93V647.08H949.35ZM992.14 646.78H1077.72V650.97H992.14ZM1034.93 650.67H1120.51V654.86H1034.93ZM1073.83 654.56H1159.41V658.75H1073.83ZM1116.62 658.45H1202.2V662.64H1116.62ZM1159.41 662.34H1244.99V666.53H1159.41ZM1198.31 666.23H1283.89V670.42H1198.31ZM1241.1 670.12H1326.68V674.31H1241.1ZM1280 674.01H1342.24V678.2H1280ZM1322.79 677.9H1342.24V681.79H1322.79Z"/>
<path fill="#00b4a5" d="M929.9 639h3.89v3.89h-3.89ZM937.68 639h3.89v3.89h-3.89ZM945.46 639h3.89v3.89h-3.89ZM953.24 639h3.89v3.89h-3.89ZM961.02 639h3.89v3.89h-3.89ZM968.8 639h3.89v3.89h-3.89ZM976.58 639h3.89v3.89h-3.89ZM984.36 639h3.89v3.89h-3.89ZM992.14 639h3.89v3.89h-3.89ZM992.14 646.78h3.89v3.89h-3.89ZM999.92 646.78h3.89v3.89h-3.89ZM1007.7 646.78h3.89v3.89h-3.89ZM1015.48 646.78h3.89v3.89h-3.89ZM1023.26 646.78h3.89v3.89h-3.89ZM1031.04 646.78h3.89v3.89h-3.89ZM1038.82 646.78h3.89v3.89h-3.89ZM1046.6 646.78h3.89v3.89h-3.89ZM1054.38 646.78h3.89v3.89h-3.89ZM1062.16 646.78h3.89v3.89h-3.89ZM1069.94 646.78h3.89v3.89h-3.89ZM1077.72 654.56h3.89v3.89h-3.89ZM1085.5 654.56h3.89v3.89h-3.89ZM1093.28 654.56h3.89v3.89h-3.89ZM1101.06 654.56h3.89v3.89h-3.89ZM1108.84 654.56h3.89v3.89h-3.89ZM1116.62 654.56h3.89v3.89h-3.89ZM1124.4 654.56h3.89v3.89h-3.89ZM1132.18 654.56h3.89v3.89h-3.89ZM1139.96 654.56h3.89v3.89h-3.89ZM1147.74 654.56h3.89v3.89h-3.89ZM1155.52 654.56h3.89v3.89h-3.89ZM1163.3 662.34h3.89v3.89h-3.89ZM1171.08 662.34h3.89v3.89h-3.89ZM1178.86 662.34h3.89v3.89h-3.89ZM1186.64 662.34h3.89v3.89h-3.89ZM1194.42 662.34h3.89v3.89h-3.89ZM1202.2 662.34h3.89v3.89h-3.89ZM1209.98 662.34h3.89v3.89h-3.89ZM1217.76 662.34h3.89v3.89h-3.89ZM1225.54 662.34h3.89v3.89h-3.89ZM1233.32 662.34h3.89v3.89h-3.89ZM1241.1 662.34h3.89v3.89h-3.89ZM1241.1 670.12h3.89v3.89h-3.89ZM1248.88 670.12h3.89v3.89h-3.89ZM1256.66 670.12h3.89v3.89h-3.89ZM1264.44 670.12h3.89v3.89h-3.89ZM1272.22 670.12h3.89v3.89h-3.89ZM1280 670.12h3.89v3.89h-3.89ZM1287.78 670.12h3.89v3.89h-3.89ZM1295.56 670.12h3.89v3.89h-3.89ZM1303.34 670.12h3.89v3.89h-3.89ZM1311.12 670.12h3.89v3.89h-3.89ZM1318.9 670.12h3.89v3.89h-3.89ZM1326.68 677.9h3.89v3.89h-3.89ZM1334.46 677.9h3.89v3.89h-3.89Z"/>
<path fill="#0094ab" d="M233.33 734.05H260.56V738.18H233.33ZM245 737.88H248.89V742H245ZM245 741.7H248.89V745.82H245ZM245 745.52H248.89V749.64H245ZM245 749.34H248.89V753.46H245ZM245 753.16H248.89V757.28H245ZM245 756.98H248.89V761.1H245ZM245 760.8H248.89V764.92H245ZM245 764.62H248.89V768.74H245ZM245 768.44H248.89V772.56H245ZM245 772.26H248.89V776.38H245ZM245 776.08H248.89V780.2H245ZM245 779.9H248.89V784.02H245ZM233.33 783.72H260.56V787.55H233.33Z"/>
<path fill="#00b4a5" d="M233.33 734.05h3.89v3.82h-3.89ZM241.11 734.05h3.89v3.82h-3.89ZM248.89 734.05h3.89v3.82h-3.89ZM256.67 734.05h3.89v3.82h-3.89Z"/>
<path fill="#0094ab" d="M372.43 753.05H395.77V757.22H372.43ZM384.1 756.92H387.99V761.09H384.1ZM384.1 760.79H387.99V764.96H384.1ZM384.1 764.66H387.99V768.83H384.1ZM384.1 768.53H387.99V772.7H384.1ZM384.1 772.4H387.99V776.56H384.1ZM384.1 776.26H387.99V780.43H384.1ZM384.1 780.13H387.99V784.3H384.1ZM384.1 784H387.99V788.17H384.1ZM384.1 787.87H387.99V792.04H384.1ZM384.1 791.74H387.99V795.9H384.1ZM384.1 795.6H387.99V799.77H384.1ZM384.1 799.47H387.99V803.64H384.1ZM384.1 803.34H387.99V807.51H384.1ZM384.1 807.21H387.99V811.38H384.1ZM372.43 811.08H395.77V814.95H372.43Z"/>
<path fill="#00b4a5" d="M372.43 753.05h3.89v3.87h-3.89ZM380.21 753.05h3.89v3.87h-3.89ZM387.99 753.05h3.89v3.87h-3.89Z"/>
<path fill="#0094ab" d="M577.33 524.55H604.56V528.74H577.33ZM589 528.44H592.89V532.63H589ZM589 532.33H592.89V536.52H589ZM589 536.22H592.89V540.4H589ZM589 540.1H592.89V544.29H589ZM589 543.99H592.89V548.18H589ZM589 547.88H592.89V552.07H589ZM589 551.77H592.89V555.95H589ZM589 555.65H592.89V559.84H589ZM589 559.54H592.89V563.73H589ZM589 563.43H592.89V567.61H589ZM589 567.31H592.89V571.5H589ZM589 571.2H592.89V575.39H589ZM589 575.09H592.89V579.28H589ZM589 578.98H592.89V583.16H589ZM589 582.86H592.89V587.05H589ZM589 586.75H592.89V590.94H589ZM589 590.64H592.89V594.82H589ZM589 594.52H592.89V598.71H589ZM589 598.41H592.89V602.6H589ZM589 602.3H592.89V606.49H589ZM589 606.19H592.89V610.37H589ZM589 610.07H592.89V614.26H589ZM589 613.96H592.89V618.15H589ZM589 617.85H592.89V622.03H589ZM589 621.73H592.89V625.92H589ZM589 625.62H592.89V629.81H589ZM589 629.51H592.89V633.7H589ZM589 633.4H592.89V637.58H589ZM589 637.28H592.89V641.47H589ZM589 641.17H592.89V645.36H589ZM577.33 645.06H604.56V648.95H577.33Z"/>
<path fill="#00b4a5" d="M577.33 524.55h3.89v3.89h-3.89ZM585.11 524.55h3.89v3.89h-3.89ZM592.89 524.55h3.89v3.89h-3.89ZM600.67 524.55h3.89v3.89h-3.89Z"/>
<path fill="#0094ab" d="M713.13 528.75H740.36V532.92H713.13ZM724.8 532.62H728.69V536.78H724.8ZM724.8 536.48H728.69V540.65H724.8ZM724.8 540.35H728.69V544.51H724.8ZM724.8 544.21H728.69V548.37H724.8ZM724.8 548.07H728.69V552.24H724.8ZM724.8 551.94H728.69V556.1H724.8ZM724.8 555.8H728.69V559.97H724.8ZM724.8 559.67H728.69V563.83H724.8ZM724.8 563.53H728.69V567.69H724.8ZM724.8 567.39H728.69V571.56H724.8ZM724.8 571.26H728.69V575.42H724.8ZM724.8 575.12H728.69V579.29H724.8ZM724.8 578.99H728.69V583.15H724.8ZM724.8 582.85H728.69V587.01H724.8ZM724.8 586.71H728.69V590.88H724.8ZM724.8 590.58H728.69V594.74H724.8ZM724.8 594.44H728.69V598.61H724.8ZM724.8 598.31H728.69V602.47H724.8ZM724.8 602.17H728.69V606.33H724.8ZM724.8 606.03H728.69V610.2H724.8ZM724.8 609.9H728.69V614.06H724.8ZM724.8 613.76H728.69V617.93H724.8ZM724.8 617.63H728.69V621.79H724.8ZM724.8 621.49H728.69V625.65H724.8ZM724.8 625.35H728.69V629.52H724.8ZM724.8 629.22H728.69V633.38H724.8ZM713.13 633.08H740.36V636.95H713.13Z"/>
<path fill="#00b4a5" d="M713.13 528.75h3.89v3.86h-3.89ZM720.91 528.75h3.89v3.86h-3.89ZM728.69 528.75h3.89v3.86h-3.89ZM736.47 528.75h3.89v3.86h-3.89Z"/>
<path fill="#0094ab" d="M918.23 602.35H945.46V606.51H918.23ZM929.9 606.21H933.79V610.37H929.9ZM929.9 610.07H933.79V614.23H929.9ZM929.9 613.93H933.79V618.08H929.9ZM929.9 617.78H933.79V621.94H929.9ZM929.9 621.64H933.79V625.8H929.9ZM929.9 625.5H933.79V629.66H929.9ZM929.9 629.36H933.79V633.51H929.9ZM929.9 633.21H933.79V637.37H929.9ZM929.9 637.07H933.79V641.23H929.9ZM929.9 640.93H933.79V645.09H929.9ZM929.9 644.79H933.79V648.94H929.9ZM929.9 648.64H933.79V652.8H929.9ZM929.9 652.5H933.79V656.66H929.9ZM929.9 656.36H933.79V660.52H929.9ZM929.9 660.22H933.79V664.37H929.9ZM929.9 664.07H933.79V668.23H929.9ZM929.9 667.93H933.79V672.09H929.9ZM918.23 671.79H945.46V675.65H918.23Z"/>
<path fill="#00b4a5" d="M918.23 602.35h3.89v3.86h-3.89ZM926.01 602.35h3.89v3.86h-3.89ZM933.79 602.35h3.89v3.86h-3.89ZM941.57 602.35h3.89v3.86h-3.89ZM918.23 671.79h3.89v3.86h-3.89ZM926.01 671.79h3.89v3.86h-3.89ZM933.79 671.79h3.89v3.86h-3.89ZM941.57 671.79h3.89v3.86h-3.89Z"/>
<path fill="#0094ab" d="M1332.22 629.05H1351.67V633.23H1332.22ZM1340 632.93H1343.89V637.11H1340ZM1340 636.81H1343.89V640.99H1340ZM1340 640.69H1343.89V644.87H1340ZM1340 644.57H1343.89V648.75H1340ZM1340 648.45H1343.89V652.63H1340ZM1340 652.33H1343.89V656.51H1340ZM1340 656.21H1343.89V660.39H1340ZM1340 660.09H1343.89V664.27H1340ZM1340 663.97H1343.89V668.15H1340ZM1340 667.85H1343.89V672.03H1340ZM1340 671.73H1343.89V675.91H1340ZM1340 675.61H1343.89V679.79H1340ZM1340 679.49H1343.89V683.67H1340ZM1340 683.37H1343.89V687.55H1340ZM1340 687.25H1343.89V691.43H1340ZM1340 691.13H1343.89V695.31H1340ZM1340 695.01H1343.89V699.19H1340ZM1340 698.89H1343.89V703.07H1340ZM1340 702.77H1343.89V706.95H1340ZM1340 706.65H1343.89V710.83H1340ZM1340 710.53H1343.89V714.71H1340ZM1340 714.41H1343.89V718.59H1340ZM1340 718.29H1343.89V722.47H1340ZM1332.22 722.17H1351.67V726.05H1332.22Z"/>
<path fill="#00b4a5" d="M1332.22 629.05h3.89v3.88h-3.89ZM1340 629.05h3.89v3.88h-3.89ZM1347.78 629.05h3.89v3.88h-3.89ZM1340 636.81h3.89v3.88h-3.89ZM1340 644.57h3.89v3.88h-3.89ZM1340 652.33h3.89v3.88h-3.89ZM1340 660.09h3.89v3.88h-3.89ZM1340 667.85h3.89v3.88h-3.89ZM1340 675.61h3.89v3.88h-3.89ZM1340 683.37h3.89v3.88h-3.89ZM1340 691.13h3.89v3.88h-3.89ZM1340 698.89h3.89v3.88h-3.89ZM1340 706.65h3.89v3.88h-3.89ZM1340 714.41h3.89v3.88h-3.89ZM1332.22 722.17h3.89v3.88h-3.89ZM1340 722.17h3.89v3.88h-3.89ZM1347.78 722.17h3.89v3.88h-3.89Z"/>
<path fill="#0094ab" d="M233.33 749.13H260.56V753.32H233.33ZM233.33 753.02H256.67V757.21H233.33ZM237.22 756.91H256.67V761.1H237.22ZM237.22 760.8H252.78V764.99H237.22ZM241.11 764.69H252.78V768.88H241.11ZM241.11 768.58H248.89V772.77H241.11ZM245 772.47H248.89V776.36H245Z"/>
<path fill="#00b4a5" d="M233.33 749.13h3.89v3.89h-3.89ZM241.11 749.13h3.89v3.89h-3.89ZM248.89 749.13h3.89v3.89h-3.89ZM256.67 749.13h3.89v3.89h-3.89ZM241.11 756.91h3.89v3.89h-3.89ZM248.89 756.91h3.89v3.89h-3.89ZM241.11 764.69h3.89v3.89h-3.89ZM248.89 764.69h3.89v3.89h-3.89Z"/>
<path fill="#0094ab" d="M372.43 768.83H399.66V773.02H372.43ZM372.43 772.72H395.77V776.91H372.43ZM376.32 776.61H395.77V780.8H376.32ZM376.32 780.5H391.88V784.69H376.32ZM380.21 784.39H391.88V788.58H380.21ZM380.21 788.28H387.99V792.47H380.21ZM384.1 792.17H387.99V796.06H384.1Z"/>
<path fill="#00b4a5" d="M372.43 768.83h3.89v3.89h-3.89ZM380.21 768.83h3.89v3.89h-3.89ZM387.99 768.83h3.89v3.89h-3.89ZM395.77 768.83h3.89v3.89h-3.89ZM380.21 776.61h3.89v3.89h-3.89ZM387.99 776.61h3.89v3.89h-3.89ZM380.21 784.39h3.89v3.89h-3.89ZM387.99 784.39h3.89v3.89h-3.89Z"/>
<path fill="#0094ab" d="M577.33 571.63H604.56V575.82H577.33ZM577.33 575.52H600.67V579.71H577.33ZM581.22 579.41H600.67V583.6H581.22ZM581.22 583.3H596.78V587.49H581.22ZM585.11 587.19H596.78V591.38H585.11ZM585.11 591.08H592.89V595.27H585.11ZM589 594.97H592.89V598.86H589Z"/>
<path fill="#00b4a5" d="M577.33 571.63h3.89v3.89h-3.89ZM585.11 571.63h3.89v3.89h-3.89ZM592.89 571.63h3.89v3.89h-3.89ZM600.67 571.63h3.89v3.89h-3.89ZM585.11 579.41h3.89v3.89h-3.89ZM592.89 579.41h3.89v3.89h-3.89ZM585.11 587.19h3.89v3.89h-3.89ZM592.89 587.19h3.89v3.89h-3.89Z"/>
<path fill="#0094ab" d="M713.13 567.83H740.36V572.02H713.13ZM713.13 571.72H736.47V575.91H713.13ZM717.02 575.61H736.47V579.8H717.02ZM717.02 579.5H732.58V583.69H717.02ZM720.91 583.39H732.58V587.58H720.91ZM720.91 587.28H728.69V591.47H720.91ZM724.8 591.17H728.69V595.06H724.8Z"/>
<path fill="#00b4a5" d="M713.13 567.83h3.89v3.89h-3.89ZM720.91 567.83h3.89v3.89h-3.89ZM728.69 567.83h3.89v3.89h-3.89ZM736.47 567.83h3.89v3.89h-3.89ZM720.91 575.61h3.89v3.89h-3.89ZM728.69 575.61h3.89v3.89h-3.89ZM720.91 583.39h3.89v3.89h-3.89ZM728.69 583.39h3.89v3.89h-3.89Z"/>
<path fill="#0094ab" d="M918.23 627.33H945.46V631.52H918.23ZM918.23 631.22H941.57V635.41H918.23ZM922.12 635.11H941.57V639.3H922.12ZM922.12 639H937.68V643.19H922.12ZM926.01 642.89H937.68V647.08H926.01ZM926.01 646.78H933.79V650.97H926.01ZM929.9 650.67H933.79V654.56H929.9Z"/>
<path fill="#00b4a5" d="M918.23 627.33h3.89v3.89h-3.89ZM926.01 627.33h3.89v3.89h-3.89ZM933.79 627.33h3.89v3.89h-3.89ZM941.57 627.33h3.89v3.89h-3.89ZM926.01 635.11h3.89v3.89h-3.89ZM933.79 635.11h3.89v3.89h-3.89ZM926.01 642.89h3.89v3.89h-3.89ZM933.79 642.89h3.89v3.89h-3.89Z"/>
<path fill="#0094ab" d="M1328.33 665.93H1355.56V670.12H1328.33ZM1328.33 669.82H1351.67V674.01H1328.33ZM1332.22 673.71H1351.67V677.9H1332.22ZM1332.22 677.6H1347.78V681.79H1332.22ZM1336.11 681.49H1347.78V685.68H1336.11ZM1336.11 685.38H1343.89V689.57H1336.11ZM1340 689.27H1343.89V693.16H1340Z"/>
<path fill="#00b4a5" d="M1328.33 665.93h3.89v3.89h-3.89ZM1336.11 665.93h3.89v3.89h-3.89ZM1343.89 665.93h3.89v3.89h-3.89ZM1351.67 665.93h3.89v3.89h-3.89ZM1336.11 673.71h3.89v3.89h-3.89ZM1343.89 673.71h3.89v3.89h-3.89ZM1336.11 681.49h3.89v3.89h-3.89ZM1343.89 681.49h3.89v3.89h-3.89Z"/>
</g>
</g>
<path id="axes" fill="#000" d="M175.2 196h7.85v785.6h-7.85ZM156.05 974h1191.85v7.6h-1191.85ZM156.05 196h20v3.9h-20ZM152.1 199.9h24v3.85h-24ZM156.2 455.1h20v3.8h-20ZM152.1 458.9h24v3.9h-24ZM156.1 714.4h20v7.8h-20ZM245.1 981h7.8v19.9h-7.8ZM245.1 1000.5h3.9v4.2h-3.9ZM380.4 981h7.8v19.9h-7.8ZM380.4 1000.5h7.8v4.2h-7.8ZM516 981h7.8v19.9h-7.8ZM519.9 1000.5h3.9v4.2h-3.9ZM655.2 981h7.8v19.9h-7.8ZM655.2 1000.5h7.8v4.2h-7.8ZM790.6 981h7.8v19.9h-7.8ZM790.6 1000.5h7.8v4.2h-7.8ZM930 981h7.8v19.9h-7.8ZM930 1000.5h3.9v4.2h-3.9ZM1065.3 981h7.8v19.9h-7.8ZM1065.3 1000.5h7.8v4.2h-7.8ZM1201 981h7.8v19.9h-7.8ZM1204.9 1000.5h3.9v4.2h-3.9ZM1340.15 981h7.8v19.9h-7.8ZM1340.15 1000.5h3.9v4.2h-3.9Z"/>
<g id="legend">
<path fill="#b9b9a9" d="M1456.34 242.22H1471.86V246.41H1456.34ZM1452.45 246.11H1475.75V250.3H1452.45ZM1421.4 250H1506.8V254.19H1421.4ZM1421.4 253.89H1506.8V258.08H1421.4ZM1452.45 257.78H1475.75V261.97H1452.45ZM1456.34 261.67H1475.75V265.56H1456.34Z"/>
<path fill="#9292b3" d="M1456.34 242.22h3.88v3.89h-3.88ZM1464.1 242.22h3.88v3.89h-3.88ZM1452.45 246.11h3.88v3.89h-3.88ZM1460.22 246.11h3.88v3.89h-3.88ZM1467.98 246.11h3.88v3.89h-3.88ZM1425.28 250h3.88v3.89h-3.88ZM1433.05 250h3.88v3.89h-3.88ZM1440.81 250h3.88v3.89h-3.88ZM1448.57 250h3.88v3.89h-3.88ZM1456.34 250h3.88v3.89h-3.88ZM1464.1 250h3.88v3.89h-3.88ZM1471.86 250h3.88v3.89h-3.88ZM1479.63 250h3.88v3.89h-3.88ZM1487.39 250h3.88v3.89h-3.88ZM1495.15 250h3.88v3.89h-3.88ZM1502.92 250h3.88v3.89h-3.88ZM1421.4 253.89h3.88v3.89h-3.88ZM1429.16 253.89h3.88v3.89h-3.88ZM1436.93 253.89h3.88v3.89h-3.88ZM1444.69 253.89h3.88v3.89h-3.88ZM1452.45 253.89h3.88v3.89h-3.88ZM1460.22 253.89h3.88v3.89h-3.88ZM1467.98 253.89h3.88v3.89h-3.88ZM1475.75 253.89h3.88v3.89h-3.88ZM1483.51 253.89h3.88v3.89h-3.88ZM1491.27 253.89h3.88v3.89h-3.88ZM1499.04 253.89h3.88v3.89h-3.88ZM1456.34 257.78h3.88v3.89h-3.88ZM1464.1 257.78h3.88v3.89h-3.88ZM1471.86 257.78h3.88v3.89h-3.88ZM1460.22 261.67h3.88v3.89h-3.88ZM1467.98 261.67h3.88v3.89h-3.88Z"/>
<path fill="#000000" d="M1464.1 327.58H1467.98V331.77H1464.1ZM1460.22 331.47H1471.86V335.66H1460.22ZM1456.34 335.36H1475.75V339.55H1456.34ZM1421.4 339.25H1506.8V343.44H1421.4ZM1421.4 343.14H1506.8V347.33H1421.4ZM1456.34 347.03H1475.75V351.22H1456.34ZM1460.22 350.92H1471.86V355.11H1460.22ZM1464.1 354.81H1467.98V358.7H1464.1Z"/>
<path fill="#93dcff" d="M1452.45 420.22H1479.63V424.41H1452.45ZM1452.45 424.11H1479.63V428.3H1452.45ZM1421.4 428H1506.8V432.19H1421.4ZM1421.4 431.89H1506.8V436.08H1421.4ZM1452.45 435.78H1479.63V439.97H1452.45ZM1452.45 439.67H1479.63V443.86H1452.45ZM1452.45 443.56H1479.63V447.45H1452.45Z"/>
<path fill="#95b3ff" d="M1456.34 420.22h3.88v3.89h-3.88ZM1464.1 420.22h3.88v3.89h-3.88ZM1471.86 420.22h3.88v3.89h-3.88ZM1452.45 424.11h3.88v3.89h-3.88ZM1460.22 424.11h3.88v3.89h-3.88ZM1467.98 424.11h3.88v3.89h-3.88ZM1475.75 424.11h3.88v3.89h-3.88ZM1425.28 428h3.88v3.89h-3.88ZM1433.05 428h3.88v3.89h-3.88ZM1440.81 428h3.88v3.89h-3.88ZM1448.57 428h3.88v3.89h-3.88ZM1456.34 428h3.88v3.89h-3.88ZM1464.1 428h3.88v3.89h-3.88ZM1471.86 428h3.88v3.89h-3.88ZM1479.63 428h3.88v3.89h-3.88ZM1487.39 428h3.88v3.89h-3.88ZM1495.15 428h3.88v3.89h-3.88ZM1502.92 428h3.88v3.89h-3.88ZM1421.4 431.89h3.88v3.89h-3.88ZM1429.16 431.89h3.88v3.89h-3.88ZM1436.93 431.89h3.88v3.89h-3.88ZM1444.69 431.89h3.88v3.89h-3.88ZM1452.45 431.89h3.88v3.89h-3.88ZM1460.22 431.89h3.88v3.89h-3.88ZM1467.98 431.89h3.88v3.89h-3.88ZM1475.75 431.89h3.88v3.89h-3.88ZM1483.51 431.89h3.88v3.89h-3.88ZM1491.27 431.89h3.88v3.89h-3.88ZM1499.04 431.89h3.88v3.89h-3.88ZM1456.34 435.78h3.88v3.89h-3.88ZM1464.1 435.78h3.88v3.89h-3.88ZM1471.86 435.78h3.88v3.89h-3.88ZM1452.45 439.67h3.88v3.89h-3.88ZM1460.22 439.67h3.88v3.89h-3.88ZM1467.98 439.67h3.88v3.89h-3.88ZM1475.75 439.67h3.88v3.89h-3.88ZM1456.34 443.56h3.88v3.89h-3.88ZM1464.1 443.56h3.88v3.89h-3.88ZM1471.86 443.56h3.88v3.89h-3.88Z"/>
<path fill="#0000fe" d="M1464.1 509.22H1467.98V513.41H1464.1ZM1460.22 513.11H1467.98V517.3H1460.22ZM1421.4 517H1506.8V521.19H1421.4ZM1421.4 520.89H1506.8V525.08H1421.4ZM1456.34 524.78H1475.75V528.97H1456.34ZM1452.45 528.67H1475.75V532.86H1452.45ZM1452.45 532.56H1479.63V536.45H1452.45Z"/>
<path fill="#0000ae" d="M1464.1 509.22h3.88v3.89h-3.88ZM1460.22 513.11h3.88v3.89h-3.88ZM1425.28 517h3.88v3.89h-3.88ZM1433.05 517h3.88v3.89h-3.88ZM1440.81 517h3.88v3.89h-3.88ZM1448.57 517h3.88v3.89h-3.88ZM1456.34 517h3.88v3.89h-3.88ZM1464.1 517h3.88v3.89h-3.88ZM1471.86 517h3.88v3.89h-3.88ZM1479.63 517h3.88v3.89h-3.88ZM1487.39 517h3.88v3.89h-3.88ZM1495.15 517h3.88v3.89h-3.88ZM1502.92 517h3.88v3.89h-3.88ZM1421.4 520.89h3.88v3.89h-3.88ZM1429.16 520.89h3.88v3.89h-3.88ZM1436.93 520.89h3.88v3.89h-3.88ZM1444.69 520.89h3.88v3.89h-3.88ZM1452.45 520.89h3.88v3.89h-3.88ZM1460.22 520.89h3.88v3.89h-3.88ZM1467.98 520.89h3.88v3.89h-3.88ZM1475.75 520.89h3.88v3.89h-3.88ZM1483.51 520.89h3.88v3.89h-3.88ZM1491.27 520.89h3.88v3.89h-3.88ZM1499.04 520.89h3.88v3.89h-3.88ZM1456.34 524.78h3.88v3.89h-3.88ZM1464.1 524.78h3.88v3.89h-3.88ZM1471.86 524.78h3.88v3.89h-3.88ZM1452.45 528.67h3.88v3.89h-3.88ZM1460.22 528.67h3.88v3.89h-3.88ZM1467.98 528.67h3.88v3.89h-3.88ZM1456.34 532.56h3.88v3.89h-3.88ZM1464.1 532.56h3.88v3.89h-3.88ZM1471.86 532.56h3.88v3.89h-3.88Z"/>
<path fill="#0094ab" d="M1452.45 598.32H1479.63V602.51H1452.45ZM1452.45 602.21H1475.75V606.4H1452.45ZM1421.4 606.1H1506.8V610.29H1421.4ZM1421.4 609.99H1506.8V614.18H1421.4ZM1460.22 613.88H1471.86V618.07H1460.22ZM1460.22 617.77H1467.98V621.96H1460.22ZM1464.1 621.66H1467.98V625.55H1464.1Z"/>
<path fill="#00b4a5" d="M1452.45 598.32h3.88v3.89h-3.88ZM1460.22 598.32h3.88v3.89h-3.88ZM1467.98 598.32h3.88v3.89h-3.88ZM1475.75 598.32h3.88v3.89h-3.88ZM1421.4 606.1h3.88v3.89h-3.88ZM1429.16 606.1h3.88v3.89h-3.88ZM1436.93 606.1h3.88v3.89h-3.88ZM1444.69 606.1h3.88v3.89h-3.88ZM1452.45 606.1h3.88v3.89h-3.88ZM1460.22 606.1h3.88v3.89h-3.88ZM1467.98 606.1h3.88v3.89h-3.88ZM1475.75 606.1h3.88v3.89h-3.88ZM1483.51 606.1h3.88v3.89h-3.88ZM1491.27 606.1h3.88v3.89h-3.88ZM1499.04 606.1h3.88v3.89h-3.88ZM1460.22 613.88h3.88v3.89h-3.88ZM1467.98 613.88h3.88v3.89h-3.88Z"/>
</g>
<g id="labels">
<text y="106.6" font-size="78.26" font-family="'Liberation Sans',Arial,sans-serif" font-weight="bold" class="b"><tspan x="509.63" textLength="124.49" lengthAdjust="spacingAndGlyphs">AX </tspan><tspan x="631.13" textLength="382.79" lengthAdjust="spacingAndGlyphs">Reactance</tspan></text>
<text transform="translate(116.75 218.9) scale(0.9217 1)" font-size="61.45" font-family="'Liberation Sans',Arial,sans-serif" font-weight="bold" class="b">4</text>
<text transform="translate(116.75 477.9) scale(0.9217 1)" font-size="61.45" font-family="'Liberation Sans',Arial,sans-serif" font-weight="bold" class="b">3</text>
<text transform="translate(116.75 737.3) scale(0.9217 1)" font-size="61.45" font-family="'Liberation Sans',Arial,sans-serif" font-weight="bold" class="b">2</text>
<text transform="translate(119.34 996.9) scale(0.9217 1)" font-size="61.45" font-family="'Liberation Sans',Arial,sans-serif" font-weight="bold" class="b">1</text>
<text transform="translate(199.61 1059.4) scale(0.9604 1)" font-size="62.32" font-family="'Liberation Sans',Arial,sans-serif" font-weight="bold" class="b">-20</text>
<text transform="translate(338.11 1059.4) scale(0.9604 1)" font-size="62.32" font-family="'Liberation Sans',Arial,sans-serif" font-weight="bold" class="b">-10</text>
<text transform="translate(502.49 1059.4) scale(0.9604 1)" font-size="62.32" font-family="'Liberation Sans',Arial,sans-serif" font-weight="bold" class="b">0</text>
<text transform="translate(621.16 1059.4) scale(0.9604 1)" font-size="62.32" font-family="'Liberation Sans',Arial,sans-serif" font-weight="bold" class="b">10</text>
<text transform="translate(760.88 1059.4) scale(0.9604 1)" font-size="62.32" font-family="'Liberation Sans',Arial,sans-serif" font-weight="bold" class="b">20</text>
<text transform="translate(896.93 1059.4) scale(0.9604 1)" font-size="62.32" font-family="'Liberation Sans',Arial,sans-serif" font-weight="bold" class="b">30</text>
<text transform="translate(1035.98 1059.4) scale(0.9604 1)" font-size="62.32" font-family="'Liberation Sans',Arial,sans-serif" font-weight="bold" class="b">40</text>
<text transform="translate(1171.38 1059.4) scale(0.9604 1)" font-size="62.32" font-family="'Liberation Sans',Arial,sans-serif" font-weight="bold" class="b">50</text>
<text transform="translate(1306.98 1059.4) scale(0.9604 1)" font-size="62.32" font-family="'Liberation Sans',Arial,sans-serif" font-weight="bold" class="b">60</text>
<text y="1144" font-size="67.1" font-family="'Liberation Sans',Arial,sans-serif" font-weight="bold" class="b"><tspan x="538.49" textLength="158.72" lengthAdjust="spacingAndGlyphs">Time </tspan><tspan x="702.11" textLength="285.81" lengthAdjust="spacingAndGlyphs">[minutes]</tspan></text>
<text transform="translate(83 823.4) rotate(-90)" font-size="68.41" font-family="'Liberation Sans',Arial,sans-serif" font-weight="bold" class="b"><tspan x="-1.57" textLength="261.2" lengthAdjust="spacingAndGlyphs">AX [cmH</tspan><tspan x="257.71" dy="14.7" font-size="55.43" textLength="31.63" lengthAdjust="spacingAndGlyphs">2</tspan><tspan x="288.57" dy="-14.7" textLength="186.07" lengthAdjust="spacingAndGlyphs">O.s/L]</tspan></text>
<text transform="translate(1554.18 273.4) scale(0.9349 1)" font-size="67.05" font-family="'Liberation Sans',Arial,sans-serif" class="r">Sham Smoking</text>
<text transform="translate(1553.82 362) scale(0.9476 1)" font-size="67.05" font-family="'Liberation Sans',Arial,sans-serif" class="r">Cigarette</text>
<text transform="translate(1551.86 451.2) scale(0.9578 1)" font-size="67.05" font-family="'Liberation Sans',Arial,sans-serif" class="r">E-cigarette (without nicotine)</text>
<text transform="translate(1553.93 539.7) scale(0.9156 1)" font-size="67.05" font-family="'Liberation Sans',Arial,sans-serif" class="r">GLO</text>
<text transform="translate(1551.35 628.8) scale(0.9358 1)" font-size="67.05" font-family="'Liberation Sans',Arial,sans-serif" class="r">IQOS</text>
<text transform="translate(1420.94 877.1) scale(0.9681 1)" font-size="44.29" font-family="'Liberation Sans',Arial,sans-serif" class="p">* p&lt;0.05</text>
<text transform="translate(1420.98 930.9) scale(0.9939 1)" font-size="44.14" font-family="'Liberation Sans',Arial,sans-serif" class="p"># p&lt;0.01</text>
<text transform="translate(237.34 218.45) scale(0.9406 1)" font-size="44.09" font-family="'Liberation Sans',Arial,sans-serif" stroke="#2a14f0" stroke-width="0.25" fill="#2a14f0">#</text>
<text transform="translate(240.5 252.14) scale(1.0276 1)" font-size="41.43" font-family="'Liberation Sans',Arial,sans-serif" stroke="#a4c4fb" stroke-width="0.25" fill="#a4c4fb">*</text>
<text transform="translate(236.8 279.24) scale(1.0276 1)" font-size="41.43" font-family="'Liberation Sans',Arial,sans-serif" stroke="#1a0a10" stroke-width="0.25" fill="#1a0a10">*</text>
<text transform="translate(581.74 187.55) scale(0.9406 1)" font-size="44.09" font-family="'Liberation Sans',Arial,sans-serif" stroke="#1b9db3" stroke-width="0.25" fill="#1b9db3">#</text>
<text transform="translate(577.94 218.45) scale(0.9406 1)" font-size="44.09" font-family="'Liberation Sans',Arial,sans-serif" stroke="#2a14f0" stroke-width="0.25" fill="#2a14f0">#</text>
<text transform="translate(577.94 245.85) scale(0.9406 1)" font-size="44.09" font-family="'Liberation Sans',Arial,sans-serif" stroke="#a4c4fb" stroke-width="0.25" fill="#a4c4fb">#</text>
<text transform="translate(574.14 272.65) scale(0.9406 1)" font-size="44.09" font-family="'Liberation Sans',Arial,sans-serif" stroke="#1a0a10" stroke-width="0.25" fill="#1a0a10">#</text>
<text transform="translate(717.24 187.55) scale(0.9406 1)" font-size="44.09" font-family="'Liberation Sans',Arial,sans-serif" stroke="#1b9db3" stroke-width="0.25" fill="#1b9db3">#</text>
<text transform="translate(713.44 218.45) scale(0.9406 1)" font-size="44.09" font-family="'Liberation Sans',Arial,sans-serif" stroke="#2a14f0" stroke-width="0.25" fill="#2a14f0">#</text>
<text transform="translate(713.44 245.85) scale(0.9406 1)" font-size="44.09" font-family="'Liberation Sans',Arial,sans-serif" stroke="#a4c4fb" stroke-width="0.25" fill="#a4c4fb">#</text>
<text transform="translate(713.44 272.65) scale(0.9406 1)" font-size="44.09" font-family="'Liberation Sans',Arial,sans-serif" stroke="#1a0a10" stroke-width="0.25" fill="#1a0a10">#</text>
<text transform="translate(922.34 187.55) scale(0.9406 1)" font-size="44.09" font-family="'Liberation Sans',Arial,sans-serif" stroke="#1b9db3" stroke-width="0.25" fill="#1b9db3">#</text>
<text transform="translate(918.54 218.45) scale(0.9406 1)" font-size="44.09" font-family="'Liberation Sans',Arial,sans-serif" stroke="#2a14f0" stroke-width="0.25" fill="#2a14f0">#</text>
<text transform="translate(918.54 245.85) scale(0.9406 1)" font-size="44.09" font-family="'Liberation Sans',Arial,sans-serif" stroke="#a4c4fb" stroke-width="0.25" fill="#a4c4fb">#</text>
<text transform="translate(918.54 272.65) scale(0.9406 1)" font-size="44.09" font-family="'Liberation Sans',Arial,sans-serif" stroke="#1a0a10" stroke-width="0.25" fill="#1a0a10">#</text>
<text transform="translate(1332.3 194.14) scale(1.0276 1)" font-size="41.43" font-family="'Liberation Sans',Arial,sans-serif" stroke="#1b9db3" stroke-width="0.25" fill="#1b9db3">*</text>
<text transform="translate(1332.3 225.04) scale(1.0276 1)" font-size="41.43" font-family="'Liberation Sans',Arial,sans-serif" stroke="#2a14f0" stroke-width="0.25" fill="#2a14f0">*</text>
<text transform="translate(1325.44 245.85) scale(0.9406 1)" font-size="44.09" font-family="'Liberation Sans',Arial,sans-serif" stroke="#a4c4fb" stroke-width="0.25" fill="#a4c4fb">#</text>
<text transform="translate(1328.5 279.24) scale(1.0276 1)" font-size="41.43" font-family="'Liberation Sans',Arial,sans-serif" stroke="#1a0a10" stroke-width="0.25" fill="#1a0a10">*</text>
</g>
<g id="masks">
<rect x="121.04" y="989.83" width="11.21" height="8.57" fill="#fff"/>
<rect x="140.53" y="989.83" width="9.97" height="8.57" fill="#fff"/>
<rect x="359.84" y="1052.23" width="11.85" height="8.67" fill="#fff"/>
<rect x="380.43" y="1052.23" width="10.53" height="8.67" fill="#fff"/>
<rect x="622.95" y="1052.23" width="11.85" height="8.67" fill="#fff"/>
<rect x="643.54" y="1052.23" width="10.53" height="8.67" fill="#fff"/>
<rect x="1569.9" y="926.49" width="9.56" height="5.91" fill="#fff"/>
<rect x="1583.68" y="926.49" width="9.04" height="5.91" fill="#fff"/>
</g>
</svg>
</body>
</html>
